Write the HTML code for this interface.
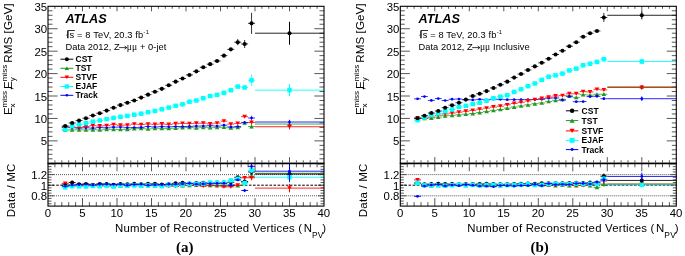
<!DOCTYPE html>
<html><head><meta charset="utf-8"><style>
html,body{margin:0;padding:0;background:#fff;}
body{width:685px;height:256px;overflow:hidden;font-family:"Liberation Sans", sans-serif;}
svg{display:block;will-change:transform;filter:blur(0.4px);}
</style></head><body>
<svg width="685" height="256" viewBox="0 0 685 256">
<rect width="685" height="256" fill="#fff"/>
<line x1="48.00" y1="158.81" x2="52.50" y2="158.81" stroke="#222" stroke-width="0.75" />
<line x1="324.00" y1="158.81" x2="319.50" y2="158.81" stroke="#222" stroke-width="0.75" />
<line x1="48.00" y1="154.33" x2="52.50" y2="154.33" stroke="#222" stroke-width="0.75" />
<line x1="324.00" y1="154.33" x2="319.50" y2="154.33" stroke="#222" stroke-width="0.75" />
<line x1="48.00" y1="149.84" x2="52.50" y2="149.84" stroke="#222" stroke-width="0.75" />
<line x1="324.00" y1="149.84" x2="319.50" y2="149.84" stroke="#222" stroke-width="0.75" />
<line x1="48.00" y1="145.36" x2="52.50" y2="145.36" stroke="#222" stroke-width="0.75" />
<line x1="324.00" y1="145.36" x2="319.50" y2="145.36" stroke="#222" stroke-width="0.75" />
<line x1="48.00" y1="140.87" x2="57.60" y2="140.87" stroke="#222" stroke-width="0.75" />
<line x1="324.00" y1="140.87" x2="314.40" y2="140.87" stroke="#222" stroke-width="0.75" />
<line x1="48.00" y1="136.39" x2="52.50" y2="136.39" stroke="#222" stroke-width="0.75" />
<line x1="324.00" y1="136.39" x2="319.50" y2="136.39" stroke="#222" stroke-width="0.75" />
<line x1="48.00" y1="131.90" x2="52.50" y2="131.90" stroke="#222" stroke-width="0.75" />
<line x1="324.00" y1="131.90" x2="319.50" y2="131.90" stroke="#222" stroke-width="0.75" />
<line x1="48.00" y1="127.41" x2="52.50" y2="127.41" stroke="#222" stroke-width="0.75" />
<line x1="324.00" y1="127.41" x2="319.50" y2="127.41" stroke="#222" stroke-width="0.75" />
<line x1="48.00" y1="122.93" x2="52.50" y2="122.93" stroke="#222" stroke-width="0.75" />
<line x1="324.00" y1="122.93" x2="319.50" y2="122.93" stroke="#222" stroke-width="0.75" />
<line x1="48.00" y1="118.44" x2="57.60" y2="118.44" stroke="#222" stroke-width="0.75" />
<line x1="324.00" y1="118.44" x2="314.40" y2="118.44" stroke="#222" stroke-width="0.75" />
<line x1="48.00" y1="113.96" x2="52.50" y2="113.96" stroke="#222" stroke-width="0.75" />
<line x1="324.00" y1="113.96" x2="319.50" y2="113.96" stroke="#222" stroke-width="0.75" />
<line x1="48.00" y1="109.47" x2="52.50" y2="109.47" stroke="#222" stroke-width="0.75" />
<line x1="324.00" y1="109.47" x2="319.50" y2="109.47" stroke="#222" stroke-width="0.75" />
<line x1="48.00" y1="104.99" x2="52.50" y2="104.99" stroke="#222" stroke-width="0.75" />
<line x1="324.00" y1="104.99" x2="319.50" y2="104.99" stroke="#222" stroke-width="0.75" />
<line x1="48.00" y1="100.50" x2="52.50" y2="100.50" stroke="#222" stroke-width="0.75" />
<line x1="324.00" y1="100.50" x2="319.50" y2="100.50" stroke="#222" stroke-width="0.75" />
<line x1="48.00" y1="96.01" x2="57.60" y2="96.01" stroke="#222" stroke-width="0.75" />
<line x1="324.00" y1="96.01" x2="314.40" y2="96.01" stroke="#222" stroke-width="0.75" />
<line x1="48.00" y1="91.53" x2="52.50" y2="91.53" stroke="#222" stroke-width="0.75" />
<line x1="324.00" y1="91.53" x2="319.50" y2="91.53" stroke="#222" stroke-width="0.75" />
<line x1="48.00" y1="87.04" x2="52.50" y2="87.04" stroke="#222" stroke-width="0.75" />
<line x1="324.00" y1="87.04" x2="319.50" y2="87.04" stroke="#222" stroke-width="0.75" />
<line x1="48.00" y1="82.56" x2="52.50" y2="82.56" stroke="#222" stroke-width="0.75" />
<line x1="324.00" y1="82.56" x2="319.50" y2="82.56" stroke="#222" stroke-width="0.75" />
<line x1="48.00" y1="78.07" x2="52.50" y2="78.07" stroke="#222" stroke-width="0.75" />
<line x1="324.00" y1="78.07" x2="319.50" y2="78.07" stroke="#222" stroke-width="0.75" />
<line x1="48.00" y1="73.59" x2="57.60" y2="73.59" stroke="#222" stroke-width="0.75" />
<line x1="324.00" y1="73.59" x2="314.40" y2="73.59" stroke="#222" stroke-width="0.75" />
<line x1="48.00" y1="69.10" x2="52.50" y2="69.10" stroke="#222" stroke-width="0.75" />
<line x1="324.00" y1="69.10" x2="319.50" y2="69.10" stroke="#222" stroke-width="0.75" />
<line x1="48.00" y1="64.61" x2="52.50" y2="64.61" stroke="#222" stroke-width="0.75" />
<line x1="324.00" y1="64.61" x2="319.50" y2="64.61" stroke="#222" stroke-width="0.75" />
<line x1="48.00" y1="60.13" x2="52.50" y2="60.13" stroke="#222" stroke-width="0.75" />
<line x1="324.00" y1="60.13" x2="319.50" y2="60.13" stroke="#222" stroke-width="0.75" />
<line x1="48.00" y1="55.64" x2="52.50" y2="55.64" stroke="#222" stroke-width="0.75" />
<line x1="324.00" y1="55.64" x2="319.50" y2="55.64" stroke="#222" stroke-width="0.75" />
<line x1="48.00" y1="51.16" x2="57.60" y2="51.16" stroke="#222" stroke-width="0.75" />
<line x1="324.00" y1="51.16" x2="314.40" y2="51.16" stroke="#222" stroke-width="0.75" />
<line x1="48.00" y1="46.67" x2="52.50" y2="46.67" stroke="#222" stroke-width="0.75" />
<line x1="324.00" y1="46.67" x2="319.50" y2="46.67" stroke="#222" stroke-width="0.75" />
<line x1="48.00" y1="42.19" x2="52.50" y2="42.19" stroke="#222" stroke-width="0.75" />
<line x1="324.00" y1="42.19" x2="319.50" y2="42.19" stroke="#222" stroke-width="0.75" />
<line x1="48.00" y1="37.70" x2="52.50" y2="37.70" stroke="#222" stroke-width="0.75" />
<line x1="324.00" y1="37.70" x2="319.50" y2="37.70" stroke="#222" stroke-width="0.75" />
<line x1="48.00" y1="33.21" x2="52.50" y2="33.21" stroke="#222" stroke-width="0.75" />
<line x1="324.00" y1="33.21" x2="319.50" y2="33.21" stroke="#222" stroke-width="0.75" />
<line x1="48.00" y1="28.73" x2="57.60" y2="28.73" stroke="#222" stroke-width="0.75" />
<line x1="324.00" y1="28.73" x2="314.40" y2="28.73" stroke="#222" stroke-width="0.75" />
<line x1="48.00" y1="24.24" x2="52.50" y2="24.24" stroke="#222" stroke-width="0.75" />
<line x1="324.00" y1="24.24" x2="319.50" y2="24.24" stroke="#222" stroke-width="0.75" />
<line x1="48.00" y1="19.76" x2="52.50" y2="19.76" stroke="#222" stroke-width="0.75" />
<line x1="324.00" y1="19.76" x2="319.50" y2="19.76" stroke="#222" stroke-width="0.75" />
<line x1="48.00" y1="15.27" x2="52.50" y2="15.27" stroke="#222" stroke-width="0.75" />
<line x1="324.00" y1="15.27" x2="319.50" y2="15.27" stroke="#222" stroke-width="0.75" />
<line x1="48.00" y1="10.79" x2="52.50" y2="10.79" stroke="#222" stroke-width="0.75" />
<line x1="324.00" y1="10.79" x2="319.50" y2="10.79" stroke="#222" stroke-width="0.75" />
<line x1="54.90" y1="6.30" x2="54.90" y2="8.80" stroke="#222" stroke-width="0.75" />
<line x1="54.90" y1="162.50" x2="54.90" y2="160.30" stroke="#222" stroke-width="0.75" />
<line x1="61.80" y1="6.30" x2="61.80" y2="8.80" stroke="#222" stroke-width="0.75" />
<line x1="61.80" y1="162.50" x2="61.80" y2="160.30" stroke="#222" stroke-width="0.75" />
<line x1="68.70" y1="6.30" x2="68.70" y2="8.80" stroke="#222" stroke-width="0.75" />
<line x1="68.70" y1="162.50" x2="68.70" y2="160.30" stroke="#222" stroke-width="0.75" />
<line x1="75.60" y1="6.30" x2="75.60" y2="8.80" stroke="#222" stroke-width="0.75" />
<line x1="75.60" y1="162.50" x2="75.60" y2="160.30" stroke="#222" stroke-width="0.75" />
<line x1="82.50" y1="6.30" x2="82.50" y2="11.30" stroke="#222" stroke-width="0.75" />
<line x1="82.50" y1="162.50" x2="82.50" y2="157.10" stroke="#222" stroke-width="0.75" />
<line x1="89.40" y1="6.30" x2="89.40" y2="8.80" stroke="#222" stroke-width="0.75" />
<line x1="89.40" y1="162.50" x2="89.40" y2="160.30" stroke="#222" stroke-width="0.75" />
<line x1="96.30" y1="6.30" x2="96.30" y2="8.80" stroke="#222" stroke-width="0.75" />
<line x1="96.30" y1="162.50" x2="96.30" y2="160.30" stroke="#222" stroke-width="0.75" />
<line x1="103.20" y1="6.30" x2="103.20" y2="8.80" stroke="#222" stroke-width="0.75" />
<line x1="103.20" y1="162.50" x2="103.20" y2="160.30" stroke="#222" stroke-width="0.75" />
<line x1="110.10" y1="6.30" x2="110.10" y2="8.80" stroke="#222" stroke-width="0.75" />
<line x1="110.10" y1="162.50" x2="110.10" y2="160.30" stroke="#222" stroke-width="0.75" />
<line x1="117.00" y1="6.30" x2="117.00" y2="11.30" stroke="#222" stroke-width="0.75" />
<line x1="117.00" y1="162.50" x2="117.00" y2="157.10" stroke="#222" stroke-width="0.75" />
<line x1="123.90" y1="6.30" x2="123.90" y2="8.80" stroke="#222" stroke-width="0.75" />
<line x1="123.90" y1="162.50" x2="123.90" y2="160.30" stroke="#222" stroke-width="0.75" />
<line x1="130.80" y1="6.30" x2="130.80" y2="8.80" stroke="#222" stroke-width="0.75" />
<line x1="130.80" y1="162.50" x2="130.80" y2="160.30" stroke="#222" stroke-width="0.75" />
<line x1="137.70" y1="6.30" x2="137.70" y2="8.80" stroke="#222" stroke-width="0.75" />
<line x1="137.70" y1="162.50" x2="137.70" y2="160.30" stroke="#222" stroke-width="0.75" />
<line x1="144.60" y1="6.30" x2="144.60" y2="8.80" stroke="#222" stroke-width="0.75" />
<line x1="144.60" y1="162.50" x2="144.60" y2="160.30" stroke="#222" stroke-width="0.75" />
<line x1="151.50" y1="6.30" x2="151.50" y2="11.30" stroke="#222" stroke-width="0.75" />
<line x1="151.50" y1="162.50" x2="151.50" y2="157.10" stroke="#222" stroke-width="0.75" />
<line x1="158.40" y1="6.30" x2="158.40" y2="8.80" stroke="#222" stroke-width="0.75" />
<line x1="158.40" y1="162.50" x2="158.40" y2="160.30" stroke="#222" stroke-width="0.75" />
<line x1="165.30" y1="6.30" x2="165.30" y2="8.80" stroke="#222" stroke-width="0.75" />
<line x1="165.30" y1="162.50" x2="165.30" y2="160.30" stroke="#222" stroke-width="0.75" />
<line x1="172.20" y1="6.30" x2="172.20" y2="8.80" stroke="#222" stroke-width="0.75" />
<line x1="172.20" y1="162.50" x2="172.20" y2="160.30" stroke="#222" stroke-width="0.75" />
<line x1="179.10" y1="6.30" x2="179.10" y2="8.80" stroke="#222" stroke-width="0.75" />
<line x1="179.10" y1="162.50" x2="179.10" y2="160.30" stroke="#222" stroke-width="0.75" />
<line x1="186.00" y1="6.30" x2="186.00" y2="11.30" stroke="#222" stroke-width="0.75" />
<line x1="186.00" y1="162.50" x2="186.00" y2="157.10" stroke="#222" stroke-width="0.75" />
<line x1="192.90" y1="6.30" x2="192.90" y2="8.80" stroke="#222" stroke-width="0.75" />
<line x1="192.90" y1="162.50" x2="192.90" y2="160.30" stroke="#222" stroke-width="0.75" />
<line x1="199.80" y1="6.30" x2="199.80" y2="8.80" stroke="#222" stroke-width="0.75" />
<line x1="199.80" y1="162.50" x2="199.80" y2="160.30" stroke="#222" stroke-width="0.75" />
<line x1="206.70" y1="6.30" x2="206.70" y2="8.80" stroke="#222" stroke-width="0.75" />
<line x1="206.70" y1="162.50" x2="206.70" y2="160.30" stroke="#222" stroke-width="0.75" />
<line x1="213.60" y1="6.30" x2="213.60" y2="8.80" stroke="#222" stroke-width="0.75" />
<line x1="213.60" y1="162.50" x2="213.60" y2="160.30" stroke="#222" stroke-width="0.75" />
<line x1="220.50" y1="6.30" x2="220.50" y2="11.30" stroke="#222" stroke-width="0.75" />
<line x1="220.50" y1="162.50" x2="220.50" y2="157.10" stroke="#222" stroke-width="0.75" />
<line x1="227.40" y1="6.30" x2="227.40" y2="8.80" stroke="#222" stroke-width="0.75" />
<line x1="227.40" y1="162.50" x2="227.40" y2="160.30" stroke="#222" stroke-width="0.75" />
<line x1="234.30" y1="6.30" x2="234.30" y2="8.80" stroke="#222" stroke-width="0.75" />
<line x1="234.30" y1="162.50" x2="234.30" y2="160.30" stroke="#222" stroke-width="0.75" />
<line x1="241.20" y1="6.30" x2="241.20" y2="8.80" stroke="#222" stroke-width="0.75" />
<line x1="241.20" y1="162.50" x2="241.20" y2="160.30" stroke="#222" stroke-width="0.75" />
<line x1="248.10" y1="6.30" x2="248.10" y2="8.80" stroke="#222" stroke-width="0.75" />
<line x1="248.10" y1="162.50" x2="248.10" y2="160.30" stroke="#222" stroke-width="0.75" />
<line x1="255.00" y1="6.30" x2="255.00" y2="11.30" stroke="#222" stroke-width="0.75" />
<line x1="255.00" y1="162.50" x2="255.00" y2="157.10" stroke="#222" stroke-width="0.75" />
<line x1="261.90" y1="6.30" x2="261.90" y2="8.80" stroke="#222" stroke-width="0.75" />
<line x1="261.90" y1="162.50" x2="261.90" y2="160.30" stroke="#222" stroke-width="0.75" />
<line x1="268.80" y1="6.30" x2="268.80" y2="8.80" stroke="#222" stroke-width="0.75" />
<line x1="268.80" y1="162.50" x2="268.80" y2="160.30" stroke="#222" stroke-width="0.75" />
<line x1="275.70" y1="6.30" x2="275.70" y2="8.80" stroke="#222" stroke-width="0.75" />
<line x1="275.70" y1="162.50" x2="275.70" y2="160.30" stroke="#222" stroke-width="0.75" />
<line x1="282.60" y1="6.30" x2="282.60" y2="8.80" stroke="#222" stroke-width="0.75" />
<line x1="282.60" y1="162.50" x2="282.60" y2="160.30" stroke="#222" stroke-width="0.75" />
<line x1="289.50" y1="6.30" x2="289.50" y2="11.30" stroke="#222" stroke-width="0.75" />
<line x1="289.50" y1="162.50" x2="289.50" y2="157.10" stroke="#222" stroke-width="0.75" />
<line x1="296.40" y1="6.30" x2="296.40" y2="8.80" stroke="#222" stroke-width="0.75" />
<line x1="296.40" y1="162.50" x2="296.40" y2="160.30" stroke="#222" stroke-width="0.75" />
<line x1="303.30" y1="6.30" x2="303.30" y2="8.80" stroke="#222" stroke-width="0.75" />
<line x1="303.30" y1="162.50" x2="303.30" y2="160.30" stroke="#222" stroke-width="0.75" />
<line x1="310.20" y1="6.30" x2="310.20" y2="8.80" stroke="#222" stroke-width="0.75" />
<line x1="310.20" y1="162.50" x2="310.20" y2="160.30" stroke="#222" stroke-width="0.75" />
<line x1="317.10" y1="6.30" x2="317.10" y2="8.80" stroke="#222" stroke-width="0.75" />
<line x1="317.10" y1="162.50" x2="317.10" y2="160.30" stroke="#222" stroke-width="0.75" />
<line x1="48.00" y1="203.75" x2="51.50" y2="203.75" stroke="#222" stroke-width="0.75" />
<line x1="324.00" y1="203.75" x2="320.50" y2="203.75" stroke="#222" stroke-width="0.75" />
<line x1="48.00" y1="201.10" x2="51.50" y2="201.10" stroke="#222" stroke-width="0.75" />
<line x1="324.00" y1="201.10" x2="320.50" y2="201.10" stroke="#222" stroke-width="0.75" />
<line x1="48.00" y1="198.45" x2="51.50" y2="198.45" stroke="#222" stroke-width="0.75" />
<line x1="324.00" y1="198.45" x2="320.50" y2="198.45" stroke="#222" stroke-width="0.75" />
<line x1="48.00" y1="195.80" x2="54.00" y2="195.80" stroke="#222" stroke-width="0.75" />
<line x1="324.00" y1="195.80" x2="318.00" y2="195.80" stroke="#222" stroke-width="0.75" />
<line x1="48.00" y1="193.15" x2="51.50" y2="193.15" stroke="#222" stroke-width="0.75" />
<line x1="324.00" y1="193.15" x2="320.50" y2="193.15" stroke="#222" stroke-width="0.75" />
<line x1="48.00" y1="190.50" x2="51.50" y2="190.50" stroke="#222" stroke-width="0.75" />
<line x1="324.00" y1="190.50" x2="320.50" y2="190.50" stroke="#222" stroke-width="0.75" />
<line x1="48.00" y1="187.85" x2="51.50" y2="187.85" stroke="#222" stroke-width="0.75" />
<line x1="324.00" y1="187.85" x2="320.50" y2="187.85" stroke="#222" stroke-width="0.75" />
<line x1="48.00" y1="185.20" x2="54.00" y2="185.20" stroke="#222" stroke-width="0.75" />
<line x1="324.00" y1="185.20" x2="318.00" y2="185.20" stroke="#222" stroke-width="0.75" />
<line x1="48.00" y1="182.55" x2="51.50" y2="182.55" stroke="#222" stroke-width="0.75" />
<line x1="324.00" y1="182.55" x2="320.50" y2="182.55" stroke="#222" stroke-width="0.75" />
<line x1="48.00" y1="179.90" x2="51.50" y2="179.90" stroke="#222" stroke-width="0.75" />
<line x1="324.00" y1="179.90" x2="320.50" y2="179.90" stroke="#222" stroke-width="0.75" />
<line x1="48.00" y1="177.25" x2="51.50" y2="177.25" stroke="#222" stroke-width="0.75" />
<line x1="324.00" y1="177.25" x2="320.50" y2="177.25" stroke="#222" stroke-width="0.75" />
<line x1="48.00" y1="174.60" x2="54.00" y2="174.60" stroke="#222" stroke-width="0.75" />
<line x1="324.00" y1="174.60" x2="318.00" y2="174.60" stroke="#222" stroke-width="0.75" />
<line x1="48.00" y1="171.95" x2="51.50" y2="171.95" stroke="#222" stroke-width="0.75" />
<line x1="324.00" y1="171.95" x2="320.50" y2="171.95" stroke="#222" stroke-width="0.75" />
<line x1="48.00" y1="169.30" x2="51.50" y2="169.30" stroke="#222" stroke-width="0.75" />
<line x1="324.00" y1="169.30" x2="320.50" y2="169.30" stroke="#222" stroke-width="0.75" />
<line x1="48.00" y1="166.65" x2="51.50" y2="166.65" stroke="#222" stroke-width="0.75" />
<line x1="324.00" y1="166.65" x2="320.50" y2="166.65" stroke="#222" stroke-width="0.75" />
<line x1="48.00" y1="164.00" x2="54.00" y2="164.00" stroke="#222" stroke-width="0.75" />
<line x1="324.00" y1="164.00" x2="318.00" y2="164.00" stroke="#222" stroke-width="0.75" />
<line x1="54.90" y1="163.30" x2="54.90" y2="167.30" stroke="#222" stroke-width="0.75" />
<line x1="54.90" y1="206.10" x2="54.90" y2="202.10" stroke="#222" stroke-width="0.75" />
<line x1="61.80" y1="163.30" x2="61.80" y2="167.30" stroke="#222" stroke-width="0.75" />
<line x1="61.80" y1="206.10" x2="61.80" y2="202.10" stroke="#222" stroke-width="0.75" />
<line x1="68.70" y1="163.30" x2="68.70" y2="167.30" stroke="#222" stroke-width="0.75" />
<line x1="68.70" y1="206.10" x2="68.70" y2="202.10" stroke="#222" stroke-width="0.75" />
<line x1="75.60" y1="163.30" x2="75.60" y2="167.30" stroke="#222" stroke-width="0.75" />
<line x1="75.60" y1="206.10" x2="75.60" y2="202.10" stroke="#222" stroke-width="0.75" />
<line x1="82.50" y1="163.30" x2="82.50" y2="171.30" stroke="#222" stroke-width="0.75" />
<line x1="82.50" y1="206.10" x2="82.50" y2="198.10" stroke="#222" stroke-width="0.75" />
<line x1="89.40" y1="163.30" x2="89.40" y2="167.30" stroke="#222" stroke-width="0.75" />
<line x1="89.40" y1="206.10" x2="89.40" y2="202.10" stroke="#222" stroke-width="0.75" />
<line x1="96.30" y1="163.30" x2="96.30" y2="167.30" stroke="#222" stroke-width="0.75" />
<line x1="96.30" y1="206.10" x2="96.30" y2="202.10" stroke="#222" stroke-width="0.75" />
<line x1="103.20" y1="163.30" x2="103.20" y2="167.30" stroke="#222" stroke-width="0.75" />
<line x1="103.20" y1="206.10" x2="103.20" y2="202.10" stroke="#222" stroke-width="0.75" />
<line x1="110.10" y1="163.30" x2="110.10" y2="167.30" stroke="#222" stroke-width="0.75" />
<line x1="110.10" y1="206.10" x2="110.10" y2="202.10" stroke="#222" stroke-width="0.75" />
<line x1="117.00" y1="163.30" x2="117.00" y2="171.30" stroke="#222" stroke-width="0.75" />
<line x1="117.00" y1="206.10" x2="117.00" y2="198.10" stroke="#222" stroke-width="0.75" />
<line x1="123.90" y1="163.30" x2="123.90" y2="167.30" stroke="#222" stroke-width="0.75" />
<line x1="123.90" y1="206.10" x2="123.90" y2="202.10" stroke="#222" stroke-width="0.75" />
<line x1="130.80" y1="163.30" x2="130.80" y2="167.30" stroke="#222" stroke-width="0.75" />
<line x1="130.80" y1="206.10" x2="130.80" y2="202.10" stroke="#222" stroke-width="0.75" />
<line x1="137.70" y1="163.30" x2="137.70" y2="167.30" stroke="#222" stroke-width="0.75" />
<line x1="137.70" y1="206.10" x2="137.70" y2="202.10" stroke="#222" stroke-width="0.75" />
<line x1="144.60" y1="163.30" x2="144.60" y2="167.30" stroke="#222" stroke-width="0.75" />
<line x1="144.60" y1="206.10" x2="144.60" y2="202.10" stroke="#222" stroke-width="0.75" />
<line x1="151.50" y1="163.30" x2="151.50" y2="171.30" stroke="#222" stroke-width="0.75" />
<line x1="151.50" y1="206.10" x2="151.50" y2="198.10" stroke="#222" stroke-width="0.75" />
<line x1="158.40" y1="163.30" x2="158.40" y2="167.30" stroke="#222" stroke-width="0.75" />
<line x1="158.40" y1="206.10" x2="158.40" y2="202.10" stroke="#222" stroke-width="0.75" />
<line x1="165.30" y1="163.30" x2="165.30" y2="167.30" stroke="#222" stroke-width="0.75" />
<line x1="165.30" y1="206.10" x2="165.30" y2="202.10" stroke="#222" stroke-width="0.75" />
<line x1="172.20" y1="163.30" x2="172.20" y2="167.30" stroke="#222" stroke-width="0.75" />
<line x1="172.20" y1="206.10" x2="172.20" y2="202.10" stroke="#222" stroke-width="0.75" />
<line x1="179.10" y1="163.30" x2="179.10" y2="167.30" stroke="#222" stroke-width="0.75" />
<line x1="179.10" y1="206.10" x2="179.10" y2="202.10" stroke="#222" stroke-width="0.75" />
<line x1="186.00" y1="163.30" x2="186.00" y2="171.30" stroke="#222" stroke-width="0.75" />
<line x1="186.00" y1="206.10" x2="186.00" y2="198.10" stroke="#222" stroke-width="0.75" />
<line x1="192.90" y1="163.30" x2="192.90" y2="167.30" stroke="#222" stroke-width="0.75" />
<line x1="192.90" y1="206.10" x2="192.90" y2="202.10" stroke="#222" stroke-width="0.75" />
<line x1="199.80" y1="163.30" x2="199.80" y2="167.30" stroke="#222" stroke-width="0.75" />
<line x1="199.80" y1="206.10" x2="199.80" y2="202.10" stroke="#222" stroke-width="0.75" />
<line x1="206.70" y1="163.30" x2="206.70" y2="167.30" stroke="#222" stroke-width="0.75" />
<line x1="206.70" y1="206.10" x2="206.70" y2="202.10" stroke="#222" stroke-width="0.75" />
<line x1="213.60" y1="163.30" x2="213.60" y2="167.30" stroke="#222" stroke-width="0.75" />
<line x1="213.60" y1="206.10" x2="213.60" y2="202.10" stroke="#222" stroke-width="0.75" />
<line x1="220.50" y1="163.30" x2="220.50" y2="171.30" stroke="#222" stroke-width="0.75" />
<line x1="220.50" y1="206.10" x2="220.50" y2="198.10" stroke="#222" stroke-width="0.75" />
<line x1="227.40" y1="163.30" x2="227.40" y2="167.30" stroke="#222" stroke-width="0.75" />
<line x1="227.40" y1="206.10" x2="227.40" y2="202.10" stroke="#222" stroke-width="0.75" />
<line x1="234.30" y1="163.30" x2="234.30" y2="167.30" stroke="#222" stroke-width="0.75" />
<line x1="234.30" y1="206.10" x2="234.30" y2="202.10" stroke="#222" stroke-width="0.75" />
<line x1="241.20" y1="163.30" x2="241.20" y2="167.30" stroke="#222" stroke-width="0.75" />
<line x1="241.20" y1="206.10" x2="241.20" y2="202.10" stroke="#222" stroke-width="0.75" />
<line x1="248.10" y1="163.30" x2="248.10" y2="167.30" stroke="#222" stroke-width="0.75" />
<line x1="248.10" y1="206.10" x2="248.10" y2="202.10" stroke="#222" stroke-width="0.75" />
<line x1="255.00" y1="163.30" x2="255.00" y2="171.30" stroke="#222" stroke-width="0.75" />
<line x1="255.00" y1="206.10" x2="255.00" y2="198.10" stroke="#222" stroke-width="0.75" />
<line x1="261.90" y1="163.30" x2="261.90" y2="167.30" stroke="#222" stroke-width="0.75" />
<line x1="261.90" y1="206.10" x2="261.90" y2="202.10" stroke="#222" stroke-width="0.75" />
<line x1="268.80" y1="163.30" x2="268.80" y2="167.30" stroke="#222" stroke-width="0.75" />
<line x1="268.80" y1="206.10" x2="268.80" y2="202.10" stroke="#222" stroke-width="0.75" />
<line x1="275.70" y1="163.30" x2="275.70" y2="167.30" stroke="#222" stroke-width="0.75" />
<line x1="275.70" y1="206.10" x2="275.70" y2="202.10" stroke="#222" stroke-width="0.75" />
<line x1="282.60" y1="163.30" x2="282.60" y2="167.30" stroke="#222" stroke-width="0.75" />
<line x1="282.60" y1="206.10" x2="282.60" y2="202.10" stroke="#222" stroke-width="0.75" />
<line x1="289.50" y1="163.30" x2="289.50" y2="171.30" stroke="#222" stroke-width="0.75" />
<line x1="289.50" y1="206.10" x2="289.50" y2="198.10" stroke="#222" stroke-width="0.75" />
<line x1="296.40" y1="163.30" x2="296.40" y2="167.30" stroke="#222" stroke-width="0.75" />
<line x1="296.40" y1="206.10" x2="296.40" y2="202.10" stroke="#222" stroke-width="0.75" />
<line x1="303.30" y1="163.30" x2="303.30" y2="167.30" stroke="#222" stroke-width="0.75" />
<line x1="303.30" y1="206.10" x2="303.30" y2="202.10" stroke="#222" stroke-width="0.75" />
<line x1="310.20" y1="163.30" x2="310.20" y2="167.30" stroke="#222" stroke-width="0.75" />
<line x1="310.20" y1="206.10" x2="310.20" y2="202.10" stroke="#222" stroke-width="0.75" />
<line x1="317.10" y1="163.30" x2="317.10" y2="167.30" stroke="#222" stroke-width="0.75" />
<line x1="317.10" y1="206.10" x2="317.10" y2="202.10" stroke="#222" stroke-width="0.75" />
<line x1="48.00" y1="174.60" x2="324.00" y2="174.60" stroke="#444" stroke-width="0.9" stroke-dasharray="1,1"/>
<line x1="48.00" y1="195.80" x2="324.00" y2="195.80" stroke="#444" stroke-width="0.9" stroke-dasharray="1,1"/>
<line x1="48.00" y1="185.20" x2="324.00" y2="185.20" stroke="#000" stroke-width="1.0" stroke-dasharray="2.6,1.5"/>
<line x1="61.80" y1="130.03" x2="68.70" y2="130.03" stroke="#1f9a1f" stroke-width="0.8" />
<polygon points="65.25,128.13 67.60,131.93 62.90,131.93" fill="#1f9a1f"/>
<line x1="68.70" y1="129.85" x2="75.60" y2="129.85" stroke="#1f9a1f" stroke-width="0.8" />
<polygon points="72.15,127.95 74.50,131.75 69.80,131.75" fill="#1f9a1f"/>
<line x1="75.60" y1="129.79" x2="82.50" y2="129.79" stroke="#1f9a1f" stroke-width="0.8" />
<polygon points="79.05,127.89 81.40,131.69 76.70,131.69" fill="#1f9a1f"/>
<line x1="82.50" y1="129.93" x2="89.40" y2="129.93" stroke="#1f9a1f" stroke-width="0.8" />
<polygon points="85.95,128.03 88.30,131.83 83.60,131.83" fill="#1f9a1f"/>
<line x1="89.40" y1="129.73" x2="96.30" y2="129.73" stroke="#1f9a1f" stroke-width="0.8" />
<polygon points="92.85,127.83 95.20,131.63 90.50,131.63" fill="#1f9a1f"/>
<line x1="96.30" y1="129.92" x2="103.20" y2="129.92" stroke="#1f9a1f" stroke-width="0.8" />
<polygon points="99.75,128.02 102.10,131.82 97.40,131.82" fill="#1f9a1f"/>
<line x1="103.20" y1="129.31" x2="110.10" y2="129.31" stroke="#1f9a1f" stroke-width="0.8" />
<polygon points="106.65,127.41 109.00,131.21 104.30,131.21" fill="#1f9a1f"/>
<line x1="110.10" y1="129.32" x2="117.00" y2="129.32" stroke="#1f9a1f" stroke-width="0.8" />
<polygon points="113.55,127.42 115.90,131.22 111.20,131.22" fill="#1f9a1f"/>
<line x1="117.00" y1="129.36" x2="123.90" y2="129.36" stroke="#1f9a1f" stroke-width="0.8" />
<polygon points="120.45,127.46 122.80,131.26 118.10,131.26" fill="#1f9a1f"/>
<line x1="123.90" y1="129.37" x2="130.80" y2="129.37" stroke="#1f9a1f" stroke-width="0.8" />
<polygon points="127.35,127.47 129.70,131.27 125.00,131.27" fill="#1f9a1f"/>
<line x1="130.80" y1="128.66" x2="137.70" y2="128.66" stroke="#1f9a1f" stroke-width="0.8" />
<polygon points="134.25,126.76 136.60,130.56 131.90,130.56" fill="#1f9a1f"/>
<line x1="137.70" y1="128.41" x2="144.60" y2="128.41" stroke="#1f9a1f" stroke-width="0.8" />
<polygon points="141.15,126.51 143.50,130.31 138.80,130.31" fill="#1f9a1f"/>
<line x1="144.60" y1="128.91" x2="151.50" y2="128.91" stroke="#1f9a1f" stroke-width="0.8" />
<polygon points="148.05,127.01 150.40,130.81 145.70,130.81" fill="#1f9a1f"/>
<line x1="151.50" y1="128.25" x2="158.40" y2="128.25" stroke="#1f9a1f" stroke-width="0.8" />
<polygon points="154.95,126.35 157.30,130.15 152.60,130.15" fill="#1f9a1f"/>
<line x1="158.40" y1="128.38" x2="165.30" y2="128.38" stroke="#1f9a1f" stroke-width="0.8" />
<polygon points="161.85,126.48 164.20,130.28 159.50,130.28" fill="#1f9a1f"/>
<line x1="165.30" y1="128.41" x2="172.20" y2="128.41" stroke="#1f9a1f" stroke-width="0.8" />
<polygon points="168.75,126.51 171.10,130.31 166.40,130.31" fill="#1f9a1f"/>
<line x1="172.20" y1="128.16" x2="179.10" y2="128.16" stroke="#1f9a1f" stroke-width="0.8" />
<polygon points="175.65,126.26 178.00,130.06 173.30,130.06" fill="#1f9a1f"/>
<line x1="179.10" y1="127.67" x2="186.00" y2="127.67" stroke="#1f9a1f" stroke-width="0.8" />
<polygon points="182.55,125.77 184.90,129.57 180.20,129.57" fill="#1f9a1f"/>
<line x1="186.00" y1="127.45" x2="192.90" y2="127.45" stroke="#1f9a1f" stroke-width="0.8" />
<polygon points="189.45,125.55 191.80,129.35 187.10,129.35" fill="#1f9a1f"/>
<line x1="192.90" y1="127.89" x2="199.80" y2="127.89" stroke="#1f9a1f" stroke-width="0.8" />
<polygon points="196.35,125.99 198.70,129.79 194.00,129.79" fill="#1f9a1f"/>
<line x1="199.80" y1="127.33" x2="206.70" y2="127.33" stroke="#1f9a1f" stroke-width="0.8" />
<polygon points="203.25,125.43 205.60,129.23 200.90,129.23" fill="#1f9a1f"/>
<line x1="206.70" y1="127.70" x2="213.60" y2="127.70" stroke="#1f9a1f" stroke-width="0.8" />
<polygon points="210.15,125.80 212.50,129.60 207.80,129.60" fill="#1f9a1f"/>
<line x1="213.60" y1="127.41" x2="220.50" y2="127.41" stroke="#1f9a1f" stroke-width="0.8" />
<polygon points="217.05,125.51 219.40,129.31 214.70,129.31" fill="#1f9a1f"/>
<line x1="220.50" y1="127.19" x2="227.40" y2="127.19" stroke="#1f9a1f" stroke-width="0.8" />
<polygon points="223.95,125.29 226.30,129.09 221.60,129.09" fill="#1f9a1f"/>
<line x1="227.40" y1="127.86" x2="234.30" y2="127.86" stroke="#1f9a1f" stroke-width="0.8" />
<polygon points="230.85,125.96 233.20,129.76 228.50,129.76" fill="#1f9a1f"/>
<line x1="234.30" y1="127.41" x2="241.20" y2="127.41" stroke="#1f9a1f" stroke-width="0.8" />
<polygon points="237.75,125.51 240.10,129.31 235.40,129.31" fill="#1f9a1f"/>
<line x1="241.20" y1="122.93" x2="248.10" y2="122.93" stroke="#1f9a1f" stroke-width="0.8" />
<line x1="244.65" y1="121.58" x2="244.65" y2="124.27" stroke="#1f9a1f" stroke-width="0.8" />
<polygon points="244.65,121.03 247.00,124.83 242.30,124.83" fill="#1f9a1f"/>
<line x1="248.10" y1="126.52" x2="255.00" y2="126.52" stroke="#1f9a1f" stroke-width="0.8" />
<line x1="251.55" y1="124.72" x2="251.55" y2="128.31" stroke="#1f9a1f" stroke-width="0.8" />
<polygon points="251.55,124.62 253.90,128.42 249.20,128.42" fill="#1f9a1f"/>
<line x1="255.00" y1="124.05" x2="324.00" y2="124.05" stroke="#1f9a1f" stroke-width="0.85" />
<line x1="289.50" y1="122.26" x2="289.50" y2="125.84" stroke="#1f9a1f" stroke-width="1.0" />
<polygon points="289.50,122.15 291.85,125.95 287.15,125.95" fill="#1f9a1f"/>
<line x1="61.80" y1="127.49" x2="68.70" y2="127.49" stroke="#0000ff" stroke-width="0.8" />
<circle cx="65.25" cy="127.49" r="1.35" fill="#0000ff"/>
<line x1="68.70" y1="127.66" x2="75.60" y2="127.66" stroke="#0000ff" stroke-width="0.8" />
<circle cx="72.15" cy="127.66" r="1.35" fill="#0000ff"/>
<line x1="75.60" y1="128.12" x2="82.50" y2="128.12" stroke="#0000ff" stroke-width="0.8" />
<circle cx="79.05" cy="128.12" r="1.35" fill="#0000ff"/>
<line x1="82.50" y1="127.78" x2="89.40" y2="127.78" stroke="#0000ff" stroke-width="0.8" />
<circle cx="85.95" cy="127.78" r="1.35" fill="#0000ff"/>
<line x1="89.40" y1="128.11" x2="96.30" y2="128.11" stroke="#0000ff" stroke-width="0.8" />
<circle cx="92.85" cy="128.11" r="1.35" fill="#0000ff"/>
<line x1="96.30" y1="127.59" x2="103.20" y2="127.59" stroke="#0000ff" stroke-width="0.8" />
<circle cx="99.75" cy="127.59" r="1.35" fill="#0000ff"/>
<line x1="103.20" y1="127.76" x2="110.10" y2="127.76" stroke="#0000ff" stroke-width="0.8" />
<circle cx="106.65" cy="127.76" r="1.35" fill="#0000ff"/>
<line x1="110.10" y1="127.17" x2="117.00" y2="127.17" stroke="#0000ff" stroke-width="0.8" />
<circle cx="113.55" cy="127.17" r="1.35" fill="#0000ff"/>
<line x1="117.00" y1="127.07" x2="123.90" y2="127.07" stroke="#0000ff" stroke-width="0.8" />
<circle cx="120.45" cy="127.07" r="1.35" fill="#0000ff"/>
<line x1="123.90" y1="127.66" x2="130.80" y2="127.66" stroke="#0000ff" stroke-width="0.8" />
<circle cx="127.35" cy="127.66" r="1.35" fill="#0000ff"/>
<line x1="130.80" y1="127.52" x2="137.70" y2="127.52" stroke="#0000ff" stroke-width="0.8" />
<circle cx="134.25" cy="127.52" r="1.35" fill="#0000ff"/>
<line x1="137.70" y1="127.33" x2="144.60" y2="127.33" stroke="#0000ff" stroke-width="0.8" />
<circle cx="141.15" cy="127.33" r="1.35" fill="#0000ff"/>
<line x1="144.60" y1="126.55" x2="151.50" y2="126.55" stroke="#0000ff" stroke-width="0.8" />
<circle cx="148.05" cy="126.55" r="1.35" fill="#0000ff"/>
<line x1="151.50" y1="126.91" x2="158.40" y2="126.91" stroke="#0000ff" stroke-width="0.8" />
<circle cx="154.95" cy="126.91" r="1.35" fill="#0000ff"/>
<line x1="158.40" y1="126.63" x2="165.30" y2="126.63" stroke="#0000ff" stroke-width="0.8" />
<circle cx="161.85" cy="126.63" r="1.35" fill="#0000ff"/>
<line x1="165.30" y1="126.81" x2="172.20" y2="126.81" stroke="#0000ff" stroke-width="0.8" />
<circle cx="168.75" cy="126.81" r="1.35" fill="#0000ff"/>
<line x1="172.20" y1="126.51" x2="179.10" y2="126.51" stroke="#0000ff" stroke-width="0.8" />
<circle cx="175.65" cy="126.51" r="1.35" fill="#0000ff"/>
<line x1="179.10" y1="126.51" x2="186.00" y2="126.51" stroke="#0000ff" stroke-width="0.8" />
<circle cx="182.55" cy="126.51" r="1.35" fill="#0000ff"/>
<line x1="186.00" y1="126.43" x2="192.90" y2="126.43" stroke="#0000ff" stroke-width="0.8" />
<circle cx="189.45" cy="126.43" r="1.35" fill="#0000ff"/>
<line x1="192.90" y1="126.10" x2="199.80" y2="126.10" stroke="#0000ff" stroke-width="0.8" />
<circle cx="196.35" cy="126.10" r="1.35" fill="#0000ff"/>
<line x1="199.80" y1="125.99" x2="206.70" y2="125.99" stroke="#0000ff" stroke-width="0.8" />
<circle cx="203.25" cy="125.99" r="1.35" fill="#0000ff"/>
<line x1="206.70" y1="125.71" x2="213.60" y2="125.71" stroke="#0000ff" stroke-width="0.8" />
<circle cx="210.15" cy="125.71" r="1.35" fill="#0000ff"/>
<line x1="213.60" y1="126.07" x2="220.50" y2="126.07" stroke="#0000ff" stroke-width="0.8" />
<circle cx="217.05" cy="126.07" r="1.35" fill="#0000ff"/>
<line x1="220.50" y1="125.17" x2="227.40" y2="125.17" stroke="#0000ff" stroke-width="0.8" />
<circle cx="223.95" cy="125.17" r="1.35" fill="#0000ff"/>
<line x1="227.40" y1="126.97" x2="234.30" y2="126.97" stroke="#0000ff" stroke-width="0.8" />
<circle cx="230.85" cy="126.97" r="1.35" fill="#0000ff"/>
<line x1="234.30" y1="126.52" x2="241.20" y2="126.52" stroke="#0000ff" stroke-width="0.8" />
<circle cx="237.75" cy="126.52" r="1.35" fill="#0000ff"/>
<line x1="241.20" y1="122.48" x2="248.10" y2="122.48" stroke="#0000ff" stroke-width="0.8" />
<line x1="244.65" y1="120.91" x2="244.65" y2="124.05" stroke="#0000ff" stroke-width="0.8" />
<circle cx="244.65" cy="122.48" r="1.35" fill="#0000ff"/>
<line x1="248.10" y1="117.99" x2="255.00" y2="117.99" stroke="#0000ff" stroke-width="0.8" />
<line x1="251.55" y1="115.75" x2="251.55" y2="120.24" stroke="#0000ff" stroke-width="0.8" />
<circle cx="251.55" cy="117.99" r="1.35" fill="#0000ff"/>
<line x1="255.00" y1="122.03" x2="324.00" y2="122.03" stroke="#0000ff" stroke-width="0.85" />
<line x1="289.50" y1="119.79" x2="289.50" y2="124.27" stroke="#0000ff" stroke-width="1.0" />
<circle cx="289.50" cy="122.03" r="1.35" fill="#0000ff"/>
<line x1="61.80" y1="126.89" x2="68.70" y2="126.89" stroke="#ff0000" stroke-width="0.8" />
<polygon points="65.25,128.79 67.60,124.99 62.90,124.99" fill="#ff0000"/>
<line x1="68.70" y1="127.14" x2="75.60" y2="127.14" stroke="#ff0000" stroke-width="0.8" />
<polygon points="72.15,129.04 74.50,125.24 69.80,125.24" fill="#ff0000"/>
<line x1="75.60" y1="127.55" x2="82.50" y2="127.55" stroke="#ff0000" stroke-width="0.8" />
<polygon points="79.05,129.45 81.40,125.65 76.70,125.65" fill="#ff0000"/>
<line x1="82.50" y1="126.49" x2="89.40" y2="126.49" stroke="#ff0000" stroke-width="0.8" />
<polygon points="85.95,128.39 88.30,124.59 83.60,124.59" fill="#ff0000"/>
<line x1="89.40" y1="125.75" x2="96.30" y2="125.75" stroke="#ff0000" stroke-width="0.8" />
<polygon points="92.85,127.65 95.20,123.85 90.50,123.85" fill="#ff0000"/>
<line x1="96.30" y1="126.00" x2="103.20" y2="126.00" stroke="#ff0000" stroke-width="0.8" />
<polygon points="99.75,127.90 102.10,124.10 97.40,124.10" fill="#ff0000"/>
<line x1="103.20" y1="125.70" x2="110.10" y2="125.70" stroke="#ff0000" stroke-width="0.8" />
<polygon points="106.65,127.60 109.00,123.80 104.30,123.80" fill="#ff0000"/>
<line x1="110.10" y1="124.70" x2="117.00" y2="124.70" stroke="#ff0000" stroke-width="0.8" />
<polygon points="113.55,126.60 115.90,122.80 111.20,122.80" fill="#ff0000"/>
<line x1="117.00" y1="125.21" x2="123.90" y2="125.21" stroke="#ff0000" stroke-width="0.8" />
<polygon points="120.45,127.11 122.80,123.31 118.10,123.31" fill="#ff0000"/>
<line x1="123.90" y1="125.10" x2="130.80" y2="125.10" stroke="#ff0000" stroke-width="0.8" />
<polygon points="127.35,127.00 129.70,123.20 125.00,123.20" fill="#ff0000"/>
<line x1="130.80" y1="124.15" x2="137.70" y2="124.15" stroke="#ff0000" stroke-width="0.8" />
<polygon points="134.25,126.05 136.60,122.25 131.90,122.25" fill="#ff0000"/>
<line x1="137.70" y1="124.59" x2="144.60" y2="124.59" stroke="#ff0000" stroke-width="0.8" />
<polygon points="141.15,126.49 143.50,122.69 138.80,122.69" fill="#ff0000"/>
<line x1="144.60" y1="124.06" x2="151.50" y2="124.06" stroke="#ff0000" stroke-width="0.8" />
<polygon points="148.05,125.96 150.40,122.16 145.70,122.16" fill="#ff0000"/>
<line x1="151.50" y1="124.32" x2="158.40" y2="124.32" stroke="#ff0000" stroke-width="0.8" />
<polygon points="154.95,126.22 157.30,122.42 152.60,122.42" fill="#ff0000"/>
<line x1="158.40" y1="124.01" x2="165.30" y2="124.01" stroke="#ff0000" stroke-width="0.8" />
<polygon points="161.85,125.91 164.20,122.11 159.50,122.11" fill="#ff0000"/>
<line x1="165.30" y1="124.41" x2="172.20" y2="124.41" stroke="#ff0000" stroke-width="0.8" />
<polygon points="168.75,126.31 171.10,122.51 166.40,122.51" fill="#ff0000"/>
<line x1="172.20" y1="123.76" x2="179.10" y2="123.76" stroke="#ff0000" stroke-width="0.8" />
<polygon points="175.65,125.66 178.00,121.86 173.30,121.86" fill="#ff0000"/>
<line x1="179.10" y1="123.37" x2="186.00" y2="123.37" stroke="#ff0000" stroke-width="0.8" />
<polygon points="182.55,125.27 184.90,121.47 180.20,121.47" fill="#ff0000"/>
<line x1="186.00" y1="123.61" x2="192.90" y2="123.61" stroke="#ff0000" stroke-width="0.8" />
<polygon points="189.45,125.51 191.80,121.71 187.10,121.71" fill="#ff0000"/>
<line x1="192.90" y1="123.25" x2="199.80" y2="123.25" stroke="#ff0000" stroke-width="0.8" />
<polygon points="196.35,125.15 198.70,121.35 194.00,121.35" fill="#ff0000"/>
<line x1="199.80" y1="123.19" x2="206.70" y2="123.19" stroke="#ff0000" stroke-width="0.8" />
<polygon points="203.25,125.09 205.60,121.29 200.90,121.29" fill="#ff0000"/>
<line x1="206.70" y1="123.85" x2="213.60" y2="123.85" stroke="#ff0000" stroke-width="0.8" />
<polygon points="210.15,125.75 212.50,121.95 207.80,121.95" fill="#ff0000"/>
<line x1="213.60" y1="123.15" x2="220.50" y2="123.15" stroke="#ff0000" stroke-width="0.8" />
<polygon points="217.05,125.05 219.40,121.25 214.70,121.25" fill="#ff0000"/>
<line x1="220.50" y1="121.13" x2="227.40" y2="121.13" stroke="#ff0000" stroke-width="0.8" />
<polygon points="223.95,123.03 226.30,119.23 221.60,119.23" fill="#ff0000"/>
<line x1="227.40" y1="124.05" x2="234.30" y2="124.05" stroke="#ff0000" stroke-width="0.8" />
<polygon points="230.85,125.95 233.20,122.15 228.50,122.15" fill="#ff0000"/>
<line x1="234.30" y1="123.38" x2="241.20" y2="123.38" stroke="#ff0000" stroke-width="0.8" />
<polygon points="237.75,125.28 240.10,121.48 235.40,121.48" fill="#ff0000"/>
<line x1="241.20" y1="116.65" x2="248.10" y2="116.65" stroke="#ff0000" stroke-width="0.8" />
<line x1="244.65" y1="115.08" x2="244.65" y2="118.22" stroke="#ff0000" stroke-width="0.8" />
<polygon points="244.65,118.55 247.00,114.75 242.30,114.75" fill="#ff0000"/>
<line x1="248.10" y1="122.48" x2="255.00" y2="122.48" stroke="#ff0000" stroke-width="0.8" />
<line x1="251.55" y1="120.24" x2="251.55" y2="124.72" stroke="#ff0000" stroke-width="0.8" />
<polygon points="251.55,124.38 253.90,120.58 249.20,120.58" fill="#ff0000"/>
<line x1="255.00" y1="126.74" x2="324.00" y2="126.74" stroke="#ff0000" stroke-width="0.85" />
<line x1="289.50" y1="124.05" x2="289.50" y2="129.43" stroke="#ff0000" stroke-width="1.0" />
<polygon points="289.50,128.64 291.85,124.84 287.15,124.84" fill="#ff0000"/>
<line x1="61.80" y1="129.52" x2="68.70" y2="129.52" stroke="#00ffff" stroke-width="0.8" />
<rect x="63.00" y="127.27" width="4.50" height="4.50" fill="#00ffff"/>
<line x1="68.70" y1="126.11" x2="75.60" y2="126.11" stroke="#00ffff" stroke-width="0.8" />
<rect x="69.90" y="123.86" width="4.50" height="4.50" fill="#00ffff"/>
<line x1="75.60" y1="124.50" x2="82.50" y2="124.50" stroke="#00ffff" stroke-width="0.8" />
<rect x="76.80" y="122.25" width="4.50" height="4.50" fill="#00ffff"/>
<line x1="82.50" y1="123.11" x2="89.40" y2="123.11" stroke="#00ffff" stroke-width="0.8" />
<rect x="83.70" y="120.86" width="4.50" height="4.50" fill="#00ffff"/>
<line x1="89.40" y1="121.72" x2="96.30" y2="121.72" stroke="#00ffff" stroke-width="0.8" />
<rect x="90.60" y="119.47" width="4.50" height="4.50" fill="#00ffff"/>
<line x1="96.30" y1="120.42" x2="103.20" y2="120.42" stroke="#00ffff" stroke-width="0.8" />
<rect x="97.50" y="118.17" width="4.50" height="4.50" fill="#00ffff"/>
<line x1="103.20" y1="119.12" x2="110.10" y2="119.12" stroke="#00ffff" stroke-width="0.8" />
<rect x="104.40" y="116.87" width="4.50" height="4.50" fill="#00ffff"/>
<line x1="110.10" y1="117.90" x2="117.00" y2="117.90" stroke="#00ffff" stroke-width="0.8" />
<rect x="111.30" y="115.65" width="4.50" height="4.50" fill="#00ffff"/>
<line x1="117.00" y1="116.78" x2="123.90" y2="116.78" stroke="#00ffff" stroke-width="0.8" />
<rect x="118.20" y="114.53" width="4.50" height="4.50" fill="#00ffff"/>
<line x1="123.90" y1="115.89" x2="130.80" y2="115.89" stroke="#00ffff" stroke-width="0.8" />
<rect x="125.10" y="113.64" width="4.50" height="4.50" fill="#00ffff"/>
<line x1="130.80" y1="114.72" x2="137.70" y2="114.72" stroke="#00ffff" stroke-width="0.8" />
<rect x="132.00" y="112.47" width="4.50" height="4.50" fill="#00ffff"/>
<line x1="137.70" y1="113.69" x2="144.60" y2="113.69" stroke="#00ffff" stroke-width="0.8" />
<rect x="138.90" y="111.44" width="4.50" height="4.50" fill="#00ffff"/>
<line x1="144.60" y1="112.21" x2="151.50" y2="112.21" stroke="#00ffff" stroke-width="0.8" />
<rect x="145.80" y="109.96" width="4.50" height="4.50" fill="#00ffff"/>
<line x1="151.50" y1="110.91" x2="158.40" y2="110.91" stroke="#00ffff" stroke-width="0.8" />
<rect x="152.70" y="108.66" width="4.50" height="4.50" fill="#00ffff"/>
<line x1="158.40" y1="109.29" x2="165.30" y2="109.29" stroke="#00ffff" stroke-width="0.8" />
<rect x="159.60" y="107.04" width="4.50" height="4.50" fill="#00ffff"/>
<line x1="165.30" y1="107.59" x2="172.20" y2="107.59" stroke="#00ffff" stroke-width="0.8" />
<rect x="166.50" y="105.34" width="4.50" height="4.50" fill="#00ffff"/>
<line x1="172.20" y1="105.79" x2="179.10" y2="105.79" stroke="#00ffff" stroke-width="0.8" />
<rect x="173.40" y="103.54" width="4.50" height="4.50" fill="#00ffff"/>
<line x1="179.10" y1="104.31" x2="186.00" y2="104.31" stroke="#00ffff" stroke-width="0.8" />
<rect x="180.30" y="102.06" width="4.50" height="4.50" fill="#00ffff"/>
<line x1="186.00" y1="101.71" x2="192.90" y2="101.71" stroke="#00ffff" stroke-width="0.8" />
<rect x="187.20" y="99.46" width="4.50" height="4.50" fill="#00ffff"/>
<line x1="192.90" y1="100.50" x2="199.80" y2="100.50" stroke="#00ffff" stroke-width="0.8" />
<rect x="194.10" y="98.25" width="4.50" height="4.50" fill="#00ffff"/>
<line x1="199.80" y1="98.26" x2="206.70" y2="98.26" stroke="#00ffff" stroke-width="0.8" />
<rect x="201.00" y="96.01" width="4.50" height="4.50" fill="#00ffff"/>
<line x1="206.70" y1="96.01" x2="213.60" y2="96.01" stroke="#00ffff" stroke-width="0.8" />
<rect x="207.90" y="93.76" width="4.50" height="4.50" fill="#00ffff"/>
<line x1="213.60" y1="94.89" x2="220.50" y2="94.89" stroke="#00ffff" stroke-width="0.8" />
<rect x="214.80" y="92.64" width="4.50" height="4.50" fill="#00ffff"/>
<line x1="220.50" y1="92.87" x2="227.40" y2="92.87" stroke="#00ffff" stroke-width="0.8" />
<rect x="221.70" y="90.62" width="4.50" height="4.50" fill="#00ffff"/>
<line x1="227.40" y1="90.18" x2="234.30" y2="90.18" stroke="#00ffff" stroke-width="0.8" />
<rect x="228.60" y="87.93" width="4.50" height="4.50" fill="#00ffff"/>
<line x1="234.30" y1="86.59" x2="241.20" y2="86.59" stroke="#00ffff" stroke-width="0.8" />
<line x1="237.75" y1="85.25" x2="237.75" y2="87.94" stroke="#00ffff" stroke-width="0.8" />
<rect x="235.50" y="84.34" width="4.50" height="4.50" fill="#00ffff"/>
<line x1="241.20" y1="87.49" x2="248.10" y2="87.49" stroke="#00ffff" stroke-width="0.8" />
<line x1="244.65" y1="85.70" x2="244.65" y2="89.29" stroke="#00ffff" stroke-width="0.8" />
<rect x="242.40" y="85.24" width="4.50" height="4.50" fill="#00ffff"/>
<line x1="248.10" y1="80.31" x2="255.00" y2="80.31" stroke="#00ffff" stroke-width="0.8" />
<line x1="251.55" y1="74.48" x2="251.55" y2="86.15" stroke="#00ffff" stroke-width="0.8" />
<rect x="249.30" y="78.06" width="4.50" height="4.50" fill="#00ffff"/>
<line x1="255.00" y1="90.18" x2="324.00" y2="90.18" stroke="#00ffff" stroke-width="0.85" />
<line x1="289.50" y1="84.13" x2="289.50" y2="96.24" stroke="#00ffff" stroke-width="1.0" />
<rect x="287.25" y="87.93" width="4.50" height="4.50" fill="#00ffff"/>
<line x1="61.80" y1="126.11" x2="68.70" y2="126.11" stroke="#000000" stroke-width="0.8" />
<circle cx="65.25" cy="126.11" r="2.05" fill="#000000"/>
<line x1="68.70" y1="122.93" x2="75.60" y2="122.93" stroke="#000000" stroke-width="0.8" />
<circle cx="72.15" cy="122.93" r="2.05" fill="#000000"/>
<line x1="75.60" y1="120.60" x2="82.50" y2="120.60" stroke="#000000" stroke-width="0.8" />
<circle cx="79.05" cy="120.60" r="2.05" fill="#000000"/>
<line x1="82.50" y1="118.22" x2="89.40" y2="118.22" stroke="#000000" stroke-width="0.8" />
<circle cx="85.95" cy="118.22" r="2.05" fill="#000000"/>
<line x1="89.40" y1="115.48" x2="96.30" y2="115.48" stroke="#000000" stroke-width="0.8" />
<circle cx="92.85" cy="115.48" r="2.05" fill="#000000"/>
<line x1="96.30" y1="113.19" x2="103.20" y2="113.19" stroke="#000000" stroke-width="0.8" />
<circle cx="99.75" cy="113.19" r="2.05" fill="#000000"/>
<line x1="103.20" y1="110.59" x2="110.10" y2="110.59" stroke="#000000" stroke-width="0.8" />
<circle cx="106.65" cy="110.59" r="2.05" fill="#000000"/>
<line x1="110.10" y1="107.81" x2="117.00" y2="107.81" stroke="#000000" stroke-width="0.8" />
<circle cx="113.55" cy="107.81" r="2.05" fill="#000000"/>
<line x1="117.00" y1="105.12" x2="123.90" y2="105.12" stroke="#000000" stroke-width="0.8" />
<circle cx="120.45" cy="105.12" r="2.05" fill="#000000"/>
<line x1="123.90" y1="102.70" x2="130.80" y2="102.70" stroke="#000000" stroke-width="0.8" />
<circle cx="127.35" cy="102.70" r="2.05" fill="#000000"/>
<line x1="130.80" y1="100.50" x2="137.70" y2="100.50" stroke="#000000" stroke-width="0.8" />
<circle cx="134.25" cy="100.50" r="2.05" fill="#000000"/>
<line x1="137.70" y1="97.58" x2="144.60" y2="97.58" stroke="#000000" stroke-width="0.8" />
<circle cx="141.15" cy="97.58" r="2.05" fill="#000000"/>
<line x1="144.60" y1="94.67" x2="151.50" y2="94.67" stroke="#000000" stroke-width="0.8" />
<circle cx="148.05" cy="94.67" r="2.05" fill="#000000"/>
<line x1="151.50" y1="91.75" x2="158.40" y2="91.75" stroke="#000000" stroke-width="0.8" />
<circle cx="154.95" cy="91.75" r="2.05" fill="#000000"/>
<line x1="158.40" y1="88.84" x2="165.30" y2="88.84" stroke="#000000" stroke-width="0.8" />
<circle cx="161.85" cy="88.84" r="2.05" fill="#000000"/>
<line x1="165.30" y1="85.25" x2="172.20" y2="85.25" stroke="#000000" stroke-width="0.8" />
<circle cx="168.75" cy="85.25" r="2.05" fill="#000000"/>
<line x1="172.20" y1="81.66" x2="179.10" y2="81.66" stroke="#000000" stroke-width="0.8" />
<circle cx="175.65" cy="81.66" r="2.05" fill="#000000"/>
<line x1="179.10" y1="78.52" x2="186.00" y2="78.52" stroke="#000000" stroke-width="0.8" />
<circle cx="182.55" cy="78.52" r="2.05" fill="#000000"/>
<line x1="186.00" y1="74.93" x2="192.90" y2="74.93" stroke="#000000" stroke-width="0.8" />
<circle cx="189.45" cy="74.93" r="2.05" fill="#000000"/>
<line x1="192.90" y1="71.34" x2="199.80" y2="71.34" stroke="#000000" stroke-width="0.8" />
<circle cx="196.35" cy="71.34" r="2.05" fill="#000000"/>
<line x1="199.80" y1="67.31" x2="206.70" y2="67.31" stroke="#000000" stroke-width="0.8" />
<circle cx="203.25" cy="67.31" r="2.05" fill="#000000"/>
<line x1="206.70" y1="64.17" x2="213.60" y2="64.17" stroke="#000000" stroke-width="0.8" />
<circle cx="210.15" cy="64.17" r="2.05" fill="#000000"/>
<line x1="213.60" y1="61.03" x2="220.50" y2="61.03" stroke="#000000" stroke-width="0.8" />
<circle cx="217.05" cy="61.03" r="2.05" fill="#000000"/>
<line x1="220.50" y1="55.64" x2="227.40" y2="55.64" stroke="#000000" stroke-width="0.8" />
<circle cx="223.95" cy="55.64" r="2.05" fill="#000000"/>
<line x1="227.40" y1="49.36" x2="234.30" y2="49.36" stroke="#000000" stroke-width="0.8" />
<circle cx="230.85" cy="49.36" r="2.05" fill="#000000"/>
<line x1="234.30" y1="42.19" x2="241.20" y2="42.19" stroke="#000000" stroke-width="0.8" />
<line x1="237.75" y1="39.05" x2="237.75" y2="45.33" stroke="#000000" stroke-width="0.8" />
<circle cx="237.75" cy="42.19" r="2.05" fill="#000000"/>
<line x1="241.20" y1="43.98" x2="248.10" y2="43.98" stroke="#000000" stroke-width="0.8" />
<line x1="244.65" y1="39.94" x2="244.65" y2="48.02" stroke="#000000" stroke-width="0.8" />
<circle cx="244.65" cy="43.98" r="2.05" fill="#000000"/>
<line x1="248.10" y1="23.35" x2="255.00" y2="23.35" stroke="#000000" stroke-width="0.8" />
<line x1="251.55" y1="12.80" x2="251.55" y2="33.89" stroke="#000000" stroke-width="0.8" />
<circle cx="251.55" cy="23.35" r="2.05" fill="#000000"/>
<line x1="255.00" y1="33.21" x2="324.00" y2="33.21" stroke="#000000" stroke-width="0.85" />
<line x1="289.50" y1="21.73" x2="289.50" y2="44.70" stroke="#000000" stroke-width="1.0" />
<circle cx="289.50" cy="33.21" r="2.05" fill="#000000"/>
<line x1="61.80" y1="185.20" x2="68.70" y2="185.20" stroke="#1f9a1f" stroke-width="0.9" />
<polygon points="65.25,183.30 67.60,187.10 62.90,187.10" fill="#1f9a1f"/>
<line x1="68.70" y1="185.80" x2="75.60" y2="185.80" stroke="#1f9a1f" stroke-width="0.9" />
<polygon points="72.15,183.90 74.50,187.70 69.80,187.70" fill="#1f9a1f"/>
<line x1="75.60" y1="185.11" x2="82.50" y2="185.11" stroke="#1f9a1f" stroke-width="0.9" />
<polygon points="79.05,183.21 81.40,187.01 76.70,187.01" fill="#1f9a1f"/>
<line x1="82.50" y1="184.90" x2="89.40" y2="184.90" stroke="#1f9a1f" stroke-width="0.9" />
<polygon points="85.95,183.00 88.30,186.80 83.60,186.80" fill="#1f9a1f"/>
<line x1="89.40" y1="185.44" x2="96.30" y2="185.44" stroke="#1f9a1f" stroke-width="0.9" />
<polygon points="92.85,183.54 95.20,187.34 90.50,187.34" fill="#1f9a1f"/>
<line x1="96.30" y1="185.55" x2="103.20" y2="185.55" stroke="#1f9a1f" stroke-width="0.9" />
<polygon points="99.75,183.65 102.10,187.45 97.40,187.45" fill="#1f9a1f"/>
<line x1="103.20" y1="184.81" x2="110.10" y2="184.81" stroke="#1f9a1f" stroke-width="0.9" />
<polygon points="106.65,182.91 109.00,186.71 104.30,186.71" fill="#1f9a1f"/>
<line x1="110.10" y1="185.53" x2="117.00" y2="185.53" stroke="#1f9a1f" stroke-width="0.9" />
<polygon points="113.55,183.63 115.90,187.43 111.20,187.43" fill="#1f9a1f"/>
<line x1="117.00" y1="185.60" x2="123.90" y2="185.60" stroke="#1f9a1f" stroke-width="0.9" />
<polygon points="120.45,183.70 122.80,187.50 118.10,187.50" fill="#1f9a1f"/>
<line x1="123.90" y1="185.28" x2="130.80" y2="185.28" stroke="#1f9a1f" stroke-width="0.9" />
<polygon points="127.35,183.38 129.70,187.18 125.00,187.18" fill="#1f9a1f"/>
<line x1="130.80" y1="184.95" x2="137.70" y2="184.95" stroke="#1f9a1f" stroke-width="0.9" />
<polygon points="134.25,183.05 136.60,186.85 131.90,186.85" fill="#1f9a1f"/>
<line x1="137.70" y1="185.71" x2="144.60" y2="185.71" stroke="#1f9a1f" stroke-width="0.9" />
<polygon points="141.15,183.81 143.50,187.61 138.80,187.61" fill="#1f9a1f"/>
<line x1="144.60" y1="185.43" x2="151.50" y2="185.43" stroke="#1f9a1f" stroke-width="0.9" />
<polygon points="148.05,183.53 150.40,187.33 145.70,187.33" fill="#1f9a1f"/>
<line x1="151.50" y1="185.41" x2="158.40" y2="185.41" stroke="#1f9a1f" stroke-width="0.9" />
<polygon points="154.95,183.51 157.30,187.31 152.60,187.31" fill="#1f9a1f"/>
<line x1="158.40" y1="184.78" x2="165.30" y2="184.78" stroke="#1f9a1f" stroke-width="0.9" />
<polygon points="161.85,182.88 164.20,186.68 159.50,186.68" fill="#1f9a1f"/>
<line x1="165.30" y1="185.28" x2="172.20" y2="185.28" stroke="#1f9a1f" stroke-width="0.9" />
<polygon points="168.75,183.38 171.10,187.18 166.40,187.18" fill="#1f9a1f"/>
<line x1="172.20" y1="184.75" x2="179.10" y2="184.75" stroke="#1f9a1f" stroke-width="0.9" />
<polygon points="175.65,182.85 178.00,186.65 173.30,186.65" fill="#1f9a1f"/>
<line x1="179.10" y1="185.62" x2="186.00" y2="185.62" stroke="#1f9a1f" stroke-width="0.9" />
<polygon points="182.55,183.72 184.90,187.52 180.20,187.52" fill="#1f9a1f"/>
<line x1="186.00" y1="185.41" x2="192.90" y2="185.41" stroke="#1f9a1f" stroke-width="0.9" />
<polygon points="189.45,183.51 191.80,187.31 187.10,187.31" fill="#1f9a1f"/>
<line x1="192.90" y1="185.01" x2="199.80" y2="185.01" stroke="#1f9a1f" stroke-width="0.9" />
<polygon points="196.35,183.11 198.70,186.91 194.00,186.91" fill="#1f9a1f"/>
<line x1="199.80" y1="184.71" x2="206.70" y2="184.71" stroke="#1f9a1f" stroke-width="0.9" />
<polygon points="203.25,182.81 205.60,186.61 200.90,186.61" fill="#1f9a1f"/>
<line x1="206.70" y1="185.26" x2="213.60" y2="185.26" stroke="#1f9a1f" stroke-width="0.9" />
<polygon points="210.15,183.36 212.50,187.16 207.80,187.16" fill="#1f9a1f"/>
<line x1="213.60" y1="185.55" x2="220.50" y2="185.55" stroke="#1f9a1f" stroke-width="0.9" />
<polygon points="217.05,183.65 219.40,187.45 214.70,187.45" fill="#1f9a1f"/>
<line x1="220.50" y1="185.68" x2="227.40" y2="185.68" stroke="#1f9a1f" stroke-width="0.9" />
<polygon points="223.95,183.78 226.30,187.58 221.60,187.58" fill="#1f9a1f"/>
<line x1="227.40" y1="185.16" x2="234.30" y2="185.16" stroke="#1f9a1f" stroke-width="0.9" />
<polygon points="230.85,183.26 233.20,187.06 228.50,187.06" fill="#1f9a1f"/>
<line x1="234.30" y1="185.59" x2="241.20" y2="185.59" stroke="#1f9a1f" stroke-width="0.9" />
<polygon points="237.75,183.69 240.10,187.49 235.40,187.49" fill="#1f9a1f"/>
<line x1="241.20" y1="182.55" x2="248.10" y2="182.55" stroke="#1f9a1f" stroke-width="0.9" />
<line x1="244.65" y1="180.96" x2="244.65" y2="184.14" stroke="#1f9a1f" stroke-width="0.9" />
<polygon points="244.65,180.65 247.00,184.45 242.30,184.45" fill="#1f9a1f"/>
<line x1="248.10" y1="176.19" x2="255.00" y2="176.19" stroke="#1f9a1f" stroke-width="0.9" />
<line x1="251.55" y1="173.54" x2="251.55" y2="178.84" stroke="#1f9a1f" stroke-width="0.9" />
<polygon points="251.55,174.29 253.90,178.09 249.20,178.09" fill="#1f9a1f"/>
<line x1="255.00" y1="173.27" x2="324.00" y2="173.27" stroke="#1f9a1f" stroke-width="0.85" />
<polygon points="289.50,171.37 291.85,175.17 287.15,175.17" fill="#1f9a1f"/>
<line x1="61.80" y1="183.40" x2="68.70" y2="183.40" stroke="#ff0000" stroke-width="0.9" />
<polygon points="65.25,185.30 67.60,181.50 62.90,181.50" fill="#ff0000"/>
<line x1="68.70" y1="185.75" x2="75.60" y2="185.75" stroke="#ff0000" stroke-width="0.9" />
<polygon points="72.15,187.65 74.50,183.85 69.80,183.85" fill="#ff0000"/>
<line x1="75.60" y1="185.07" x2="82.50" y2="185.07" stroke="#ff0000" stroke-width="0.9" />
<polygon points="79.05,186.97 81.40,183.17 76.70,183.17" fill="#ff0000"/>
<line x1="82.50" y1="185.28" x2="89.40" y2="185.28" stroke="#ff0000" stroke-width="0.9" />
<polygon points="85.95,187.18 88.30,183.38 83.60,183.38" fill="#ff0000"/>
<line x1="89.40" y1="185.08" x2="96.30" y2="185.08" stroke="#ff0000" stroke-width="0.9" />
<polygon points="92.85,186.98 95.20,183.18 90.50,183.18" fill="#ff0000"/>
<line x1="96.30" y1="185.66" x2="103.20" y2="185.66" stroke="#ff0000" stroke-width="0.9" />
<polygon points="99.75,187.56 102.10,183.76 97.40,183.76" fill="#ff0000"/>
<line x1="103.20" y1="185.94" x2="110.10" y2="185.94" stroke="#ff0000" stroke-width="0.9" />
<polygon points="106.65,187.84 109.00,184.04 104.30,184.04" fill="#ff0000"/>
<line x1="110.10" y1="185.73" x2="117.00" y2="185.73" stroke="#ff0000" stroke-width="0.9" />
<polygon points="113.55,187.63 115.90,183.83 111.20,183.83" fill="#ff0000"/>
<line x1="117.00" y1="185.09" x2="123.90" y2="185.09" stroke="#ff0000" stroke-width="0.9" />
<polygon points="120.45,186.99 122.80,183.19 118.10,183.19" fill="#ff0000"/>
<line x1="123.90" y1="185.76" x2="130.80" y2="185.76" stroke="#ff0000" stroke-width="0.9" />
<polygon points="127.35,187.66 129.70,183.86 125.00,183.86" fill="#ff0000"/>
<line x1="130.80" y1="185.66" x2="137.70" y2="185.66" stroke="#ff0000" stroke-width="0.9" />
<polygon points="134.25,187.56 136.60,183.76 131.90,183.76" fill="#ff0000"/>
<line x1="137.70" y1="185.57" x2="144.60" y2="185.57" stroke="#ff0000" stroke-width="0.9" />
<polygon points="141.15,187.47 143.50,183.67 138.80,183.67" fill="#ff0000"/>
<line x1="144.60" y1="185.57" x2="151.50" y2="185.57" stroke="#ff0000" stroke-width="0.9" />
<polygon points="148.05,187.47 150.40,183.67 145.70,183.67" fill="#ff0000"/>
<line x1="151.50" y1="185.62" x2="158.40" y2="185.62" stroke="#ff0000" stroke-width="0.9" />
<polygon points="154.95,187.52 157.30,183.72 152.60,183.72" fill="#ff0000"/>
<line x1="158.40" y1="185.06" x2="165.30" y2="185.06" stroke="#ff0000" stroke-width="0.9" />
<polygon points="161.85,186.96 164.20,183.16 159.50,183.16" fill="#ff0000"/>
<line x1="165.30" y1="186.12" x2="172.20" y2="186.12" stroke="#ff0000" stroke-width="0.9" />
<polygon points="168.75,188.02 171.10,184.22 166.40,184.22" fill="#ff0000"/>
<line x1="172.20" y1="186.40" x2="179.10" y2="186.40" stroke="#ff0000" stroke-width="0.9" />
<polygon points="175.65,188.30 178.00,184.50 173.30,184.50" fill="#ff0000"/>
<line x1="179.10" y1="185.30" x2="186.00" y2="185.30" stroke="#ff0000" stroke-width="0.9" />
<polygon points="182.55,187.20 184.90,183.40 180.20,183.40" fill="#ff0000"/>
<line x1="186.00" y1="185.47" x2="192.90" y2="185.47" stroke="#ff0000" stroke-width="0.9" />
<polygon points="189.45,187.37 191.80,183.57 187.10,183.57" fill="#ff0000"/>
<line x1="192.90" y1="185.42" x2="199.80" y2="185.42" stroke="#ff0000" stroke-width="0.9" />
<polygon points="196.35,187.32 198.70,183.52 194.00,183.52" fill="#ff0000"/>
<line x1="199.80" y1="186.21" x2="206.70" y2="186.21" stroke="#ff0000" stroke-width="0.9" />
<polygon points="203.25,188.11 205.60,184.31 200.90,184.31" fill="#ff0000"/>
<line x1="206.70" y1="185.64" x2="213.60" y2="185.64" stroke="#ff0000" stroke-width="0.9" />
<polygon points="210.15,187.54 212.50,183.74 207.80,183.74" fill="#ff0000"/>
<line x1="213.60" y1="185.76" x2="220.50" y2="185.76" stroke="#ff0000" stroke-width="0.9" />
<polygon points="217.05,187.66 219.40,183.86 214.70,183.86" fill="#ff0000"/>
<line x1="220.50" y1="186.75" x2="227.40" y2="186.75" stroke="#ff0000" stroke-width="0.9" />
<polygon points="223.95,188.65 226.30,184.85 221.60,184.85" fill="#ff0000"/>
<line x1="227.40" y1="186.79" x2="234.30" y2="186.79" stroke="#ff0000" stroke-width="0.9" />
<polygon points="230.85,188.69 233.20,184.89 228.50,184.89" fill="#ff0000"/>
<line x1="234.30" y1="185.20" x2="241.20" y2="185.20" stroke="#ff0000" stroke-width="0.9" />
<polygon points="237.75,187.10 240.10,183.30 235.40,183.30" fill="#ff0000"/>
<line x1="241.20" y1="177.78" x2="248.10" y2="177.78" stroke="#ff0000" stroke-width="0.9" />
<line x1="244.65" y1="176.19" x2="244.65" y2="179.37" stroke="#ff0000" stroke-width="0.9" />
<polygon points="244.65,179.68 247.00,175.88 242.30,175.88" fill="#ff0000"/>
<line x1="248.10" y1="177.78" x2="255.00" y2="177.78" stroke="#ff0000" stroke-width="0.9" />
<line x1="251.55" y1="175.13" x2="251.55" y2="180.43" stroke="#ff0000" stroke-width="0.9" />
<polygon points="251.55,179.68 253.90,175.88 249.20,175.88" fill="#ff0000"/>
<line x1="255.00" y1="188.11" x2="324.00" y2="188.11" stroke="#ff0000" stroke-width="0.85" />
<line x1="289.50" y1="183.87" x2="289.50" y2="192.35" stroke="#ff0000" stroke-width="1.0" />
<polygon points="289.50,190.01 291.85,186.21 287.15,186.21" fill="#ff0000"/>
<line x1="61.80" y1="185.20" x2="68.70" y2="185.20" stroke="#000" stroke-width="0.9" />
<circle cx="65.25" cy="185.20" r="2.05" fill="#000"/>
<line x1="68.70" y1="182.55" x2="75.60" y2="182.55" stroke="#000" stroke-width="0.9" />
<circle cx="72.15" cy="182.55" r="2.05" fill="#000"/>
<line x1="75.60" y1="184.25" x2="82.50" y2="184.25" stroke="#000" stroke-width="0.9" />
<circle cx="79.05" cy="184.25" r="2.05" fill="#000"/>
<line x1="82.50" y1="184.04" x2="89.40" y2="184.04" stroke="#000" stroke-width="0.9" />
<circle cx="85.95" cy="184.04" r="2.05" fill="#000"/>
<line x1="89.40" y1="184.75" x2="96.30" y2="184.75" stroke="#000" stroke-width="0.9" />
<circle cx="92.85" cy="184.75" r="2.05" fill="#000"/>
<line x1="96.30" y1="183.99" x2="103.20" y2="183.99" stroke="#000" stroke-width="0.9" />
<circle cx="99.75" cy="183.99" r="2.05" fill="#000"/>
<line x1="103.20" y1="183.97" x2="110.10" y2="183.97" stroke="#000" stroke-width="0.9" />
<circle cx="106.65" cy="183.97" r="2.05" fill="#000"/>
<line x1="110.10" y1="184.70" x2="117.00" y2="184.70" stroke="#000" stroke-width="0.9" />
<circle cx="113.55" cy="184.70" r="2.05" fill="#000"/>
<line x1="117.00" y1="183.98" x2="123.90" y2="183.98" stroke="#000" stroke-width="0.9" />
<circle cx="120.45" cy="183.98" r="2.05" fill="#000"/>
<line x1="123.90" y1="184.18" x2="130.80" y2="184.18" stroke="#000" stroke-width="0.9" />
<circle cx="127.35" cy="184.18" r="2.05" fill="#000"/>
<line x1="130.80" y1="183.91" x2="137.70" y2="183.91" stroke="#000" stroke-width="0.9" />
<circle cx="134.25" cy="183.91" r="2.05" fill="#000"/>
<line x1="137.70" y1="184.33" x2="144.60" y2="184.33" stroke="#000" stroke-width="0.9" />
<circle cx="141.15" cy="184.33" r="2.05" fill="#000"/>
<line x1="144.60" y1="183.88" x2="151.50" y2="183.88" stroke="#000" stroke-width="0.9" />
<circle cx="148.05" cy="183.88" r="2.05" fill="#000"/>
<line x1="151.50" y1="183.75" x2="158.40" y2="183.75" stroke="#000" stroke-width="0.9" />
<circle cx="154.95" cy="183.75" r="2.05" fill="#000"/>
<line x1="158.40" y1="184.48" x2="165.30" y2="184.48" stroke="#000" stroke-width="0.9" />
<circle cx="161.85" cy="184.48" r="2.05" fill="#000"/>
<line x1="165.30" y1="184.26" x2="172.20" y2="184.26" stroke="#000" stroke-width="0.9" />
<circle cx="168.75" cy="184.26" r="2.05" fill="#000"/>
<line x1="172.20" y1="183.30" x2="179.10" y2="183.30" stroke="#000" stroke-width="0.9" />
<circle cx="175.65" cy="183.30" r="2.05" fill="#000"/>
<line x1="179.10" y1="182.76" x2="186.00" y2="182.76" stroke="#000" stroke-width="0.9" />
<circle cx="182.55" cy="182.76" r="2.05" fill="#000"/>
<line x1="186.00" y1="183.48" x2="192.90" y2="183.48" stroke="#000" stroke-width="0.9" />
<circle cx="189.45" cy="183.48" r="2.05" fill="#000"/>
<line x1="192.90" y1="183.05" x2="199.80" y2="183.05" stroke="#000" stroke-width="0.9" />
<circle cx="196.35" cy="183.05" r="2.05" fill="#000"/>
<line x1="199.80" y1="182.70" x2="206.70" y2="182.70" stroke="#000" stroke-width="0.9" />
<circle cx="203.25" cy="182.70" r="2.05" fill="#000"/>
<line x1="206.70" y1="182.87" x2="213.60" y2="182.87" stroke="#000" stroke-width="0.9" />
<circle cx="210.15" cy="182.87" r="2.05" fill="#000"/>
<line x1="213.60" y1="182.63" x2="220.50" y2="182.63" stroke="#000" stroke-width="0.9" />
<circle cx="217.05" cy="182.63" r="2.05" fill="#000"/>
<line x1="220.50" y1="182.52" x2="227.40" y2="182.52" stroke="#000" stroke-width="0.9" />
<circle cx="223.95" cy="182.52" r="2.05" fill="#000"/>
<line x1="227.40" y1="182.27" x2="234.30" y2="182.27" stroke="#000" stroke-width="0.9" />
<circle cx="230.85" cy="182.27" r="2.05" fill="#000"/>
<line x1="234.30" y1="177.25" x2="241.20" y2="177.25" stroke="#000" stroke-width="0.9" />
<circle cx="237.75" cy="177.25" r="2.05" fill="#000"/>
<line x1="241.20" y1="181.49" x2="248.10" y2="181.49" stroke="#000" stroke-width="0.9" />
<line x1="244.65" y1="179.90" x2="244.65" y2="183.08" stroke="#000" stroke-width="0.9" />
<circle cx="244.65" cy="181.49" r="2.05" fill="#000"/>
<line x1="248.10" y1="171.95" x2="255.00" y2="171.95" stroke="#000" stroke-width="0.9" />
<line x1="251.55" y1="169.30" x2="251.55" y2="174.60" stroke="#000" stroke-width="0.9" />
<circle cx="251.55" cy="171.95" r="2.05" fill="#000"/>
<line x1="255.00" y1="174.07" x2="324.00" y2="174.07" stroke="#000" stroke-width="0.85" />
<line x1="289.50" y1="171.42" x2="289.50" y2="176.72" stroke="#000" stroke-width="1.0" />
<circle cx="289.50" cy="174.07" r="2.05" fill="#000"/>
<line x1="61.80" y1="187.32" x2="68.70" y2="187.32" stroke="#00ffff" stroke-width="0.9" />
<rect x="63.00" y="185.07" width="4.50" height="4.50" fill="#00ffff"/>
<line x1="68.70" y1="186.20" x2="75.60" y2="186.20" stroke="#00ffff" stroke-width="0.9" />
<rect x="69.90" y="183.95" width="4.50" height="4.50" fill="#00ffff"/>
<line x1="75.60" y1="186.34" x2="82.50" y2="186.34" stroke="#00ffff" stroke-width="0.9" />
<rect x="76.80" y="184.09" width="4.50" height="4.50" fill="#00ffff"/>
<line x1="82.50" y1="186.54" x2="89.40" y2="186.54" stroke="#00ffff" stroke-width="0.9" />
<rect x="83.70" y="184.29" width="4.50" height="4.50" fill="#00ffff"/>
<line x1="89.40" y1="185.88" x2="96.30" y2="185.88" stroke="#00ffff" stroke-width="0.9" />
<rect x="90.60" y="183.63" width="4.50" height="4.50" fill="#00ffff"/>
<line x1="96.30" y1="186.27" x2="103.20" y2="186.27" stroke="#00ffff" stroke-width="0.9" />
<rect x="97.50" y="184.02" width="4.50" height="4.50" fill="#00ffff"/>
<line x1="103.20" y1="185.60" x2="110.10" y2="185.60" stroke="#00ffff" stroke-width="0.9" />
<rect x="104.40" y="183.35" width="4.50" height="4.50" fill="#00ffff"/>
<line x1="110.10" y1="186.57" x2="117.00" y2="186.57" stroke="#00ffff" stroke-width="0.9" />
<rect x="111.30" y="184.32" width="4.50" height="4.50" fill="#00ffff"/>
<line x1="117.00" y1="185.48" x2="123.90" y2="185.48" stroke="#00ffff" stroke-width="0.9" />
<rect x="118.20" y="183.23" width="4.50" height="4.50" fill="#00ffff"/>
<line x1="123.90" y1="185.75" x2="130.80" y2="185.75" stroke="#00ffff" stroke-width="0.9" />
<rect x="125.10" y="183.50" width="4.50" height="4.50" fill="#00ffff"/>
<line x1="130.80" y1="185.46" x2="137.70" y2="185.46" stroke="#00ffff" stroke-width="0.9" />
<rect x="132.00" y="183.21" width="4.50" height="4.50" fill="#00ffff"/>
<line x1="137.70" y1="185.49" x2="144.60" y2="185.49" stroke="#00ffff" stroke-width="0.9" />
<rect x="138.90" y="183.24" width="4.50" height="4.50" fill="#00ffff"/>
<line x1="144.60" y1="185.49" x2="151.50" y2="185.49" stroke="#00ffff" stroke-width="0.9" />
<rect x="145.80" y="183.24" width="4.50" height="4.50" fill="#00ffff"/>
<line x1="151.50" y1="185.73" x2="158.40" y2="185.73" stroke="#00ffff" stroke-width="0.9" />
<rect x="152.70" y="183.48" width="4.50" height="4.50" fill="#00ffff"/>
<line x1="158.40" y1="186.12" x2="165.30" y2="186.12" stroke="#00ffff" stroke-width="0.9" />
<rect x="159.60" y="183.87" width="4.50" height="4.50" fill="#00ffff"/>
<line x1="165.30" y1="184.85" x2="172.20" y2="184.85" stroke="#00ffff" stroke-width="0.9" />
<rect x="166.50" y="182.60" width="4.50" height="4.50" fill="#00ffff"/>
<line x1="172.20" y1="185.25" x2="179.10" y2="185.25" stroke="#00ffff" stroke-width="0.9" />
<rect x="173.40" y="183.00" width="4.50" height="4.50" fill="#00ffff"/>
<line x1="179.10" y1="184.76" x2="186.00" y2="184.76" stroke="#00ffff" stroke-width="0.9" />
<rect x="180.30" y="182.51" width="4.50" height="4.50" fill="#00ffff"/>
<line x1="186.00" y1="183.97" x2="192.90" y2="183.97" stroke="#00ffff" stroke-width="0.9" />
<rect x="187.20" y="181.72" width="4.50" height="4.50" fill="#00ffff"/>
<line x1="192.90" y1="183.81" x2="199.80" y2="183.81" stroke="#00ffff" stroke-width="0.9" />
<rect x="194.10" y="181.56" width="4.50" height="4.50" fill="#00ffff"/>
<line x1="199.80" y1="183.62" x2="206.70" y2="183.62" stroke="#00ffff" stroke-width="0.9" />
<rect x="201.00" y="181.37" width="4.50" height="4.50" fill="#00ffff"/>
<line x1="206.70" y1="182.62" x2="213.60" y2="182.62" stroke="#00ffff" stroke-width="0.9" />
<rect x="207.90" y="180.37" width="4.50" height="4.50" fill="#00ffff"/>
<line x1="213.60" y1="182.71" x2="220.50" y2="182.71" stroke="#00ffff" stroke-width="0.9" />
<rect x="214.80" y="180.46" width="4.50" height="4.50" fill="#00ffff"/>
<line x1="220.50" y1="182.72" x2="227.40" y2="182.72" stroke="#00ffff" stroke-width="0.9" />
<rect x="221.70" y="180.47" width="4.50" height="4.50" fill="#00ffff"/>
<line x1="227.40" y1="180.43" x2="234.30" y2="180.43" stroke="#00ffff" stroke-width="0.9" />
<rect x="228.60" y="178.18" width="4.50" height="4.50" fill="#00ffff"/>
<line x1="234.30" y1="178.84" x2="241.20" y2="178.84" stroke="#00ffff" stroke-width="0.9" />
<rect x="235.50" y="176.59" width="4.50" height="4.50" fill="#00ffff"/>
<line x1="241.20" y1="183.08" x2="248.10" y2="183.08" stroke="#00ffff" stroke-width="0.9" />
<line x1="244.65" y1="181.49" x2="244.65" y2="184.67" stroke="#00ffff" stroke-width="0.9" />
<rect x="242.40" y="180.83" width="4.50" height="4.50" fill="#00ffff"/>
<line x1="248.10" y1="170.36" x2="255.00" y2="170.36" stroke="#00ffff" stroke-width="0.9" />
<line x1="251.55" y1="167.71" x2="251.55" y2="173.01" stroke="#00ffff" stroke-width="0.9" />
<rect x="249.30" y="168.11" width="4.50" height="4.50" fill="#00ffff"/>
<line x1="255.00" y1="177.25" x2="324.00" y2="177.25" stroke="#00ffff" stroke-width="0.85" />
<line x1="289.50" y1="171.95" x2="289.50" y2="182.55" stroke="#00ffff" stroke-width="1.0" />
<rect x="287.25" y="175.00" width="4.50" height="4.50" fill="#00ffff"/>
<line x1="61.80" y1="186.26" x2="68.70" y2="186.26" stroke="#0000ff" stroke-width="0.9" />
<circle cx="65.25" cy="186.26" r="1.35" fill="#0000ff"/>
<line x1="68.70" y1="185.05" x2="75.60" y2="185.05" stroke="#0000ff" stroke-width="0.9" />
<circle cx="72.15" cy="185.05" r="1.35" fill="#0000ff"/>
<line x1="75.60" y1="184.63" x2="82.50" y2="184.63" stroke="#0000ff" stroke-width="0.9" />
<circle cx="79.05" cy="184.63" r="1.35" fill="#0000ff"/>
<line x1="82.50" y1="184.27" x2="89.40" y2="184.27" stroke="#0000ff" stroke-width="0.9" />
<circle cx="85.95" cy="184.27" r="1.35" fill="#0000ff"/>
<line x1="89.40" y1="185.09" x2="96.30" y2="185.09" stroke="#0000ff" stroke-width="0.9" />
<circle cx="92.85" cy="185.09" r="1.35" fill="#0000ff"/>
<line x1="96.30" y1="184.30" x2="103.20" y2="184.30" stroke="#0000ff" stroke-width="0.9" />
<circle cx="99.75" cy="184.30" r="1.35" fill="#0000ff"/>
<line x1="103.20" y1="184.13" x2="110.10" y2="184.13" stroke="#0000ff" stroke-width="0.9" />
<circle cx="106.65" cy="184.13" r="1.35" fill="#0000ff"/>
<line x1="110.10" y1="184.28" x2="117.00" y2="184.28" stroke="#0000ff" stroke-width="0.9" />
<circle cx="113.55" cy="184.28" r="1.35" fill="#0000ff"/>
<line x1="117.00" y1="184.26" x2="123.90" y2="184.26" stroke="#0000ff" stroke-width="0.9" />
<circle cx="120.45" cy="184.26" r="1.35" fill="#0000ff"/>
<line x1="123.90" y1="185.30" x2="130.80" y2="185.30" stroke="#0000ff" stroke-width="0.9" />
<circle cx="127.35" cy="185.30" r="1.35" fill="#0000ff"/>
<line x1="130.80" y1="184.51" x2="137.70" y2="184.51" stroke="#0000ff" stroke-width="0.9" />
<circle cx="134.25" cy="184.51" r="1.35" fill="#0000ff"/>
<line x1="137.70" y1="184.21" x2="144.60" y2="184.21" stroke="#0000ff" stroke-width="0.9" />
<circle cx="141.15" cy="184.21" r="1.35" fill="#0000ff"/>
<line x1="144.60" y1="185.24" x2="151.50" y2="185.24" stroke="#0000ff" stroke-width="0.9" />
<circle cx="148.05" cy="185.24" r="1.35" fill="#0000ff"/>
<line x1="151.50" y1="184.87" x2="158.40" y2="184.87" stroke="#0000ff" stroke-width="0.9" />
<circle cx="154.95" cy="184.87" r="1.35" fill="#0000ff"/>
<line x1="158.40" y1="184.70" x2="165.30" y2="184.70" stroke="#0000ff" stroke-width="0.9" />
<circle cx="161.85" cy="184.70" r="1.35" fill="#0000ff"/>
<line x1="165.30" y1="184.19" x2="172.20" y2="184.19" stroke="#0000ff" stroke-width="0.9" />
<circle cx="168.75" cy="184.19" r="1.35" fill="#0000ff"/>
<line x1="172.20" y1="184.15" x2="179.10" y2="184.15" stroke="#0000ff" stroke-width="0.9" />
<circle cx="175.65" cy="184.15" r="1.35" fill="#0000ff"/>
<line x1="179.10" y1="183.91" x2="186.00" y2="183.91" stroke="#0000ff" stroke-width="0.9" />
<circle cx="182.55" cy="183.91" r="1.35" fill="#0000ff"/>
<line x1="186.00" y1="183.35" x2="192.90" y2="183.35" stroke="#0000ff" stroke-width="0.9" />
<circle cx="189.45" cy="183.35" r="1.35" fill="#0000ff"/>
<line x1="192.90" y1="184.16" x2="199.80" y2="184.16" stroke="#0000ff" stroke-width="0.9" />
<circle cx="196.35" cy="184.16" r="1.35" fill="#0000ff"/>
<line x1="199.80" y1="183.91" x2="206.70" y2="183.91" stroke="#0000ff" stroke-width="0.9" />
<circle cx="203.25" cy="183.91" r="1.35" fill="#0000ff"/>
<line x1="206.70" y1="183.64" x2="213.60" y2="183.64" stroke="#0000ff" stroke-width="0.9" />
<circle cx="210.15" cy="183.64" r="1.35" fill="#0000ff"/>
<line x1="213.60" y1="183.47" x2="220.50" y2="183.47" stroke="#0000ff" stroke-width="0.9" />
<circle cx="217.05" cy="183.47" r="1.35" fill="#0000ff"/>
<line x1="220.50" y1="183.36" x2="227.40" y2="183.36" stroke="#0000ff" stroke-width="0.9" />
<circle cx="223.95" cy="183.36" r="1.35" fill="#0000ff"/>
<line x1="227.40" y1="185.20" x2="234.30" y2="185.20" stroke="#0000ff" stroke-width="0.9" />
<circle cx="230.85" cy="185.20" r="1.35" fill="#0000ff"/>
<line x1="234.30" y1="179.90" x2="241.20" y2="179.90" stroke="#0000ff" stroke-width="0.9" />
<circle cx="237.75" cy="179.90" r="1.35" fill="#0000ff"/>
<line x1="241.20" y1="190.50" x2="248.10" y2="190.50" stroke="#0000ff" stroke-width="0.9" />
<line x1="244.65" y1="188.91" x2="244.65" y2="192.09" stroke="#0000ff" stroke-width="0.9" />
<circle cx="244.65" cy="190.50" r="1.35" fill="#0000ff"/>
<line x1="248.10" y1="166.38" x2="255.00" y2="166.38" stroke="#0000ff" stroke-width="0.9" />
<line x1="251.55" y1="163.73" x2="251.55" y2="169.03" stroke="#0000ff" stroke-width="0.9" />
<circle cx="251.55" cy="166.38" r="1.35" fill="#0000ff"/>
<line x1="255.00" y1="171.21" x2="324.00" y2="171.21" stroke="#0000ff" stroke-width="0.85" />
<line x1="289.50" y1="163.30" x2="289.50" y2="181.81" stroke="#0000ff" stroke-width="1.0" />
<circle cx="289.50" cy="171.21" r="1.35" fill="#0000ff"/>
<rect x="48.00" y="6.30" width="276.00" height="157.00" fill="none" stroke="#000" stroke-width="1.1"/>
<rect x="48.00" y="163.30" width="276.00" height="42.80" fill="none" stroke="#000" stroke-width="1.1"/>
<line x1="48.00" y1="163.65" x2="324.00" y2="163.65" stroke="#000" stroke-width="1.4"/>
<text x="47.10" y="145.37" font-size="11.4" text-anchor="end" font-weight="normal" font-style="normal" font-family='"Liberation Sans", sans-serif' fill="#000" >5</text>
<text x="47.10" y="122.94" font-size="11.4" text-anchor="end" font-weight="normal" font-style="normal" font-family='"Liberation Sans", sans-serif' fill="#000" >10</text>
<text x="47.10" y="100.51" font-size="11.4" text-anchor="end" font-weight="normal" font-style="normal" font-family='"Liberation Sans", sans-serif' fill="#000" >15</text>
<text x="47.10" y="78.09" font-size="11.4" text-anchor="end" font-weight="normal" font-style="normal" font-family='"Liberation Sans", sans-serif' fill="#000" >20</text>
<text x="47.10" y="55.66" font-size="11.4" text-anchor="end" font-weight="normal" font-style="normal" font-family='"Liberation Sans", sans-serif' fill="#000" >25</text>
<text x="47.10" y="33.23" font-size="11.4" text-anchor="end" font-weight="normal" font-style="normal" font-family='"Liberation Sans", sans-serif' fill="#000" >30</text>
<text x="47.10" y="10.80" font-size="11.4" text-anchor="end" font-weight="normal" font-style="normal" font-family='"Liberation Sans", sans-serif' fill="#000" >35</text>
<text x="47.10" y="179.10" font-size="11.4" text-anchor="end" font-weight="normal" font-style="normal" font-family='"Liberation Sans", sans-serif' fill="#000" >1.2</text>
<text x="47.10" y="189.70" font-size="11.4" text-anchor="end" font-weight="normal" font-style="normal" font-family='"Liberation Sans", sans-serif' fill="#000" >1</text>
<text x="47.10" y="200.30" font-size="11.4" text-anchor="end" font-weight="normal" font-style="normal" font-family='"Liberation Sans", sans-serif' fill="#000" >0.8</text>
<text x="47.80" y="217.00" font-size="11.4" text-anchor="middle" font-weight="normal" font-style="normal" font-family='"Liberation Sans", sans-serif' fill="#000" >0</text>
<text x="82.30" y="217.00" font-size="11.4" text-anchor="middle" font-weight="normal" font-style="normal" font-family='"Liberation Sans", sans-serif' fill="#000" >5</text>
<text x="116.80" y="217.00" font-size="11.4" text-anchor="middle" font-weight="normal" font-style="normal" font-family='"Liberation Sans", sans-serif' fill="#000" >10</text>
<text x="151.30" y="217.00" font-size="11.4" text-anchor="middle" font-weight="normal" font-style="normal" font-family='"Liberation Sans", sans-serif' fill="#000" >15</text>
<text x="185.80" y="217.00" font-size="11.4" text-anchor="middle" font-weight="normal" font-style="normal" font-family='"Liberation Sans", sans-serif' fill="#000" >20</text>
<text x="220.30" y="217.00" font-size="11.4" text-anchor="middle" font-weight="normal" font-style="normal" font-family='"Liberation Sans", sans-serif' fill="#000" >25</text>
<text x="254.80" y="217.00" font-size="11.4" text-anchor="middle" font-weight="normal" font-style="normal" font-family='"Liberation Sans", sans-serif' fill="#000" >30</text>
<text x="289.30" y="217.00" font-size="11.4" text-anchor="middle" font-weight="normal" font-style="normal" font-family='"Liberation Sans", sans-serif' fill="#000" >35</text>
<text x="323.80" y="217.00" font-size="11.4" text-anchor="middle" font-weight="normal" font-style="normal" font-family='"Liberation Sans", sans-serif' fill="#000" >40</text>
<text x="115.00" y="231.6" font-size="11.4" letter-spacing="0.2" text-anchor="start" font-family='"Liberation Sans", sans-serif' fill="#000">Number of Reconstructed Vertices (<tspan dx="1.4">N</tspan><tspan font-size="8.4" dy="6.0">PV</tspan><tspan dx="-1.3" dy="-6.0">)</tspan></text>
<text transform="translate(12.00,114.90) rotate(-90)" font-size="11.7" letter-spacing="0.0" font-family='"Liberation Sans", sans-serif' fill="#000">E</text>
<text transform="translate(14.80,107.40) rotate(-90)" font-size="8.0" letter-spacing="0.0" font-family='"Liberation Sans", sans-serif' fill="#000">x</text>
<text transform="translate(6.70,107.40) rotate(-90)" font-size="8.0" letter-spacing="0.0" font-family='"Liberation Sans", sans-serif' fill="#000">miss</text>
<text transform="translate(12.00,90.20) rotate(-90)" font-size="11.7" letter-spacing="0.0" font-family='"Liberation Sans", sans-serif' fill="#000">,</text>
<text transform="translate(12.00,88.90) rotate(-90)" font-size="11.7" letter-spacing="0.0" font-family='"Liberation Sans", sans-serif' fill="#000">E</text>
<text transform="translate(14.80,81.30) rotate(-90)" font-size="8.0" letter-spacing="0.0" font-family='"Liberation Sans", sans-serif' fill="#000">y</text>
<text transform="translate(6.70,81.30) rotate(-90)" font-size="8.0" letter-spacing="0.0" font-family='"Liberation Sans", sans-serif' fill="#000">miss</text>
<text transform="translate(12.00,62.70) rotate(-90)" font-size="11.6" letter-spacing="0.08" font-family='"Liberation Sans", sans-serif' fill="#000">RMS [GeV]</text>
<text transform="translate(15.00,163.4) rotate(-90)" font-size="11.5" letter-spacing="0.22" text-anchor="end" font-family='"Liberation Sans", sans-serif' fill="#000">Data / MC</text>
<text x="184.80" y="251.60" font-size="15" text-anchor="middle" font-weight="bold" font-style="normal" font-family='"Liberation Serif", serif' fill="#000" >(a)</text>
<text x="65.40" y="23.40" font-size="12.7" text-anchor="start" font-weight="bold" font-style="italic" font-family='"Liberation Sans", sans-serif' fill="#000" >ATLAS</text>
<path d="M66.30,35.3 L67.20,34.6" fill="none" stroke="#000" stroke-width="0.8"/>
<line x1="67.85" y1="30.5" x2="67.85" y2="38.3" stroke="#000" stroke-width="1.35"/>
<line x1="67.85" y1="30.5" x2="74.90" y2="30.5" stroke="#000" stroke-width="0.8"/>
<text x="69.60" y="37.5" font-size="9.3" letter-spacing="0.12" font-family='"Liberation Sans", sans-serif' fill="#000">s = 8 TeV, 20.3 fb<tspan font-size="5.9" dx="0.2" dy="-3.5">-1</tspan></text>
<text x="65.40" y="50.3" font-size="9.3" letter-spacing="0.05" font-family='"Liberation Sans", sans-serif' fill="#000">Data 2012, Z</text>
<path d="M119.00,47.6 L126.60,47.6 M124.60,46.00 L126.80,47.6 L124.60,49.20" fill="none" stroke="#000" stroke-width="0.75"/>
<text x="126.80" y="50.3" font-size="9.6" font-family='"Liberation Serif", serif' fill="#000">&#956;&#956;</text>
<text x="140.00" y="50.3" font-size="9.3" letter-spacing="0.05" font-family='"Liberation Sans", sans-serif' fill="#000">+ 0-jet</text>
<line x1="60.40" y1="59.20" x2="73.30" y2="59.20" stroke="#000" stroke-width="1.0" />
<circle cx="66.85" cy="59.20" r="1.95" fill="#000"/>
<text x="75.50" y="62.10" font-size="8.5" text-anchor="start" font-weight="bold" font-style="normal" font-family='"Liberation Sans", sans-serif' fill="#000" >CST</text>
<line x1="60.40" y1="68.30" x2="73.30" y2="68.30" stroke="#1f9a1f" stroke-width="1.0" />
<polygon points="66.85,66.49 69.08,70.11 64.62,70.11" fill="#1f9a1f"/>
<text x="75.50" y="71.20" font-size="8.5" text-anchor="start" font-weight="bold" font-style="normal" font-family='"Liberation Sans", sans-serif' fill="#000" >TST</text>
<line x1="60.40" y1="77.30" x2="73.30" y2="77.30" stroke="#ff0000" stroke-width="1.0" />
<polygon points="66.85,79.11 69.08,75.49 64.62,75.49" fill="#ff0000"/>
<text x="75.50" y="80.20" font-size="8.5" text-anchor="start" font-weight="bold" font-style="normal" font-family='"Liberation Sans", sans-serif' fill="#000" >STVF</text>
<line x1="60.40" y1="86.50" x2="73.30" y2="86.50" stroke="#00ffff" stroke-width="1.0" />
<rect x="64.71" y="84.36" width="4.27" height="4.27" fill="#00ffff"/>
<text x="75.50" y="89.40" font-size="8.5" text-anchor="start" font-weight="bold" font-style="normal" font-family='"Liberation Sans", sans-serif' fill="#000" >EJAF</text>
<line x1="60.40" y1="95.30" x2="73.30" y2="95.30" stroke="#0000ff" stroke-width="1.0" />
<circle cx="66.85" cy="95.30" r="1.28" fill="#0000ff"/>
<text x="75.50" y="98.20" font-size="8.5" text-anchor="start" font-weight="bold" font-style="normal" font-family='"Liberation Sans", sans-serif' fill="#000" >Track</text>
<line x1="400.30" y1="158.81" x2="404.80" y2="158.81" stroke="#222" stroke-width="0.75" />
<line x1="676.30" y1="158.81" x2="671.80" y2="158.81" stroke="#222" stroke-width="0.75" />
<line x1="400.30" y1="154.33" x2="404.80" y2="154.33" stroke="#222" stroke-width="0.75" />
<line x1="676.30" y1="154.33" x2="671.80" y2="154.33" stroke="#222" stroke-width="0.75" />
<line x1="400.30" y1="149.84" x2="404.80" y2="149.84" stroke="#222" stroke-width="0.75" />
<line x1="676.30" y1="149.84" x2="671.80" y2="149.84" stroke="#222" stroke-width="0.75" />
<line x1="400.30" y1="145.36" x2="404.80" y2="145.36" stroke="#222" stroke-width="0.75" />
<line x1="676.30" y1="145.36" x2="671.80" y2="145.36" stroke="#222" stroke-width="0.75" />
<line x1="400.30" y1="140.87" x2="409.90" y2="140.87" stroke="#222" stroke-width="0.75" />
<line x1="676.30" y1="140.87" x2="666.70" y2="140.87" stroke="#222" stroke-width="0.75" />
<line x1="400.30" y1="136.39" x2="404.80" y2="136.39" stroke="#222" stroke-width="0.75" />
<line x1="676.30" y1="136.39" x2="671.80" y2="136.39" stroke="#222" stroke-width="0.75" />
<line x1="400.30" y1="131.90" x2="404.80" y2="131.90" stroke="#222" stroke-width="0.75" />
<line x1="676.30" y1="131.90" x2="671.80" y2="131.90" stroke="#222" stroke-width="0.75" />
<line x1="400.30" y1="127.41" x2="404.80" y2="127.41" stroke="#222" stroke-width="0.75" />
<line x1="676.30" y1="127.41" x2="671.80" y2="127.41" stroke="#222" stroke-width="0.75" />
<line x1="400.30" y1="122.93" x2="404.80" y2="122.93" stroke="#222" stroke-width="0.75" />
<line x1="676.30" y1="122.93" x2="671.80" y2="122.93" stroke="#222" stroke-width="0.75" />
<line x1="400.30" y1="118.44" x2="409.90" y2="118.44" stroke="#222" stroke-width="0.75" />
<line x1="676.30" y1="118.44" x2="666.70" y2="118.44" stroke="#222" stroke-width="0.75" />
<line x1="400.30" y1="113.96" x2="404.80" y2="113.96" stroke="#222" stroke-width="0.75" />
<line x1="676.30" y1="113.96" x2="671.80" y2="113.96" stroke="#222" stroke-width="0.75" />
<line x1="400.30" y1="109.47" x2="404.80" y2="109.47" stroke="#222" stroke-width="0.75" />
<line x1="676.30" y1="109.47" x2="671.80" y2="109.47" stroke="#222" stroke-width="0.75" />
<line x1="400.30" y1="104.99" x2="404.80" y2="104.99" stroke="#222" stroke-width="0.75" />
<line x1="676.30" y1="104.99" x2="671.80" y2="104.99" stroke="#222" stroke-width="0.75" />
<line x1="400.30" y1="100.50" x2="404.80" y2="100.50" stroke="#222" stroke-width="0.75" />
<line x1="676.30" y1="100.50" x2="671.80" y2="100.50" stroke="#222" stroke-width="0.75" />
<line x1="400.30" y1="96.01" x2="409.90" y2="96.01" stroke="#222" stroke-width="0.75" />
<line x1="676.30" y1="96.01" x2="666.70" y2="96.01" stroke="#222" stroke-width="0.75" />
<line x1="400.30" y1="91.53" x2="404.80" y2="91.53" stroke="#222" stroke-width="0.75" />
<line x1="676.30" y1="91.53" x2="671.80" y2="91.53" stroke="#222" stroke-width="0.75" />
<line x1="400.30" y1="87.04" x2="404.80" y2="87.04" stroke="#222" stroke-width="0.75" />
<line x1="676.30" y1="87.04" x2="671.80" y2="87.04" stroke="#222" stroke-width="0.75" />
<line x1="400.30" y1="82.56" x2="404.80" y2="82.56" stroke="#222" stroke-width="0.75" />
<line x1="676.30" y1="82.56" x2="671.80" y2="82.56" stroke="#222" stroke-width="0.75" />
<line x1="400.30" y1="78.07" x2="404.80" y2="78.07" stroke="#222" stroke-width="0.75" />
<line x1="676.30" y1="78.07" x2="671.80" y2="78.07" stroke="#222" stroke-width="0.75" />
<line x1="400.30" y1="73.59" x2="409.90" y2="73.59" stroke="#222" stroke-width="0.75" />
<line x1="676.30" y1="73.59" x2="666.70" y2="73.59" stroke="#222" stroke-width="0.75" />
<line x1="400.30" y1="69.10" x2="404.80" y2="69.10" stroke="#222" stroke-width="0.75" />
<line x1="676.30" y1="69.10" x2="671.80" y2="69.10" stroke="#222" stroke-width="0.75" />
<line x1="400.30" y1="64.61" x2="404.80" y2="64.61" stroke="#222" stroke-width="0.75" />
<line x1="676.30" y1="64.61" x2="671.80" y2="64.61" stroke="#222" stroke-width="0.75" />
<line x1="400.30" y1="60.13" x2="404.80" y2="60.13" stroke="#222" stroke-width="0.75" />
<line x1="676.30" y1="60.13" x2="671.80" y2="60.13" stroke="#222" stroke-width="0.75" />
<line x1="400.30" y1="55.64" x2="404.80" y2="55.64" stroke="#222" stroke-width="0.75" />
<line x1="676.30" y1="55.64" x2="671.80" y2="55.64" stroke="#222" stroke-width="0.75" />
<line x1="400.30" y1="51.16" x2="409.90" y2="51.16" stroke="#222" stroke-width="0.75" />
<line x1="676.30" y1="51.16" x2="666.70" y2="51.16" stroke="#222" stroke-width="0.75" />
<line x1="400.30" y1="46.67" x2="404.80" y2="46.67" stroke="#222" stroke-width="0.75" />
<line x1="676.30" y1="46.67" x2="671.80" y2="46.67" stroke="#222" stroke-width="0.75" />
<line x1="400.30" y1="42.19" x2="404.80" y2="42.19" stroke="#222" stroke-width="0.75" />
<line x1="676.30" y1="42.19" x2="671.80" y2="42.19" stroke="#222" stroke-width="0.75" />
<line x1="400.30" y1="37.70" x2="404.80" y2="37.70" stroke="#222" stroke-width="0.75" />
<line x1="676.30" y1="37.70" x2="671.80" y2="37.70" stroke="#222" stroke-width="0.75" />
<line x1="400.30" y1="33.21" x2="404.80" y2="33.21" stroke="#222" stroke-width="0.75" />
<line x1="676.30" y1="33.21" x2="671.80" y2="33.21" stroke="#222" stroke-width="0.75" />
<line x1="400.30" y1="28.73" x2="409.90" y2="28.73" stroke="#222" stroke-width="0.75" />
<line x1="676.30" y1="28.73" x2="666.70" y2="28.73" stroke="#222" stroke-width="0.75" />
<line x1="400.30" y1="24.24" x2="404.80" y2="24.24" stroke="#222" stroke-width="0.75" />
<line x1="676.30" y1="24.24" x2="671.80" y2="24.24" stroke="#222" stroke-width="0.75" />
<line x1="400.30" y1="19.76" x2="404.80" y2="19.76" stroke="#222" stroke-width="0.75" />
<line x1="676.30" y1="19.76" x2="671.80" y2="19.76" stroke="#222" stroke-width="0.75" />
<line x1="400.30" y1="15.27" x2="404.80" y2="15.27" stroke="#222" stroke-width="0.75" />
<line x1="676.30" y1="15.27" x2="671.80" y2="15.27" stroke="#222" stroke-width="0.75" />
<line x1="400.30" y1="10.79" x2="404.80" y2="10.79" stroke="#222" stroke-width="0.75" />
<line x1="676.30" y1="10.79" x2="671.80" y2="10.79" stroke="#222" stroke-width="0.75" />
<line x1="407.20" y1="6.30" x2="407.20" y2="8.80" stroke="#222" stroke-width="0.75" />
<line x1="407.20" y1="162.50" x2="407.20" y2="160.30" stroke="#222" stroke-width="0.75" />
<line x1="414.10" y1="6.30" x2="414.10" y2="8.80" stroke="#222" stroke-width="0.75" />
<line x1="414.10" y1="162.50" x2="414.10" y2="160.30" stroke="#222" stroke-width="0.75" />
<line x1="421.00" y1="6.30" x2="421.00" y2="8.80" stroke="#222" stroke-width="0.75" />
<line x1="421.00" y1="162.50" x2="421.00" y2="160.30" stroke="#222" stroke-width="0.75" />
<line x1="427.90" y1="6.30" x2="427.90" y2="8.80" stroke="#222" stroke-width="0.75" />
<line x1="427.90" y1="162.50" x2="427.90" y2="160.30" stroke="#222" stroke-width="0.75" />
<line x1="434.80" y1="6.30" x2="434.80" y2="11.30" stroke="#222" stroke-width="0.75" />
<line x1="434.80" y1="162.50" x2="434.80" y2="157.10" stroke="#222" stroke-width="0.75" />
<line x1="441.70" y1="6.30" x2="441.70" y2="8.80" stroke="#222" stroke-width="0.75" />
<line x1="441.70" y1="162.50" x2="441.70" y2="160.30" stroke="#222" stroke-width="0.75" />
<line x1="448.60" y1="6.30" x2="448.60" y2="8.80" stroke="#222" stroke-width="0.75" />
<line x1="448.60" y1="162.50" x2="448.60" y2="160.30" stroke="#222" stroke-width="0.75" />
<line x1="455.50" y1="6.30" x2="455.50" y2="8.80" stroke="#222" stroke-width="0.75" />
<line x1="455.50" y1="162.50" x2="455.50" y2="160.30" stroke="#222" stroke-width="0.75" />
<line x1="462.40" y1="6.30" x2="462.40" y2="8.80" stroke="#222" stroke-width="0.75" />
<line x1="462.40" y1="162.50" x2="462.40" y2="160.30" stroke="#222" stroke-width="0.75" />
<line x1="469.30" y1="6.30" x2="469.30" y2="11.30" stroke="#222" stroke-width="0.75" />
<line x1="469.30" y1="162.50" x2="469.30" y2="157.10" stroke="#222" stroke-width="0.75" />
<line x1="476.20" y1="6.30" x2="476.20" y2="8.80" stroke="#222" stroke-width="0.75" />
<line x1="476.20" y1="162.50" x2="476.20" y2="160.30" stroke="#222" stroke-width="0.75" />
<line x1="483.10" y1="6.30" x2="483.10" y2="8.80" stroke="#222" stroke-width="0.75" />
<line x1="483.10" y1="162.50" x2="483.10" y2="160.30" stroke="#222" stroke-width="0.75" />
<line x1="490.00" y1="6.30" x2="490.00" y2="8.80" stroke="#222" stroke-width="0.75" />
<line x1="490.00" y1="162.50" x2="490.00" y2="160.30" stroke="#222" stroke-width="0.75" />
<line x1="496.90" y1="6.30" x2="496.90" y2="8.80" stroke="#222" stroke-width="0.75" />
<line x1="496.90" y1="162.50" x2="496.90" y2="160.30" stroke="#222" stroke-width="0.75" />
<line x1="503.80" y1="6.30" x2="503.80" y2="11.30" stroke="#222" stroke-width="0.75" />
<line x1="503.80" y1="162.50" x2="503.80" y2="157.10" stroke="#222" stroke-width="0.75" />
<line x1="510.70" y1="6.30" x2="510.70" y2="8.80" stroke="#222" stroke-width="0.75" />
<line x1="510.70" y1="162.50" x2="510.70" y2="160.30" stroke="#222" stroke-width="0.75" />
<line x1="517.60" y1="6.30" x2="517.60" y2="8.80" stroke="#222" stroke-width="0.75" />
<line x1="517.60" y1="162.50" x2="517.60" y2="160.30" stroke="#222" stroke-width="0.75" />
<line x1="524.50" y1="6.30" x2="524.50" y2="8.80" stroke="#222" stroke-width="0.75" />
<line x1="524.50" y1="162.50" x2="524.50" y2="160.30" stroke="#222" stroke-width="0.75" />
<line x1="531.40" y1="6.30" x2="531.40" y2="8.80" stroke="#222" stroke-width="0.75" />
<line x1="531.40" y1="162.50" x2="531.40" y2="160.30" stroke="#222" stroke-width="0.75" />
<line x1="538.30" y1="6.30" x2="538.30" y2="11.30" stroke="#222" stroke-width="0.75" />
<line x1="538.30" y1="162.50" x2="538.30" y2="157.10" stroke="#222" stroke-width="0.75" />
<line x1="545.20" y1="6.30" x2="545.20" y2="8.80" stroke="#222" stroke-width="0.75" />
<line x1="545.20" y1="162.50" x2="545.20" y2="160.30" stroke="#222" stroke-width="0.75" />
<line x1="552.10" y1="6.30" x2="552.10" y2="8.80" stroke="#222" stroke-width="0.75" />
<line x1="552.10" y1="162.50" x2="552.10" y2="160.30" stroke="#222" stroke-width="0.75" />
<line x1="559.00" y1="6.30" x2="559.00" y2="8.80" stroke="#222" stroke-width="0.75" />
<line x1="559.00" y1="162.50" x2="559.00" y2="160.30" stroke="#222" stroke-width="0.75" />
<line x1="565.90" y1="6.30" x2="565.90" y2="8.80" stroke="#222" stroke-width="0.75" />
<line x1="565.90" y1="162.50" x2="565.90" y2="160.30" stroke="#222" stroke-width="0.75" />
<line x1="572.80" y1="6.30" x2="572.80" y2="11.30" stroke="#222" stroke-width="0.75" />
<line x1="572.80" y1="162.50" x2="572.80" y2="157.10" stroke="#222" stroke-width="0.75" />
<line x1="579.70" y1="6.30" x2="579.70" y2="8.80" stroke="#222" stroke-width="0.75" />
<line x1="579.70" y1="162.50" x2="579.70" y2="160.30" stroke="#222" stroke-width="0.75" />
<line x1="586.60" y1="6.30" x2="586.60" y2="8.80" stroke="#222" stroke-width="0.75" />
<line x1="586.60" y1="162.50" x2="586.60" y2="160.30" stroke="#222" stroke-width="0.75" />
<line x1="593.50" y1="6.30" x2="593.50" y2="8.80" stroke="#222" stroke-width="0.75" />
<line x1="593.50" y1="162.50" x2="593.50" y2="160.30" stroke="#222" stroke-width="0.75" />
<line x1="600.40" y1="6.30" x2="600.40" y2="8.80" stroke="#222" stroke-width="0.75" />
<line x1="600.40" y1="162.50" x2="600.40" y2="160.30" stroke="#222" stroke-width="0.75" />
<line x1="607.30" y1="6.30" x2="607.30" y2="11.30" stroke="#222" stroke-width="0.75" />
<line x1="607.30" y1="162.50" x2="607.30" y2="157.10" stroke="#222" stroke-width="0.75" />
<line x1="614.20" y1="6.30" x2="614.20" y2="8.80" stroke="#222" stroke-width="0.75" />
<line x1="614.20" y1="162.50" x2="614.20" y2="160.30" stroke="#222" stroke-width="0.75" />
<line x1="621.10" y1="6.30" x2="621.10" y2="8.80" stroke="#222" stroke-width="0.75" />
<line x1="621.10" y1="162.50" x2="621.10" y2="160.30" stroke="#222" stroke-width="0.75" />
<line x1="628.00" y1="6.30" x2="628.00" y2="8.80" stroke="#222" stroke-width="0.75" />
<line x1="628.00" y1="162.50" x2="628.00" y2="160.30" stroke="#222" stroke-width="0.75" />
<line x1="634.90" y1="6.30" x2="634.90" y2="8.80" stroke="#222" stroke-width="0.75" />
<line x1="634.90" y1="162.50" x2="634.90" y2="160.30" stroke="#222" stroke-width="0.75" />
<line x1="641.80" y1="6.30" x2="641.80" y2="11.30" stroke="#222" stroke-width="0.75" />
<line x1="641.80" y1="162.50" x2="641.80" y2="157.10" stroke="#222" stroke-width="0.75" />
<line x1="648.70" y1="6.30" x2="648.70" y2="8.80" stroke="#222" stroke-width="0.75" />
<line x1="648.70" y1="162.50" x2="648.70" y2="160.30" stroke="#222" stroke-width="0.75" />
<line x1="655.60" y1="6.30" x2="655.60" y2="8.80" stroke="#222" stroke-width="0.75" />
<line x1="655.60" y1="162.50" x2="655.60" y2="160.30" stroke="#222" stroke-width="0.75" />
<line x1="662.50" y1="6.30" x2="662.50" y2="8.80" stroke="#222" stroke-width="0.75" />
<line x1="662.50" y1="162.50" x2="662.50" y2="160.30" stroke="#222" stroke-width="0.75" />
<line x1="669.40" y1="6.30" x2="669.40" y2="8.80" stroke="#222" stroke-width="0.75" />
<line x1="669.40" y1="162.50" x2="669.40" y2="160.30" stroke="#222" stroke-width="0.75" />
<line x1="400.30" y1="203.75" x2="403.80" y2="203.75" stroke="#222" stroke-width="0.75" />
<line x1="676.30" y1="203.75" x2="672.80" y2="203.75" stroke="#222" stroke-width="0.75" />
<line x1="400.30" y1="201.10" x2="403.80" y2="201.10" stroke="#222" stroke-width="0.75" />
<line x1="676.30" y1="201.10" x2="672.80" y2="201.10" stroke="#222" stroke-width="0.75" />
<line x1="400.30" y1="198.45" x2="403.80" y2="198.45" stroke="#222" stroke-width="0.75" />
<line x1="676.30" y1="198.45" x2="672.80" y2="198.45" stroke="#222" stroke-width="0.75" />
<line x1="400.30" y1="195.80" x2="406.30" y2="195.80" stroke="#222" stroke-width="0.75" />
<line x1="676.30" y1="195.80" x2="670.30" y2="195.80" stroke="#222" stroke-width="0.75" />
<line x1="400.30" y1="193.15" x2="403.80" y2="193.15" stroke="#222" stroke-width="0.75" />
<line x1="676.30" y1="193.15" x2="672.80" y2="193.15" stroke="#222" stroke-width="0.75" />
<line x1="400.30" y1="190.50" x2="403.80" y2="190.50" stroke="#222" stroke-width="0.75" />
<line x1="676.30" y1="190.50" x2="672.80" y2="190.50" stroke="#222" stroke-width="0.75" />
<line x1="400.30" y1="187.85" x2="403.80" y2="187.85" stroke="#222" stroke-width="0.75" />
<line x1="676.30" y1="187.85" x2="672.80" y2="187.85" stroke="#222" stroke-width="0.75" />
<line x1="400.30" y1="185.20" x2="406.30" y2="185.20" stroke="#222" stroke-width="0.75" />
<line x1="676.30" y1="185.20" x2="670.30" y2="185.20" stroke="#222" stroke-width="0.75" />
<line x1="400.30" y1="182.55" x2="403.80" y2="182.55" stroke="#222" stroke-width="0.75" />
<line x1="676.30" y1="182.55" x2="672.80" y2="182.55" stroke="#222" stroke-width="0.75" />
<line x1="400.30" y1="179.90" x2="403.80" y2="179.90" stroke="#222" stroke-width="0.75" />
<line x1="676.30" y1="179.90" x2="672.80" y2="179.90" stroke="#222" stroke-width="0.75" />
<line x1="400.30" y1="177.25" x2="403.80" y2="177.25" stroke="#222" stroke-width="0.75" />
<line x1="676.30" y1="177.25" x2="672.80" y2="177.25" stroke="#222" stroke-width="0.75" />
<line x1="400.30" y1="174.60" x2="406.30" y2="174.60" stroke="#222" stroke-width="0.75" />
<line x1="676.30" y1="174.60" x2="670.30" y2="174.60" stroke="#222" stroke-width="0.75" />
<line x1="400.30" y1="171.95" x2="403.80" y2="171.95" stroke="#222" stroke-width="0.75" />
<line x1="676.30" y1="171.95" x2="672.80" y2="171.95" stroke="#222" stroke-width="0.75" />
<line x1="400.30" y1="169.30" x2="403.80" y2="169.30" stroke="#222" stroke-width="0.75" />
<line x1="676.30" y1="169.30" x2="672.80" y2="169.30" stroke="#222" stroke-width="0.75" />
<line x1="400.30" y1="166.65" x2="403.80" y2="166.65" stroke="#222" stroke-width="0.75" />
<line x1="676.30" y1="166.65" x2="672.80" y2="166.65" stroke="#222" stroke-width="0.75" />
<line x1="400.30" y1="164.00" x2="406.30" y2="164.00" stroke="#222" stroke-width="0.75" />
<line x1="676.30" y1="164.00" x2="670.30" y2="164.00" stroke="#222" stroke-width="0.75" />
<line x1="407.20" y1="163.30" x2="407.20" y2="167.30" stroke="#222" stroke-width="0.75" />
<line x1="407.20" y1="206.10" x2="407.20" y2="202.10" stroke="#222" stroke-width="0.75" />
<line x1="414.10" y1="163.30" x2="414.10" y2="167.30" stroke="#222" stroke-width="0.75" />
<line x1="414.10" y1="206.10" x2="414.10" y2="202.10" stroke="#222" stroke-width="0.75" />
<line x1="421.00" y1="163.30" x2="421.00" y2="167.30" stroke="#222" stroke-width="0.75" />
<line x1="421.00" y1="206.10" x2="421.00" y2="202.10" stroke="#222" stroke-width="0.75" />
<line x1="427.90" y1="163.30" x2="427.90" y2="167.30" stroke="#222" stroke-width="0.75" />
<line x1="427.90" y1="206.10" x2="427.90" y2="202.10" stroke="#222" stroke-width="0.75" />
<line x1="434.80" y1="163.30" x2="434.80" y2="171.30" stroke="#222" stroke-width="0.75" />
<line x1="434.80" y1="206.10" x2="434.80" y2="198.10" stroke="#222" stroke-width="0.75" />
<line x1="441.70" y1="163.30" x2="441.70" y2="167.30" stroke="#222" stroke-width="0.75" />
<line x1="441.70" y1="206.10" x2="441.70" y2="202.10" stroke="#222" stroke-width="0.75" />
<line x1="448.60" y1="163.30" x2="448.60" y2="167.30" stroke="#222" stroke-width="0.75" />
<line x1="448.60" y1="206.10" x2="448.60" y2="202.10" stroke="#222" stroke-width="0.75" />
<line x1="455.50" y1="163.30" x2="455.50" y2="167.30" stroke="#222" stroke-width="0.75" />
<line x1="455.50" y1="206.10" x2="455.50" y2="202.10" stroke="#222" stroke-width="0.75" />
<line x1="462.40" y1="163.30" x2="462.40" y2="167.30" stroke="#222" stroke-width="0.75" />
<line x1="462.40" y1="206.10" x2="462.40" y2="202.10" stroke="#222" stroke-width="0.75" />
<line x1="469.30" y1="163.30" x2="469.30" y2="171.30" stroke="#222" stroke-width="0.75" />
<line x1="469.30" y1="206.10" x2="469.30" y2="198.10" stroke="#222" stroke-width="0.75" />
<line x1="476.20" y1="163.30" x2="476.20" y2="167.30" stroke="#222" stroke-width="0.75" />
<line x1="476.20" y1="206.10" x2="476.20" y2="202.10" stroke="#222" stroke-width="0.75" />
<line x1="483.10" y1="163.30" x2="483.10" y2="167.30" stroke="#222" stroke-width="0.75" />
<line x1="483.10" y1="206.10" x2="483.10" y2="202.10" stroke="#222" stroke-width="0.75" />
<line x1="490.00" y1="163.30" x2="490.00" y2="167.30" stroke="#222" stroke-width="0.75" />
<line x1="490.00" y1="206.10" x2="490.00" y2="202.10" stroke="#222" stroke-width="0.75" />
<line x1="496.90" y1="163.30" x2="496.90" y2="167.30" stroke="#222" stroke-width="0.75" />
<line x1="496.90" y1="206.10" x2="496.90" y2="202.10" stroke="#222" stroke-width="0.75" />
<line x1="503.80" y1="163.30" x2="503.80" y2="171.30" stroke="#222" stroke-width="0.75" />
<line x1="503.80" y1="206.10" x2="503.80" y2="198.10" stroke="#222" stroke-width="0.75" />
<line x1="510.70" y1="163.30" x2="510.70" y2="167.30" stroke="#222" stroke-width="0.75" />
<line x1="510.70" y1="206.10" x2="510.70" y2="202.10" stroke="#222" stroke-width="0.75" />
<line x1="517.60" y1="163.30" x2="517.60" y2="167.30" stroke="#222" stroke-width="0.75" />
<line x1="517.60" y1="206.10" x2="517.60" y2="202.10" stroke="#222" stroke-width="0.75" />
<line x1="524.50" y1="163.30" x2="524.50" y2="167.30" stroke="#222" stroke-width="0.75" />
<line x1="524.50" y1="206.10" x2="524.50" y2="202.10" stroke="#222" stroke-width="0.75" />
<line x1="531.40" y1="163.30" x2="531.40" y2="167.30" stroke="#222" stroke-width="0.75" />
<line x1="531.40" y1="206.10" x2="531.40" y2="202.10" stroke="#222" stroke-width="0.75" />
<line x1="538.30" y1="163.30" x2="538.30" y2="171.30" stroke="#222" stroke-width="0.75" />
<line x1="538.30" y1="206.10" x2="538.30" y2="198.10" stroke="#222" stroke-width="0.75" />
<line x1="545.20" y1="163.30" x2="545.20" y2="167.30" stroke="#222" stroke-width="0.75" />
<line x1="545.20" y1="206.10" x2="545.20" y2="202.10" stroke="#222" stroke-width="0.75" />
<line x1="552.10" y1="163.30" x2="552.10" y2="167.30" stroke="#222" stroke-width="0.75" />
<line x1="552.10" y1="206.10" x2="552.10" y2="202.10" stroke="#222" stroke-width="0.75" />
<line x1="559.00" y1="163.30" x2="559.00" y2="167.30" stroke="#222" stroke-width="0.75" />
<line x1="559.00" y1="206.10" x2="559.00" y2="202.10" stroke="#222" stroke-width="0.75" />
<line x1="565.90" y1="163.30" x2="565.90" y2="167.30" stroke="#222" stroke-width="0.75" />
<line x1="565.90" y1="206.10" x2="565.90" y2="202.10" stroke="#222" stroke-width="0.75" />
<line x1="572.80" y1="163.30" x2="572.80" y2="171.30" stroke="#222" stroke-width="0.75" />
<line x1="572.80" y1="206.10" x2="572.80" y2="198.10" stroke="#222" stroke-width="0.75" />
<line x1="579.70" y1="163.30" x2="579.70" y2="167.30" stroke="#222" stroke-width="0.75" />
<line x1="579.70" y1="206.10" x2="579.70" y2="202.10" stroke="#222" stroke-width="0.75" />
<line x1="586.60" y1="163.30" x2="586.60" y2="167.30" stroke="#222" stroke-width="0.75" />
<line x1="586.60" y1="206.10" x2="586.60" y2="202.10" stroke="#222" stroke-width="0.75" />
<line x1="593.50" y1="163.30" x2="593.50" y2="167.30" stroke="#222" stroke-width="0.75" />
<line x1="593.50" y1="206.10" x2="593.50" y2="202.10" stroke="#222" stroke-width="0.75" />
<line x1="600.40" y1="163.30" x2="600.40" y2="167.30" stroke="#222" stroke-width="0.75" />
<line x1="600.40" y1="206.10" x2="600.40" y2="202.10" stroke="#222" stroke-width="0.75" />
<line x1="607.30" y1="163.30" x2="607.30" y2="171.30" stroke="#222" stroke-width="0.75" />
<line x1="607.30" y1="206.10" x2="607.30" y2="198.10" stroke="#222" stroke-width="0.75" />
<line x1="614.20" y1="163.30" x2="614.20" y2="167.30" stroke="#222" stroke-width="0.75" />
<line x1="614.20" y1="206.10" x2="614.20" y2="202.10" stroke="#222" stroke-width="0.75" />
<line x1="621.10" y1="163.30" x2="621.10" y2="167.30" stroke="#222" stroke-width="0.75" />
<line x1="621.10" y1="206.10" x2="621.10" y2="202.10" stroke="#222" stroke-width="0.75" />
<line x1="628.00" y1="163.30" x2="628.00" y2="167.30" stroke="#222" stroke-width="0.75" />
<line x1="628.00" y1="206.10" x2="628.00" y2="202.10" stroke="#222" stroke-width="0.75" />
<line x1="634.90" y1="163.30" x2="634.90" y2="167.30" stroke="#222" stroke-width="0.75" />
<line x1="634.90" y1="206.10" x2="634.90" y2="202.10" stroke="#222" stroke-width="0.75" />
<line x1="641.80" y1="163.30" x2="641.80" y2="171.30" stroke="#222" stroke-width="0.75" />
<line x1="641.80" y1="206.10" x2="641.80" y2="198.10" stroke="#222" stroke-width="0.75" />
<line x1="648.70" y1="163.30" x2="648.70" y2="167.30" stroke="#222" stroke-width="0.75" />
<line x1="648.70" y1="206.10" x2="648.70" y2="202.10" stroke="#222" stroke-width="0.75" />
<line x1="655.60" y1="163.30" x2="655.60" y2="167.30" stroke="#222" stroke-width="0.75" />
<line x1="655.60" y1="206.10" x2="655.60" y2="202.10" stroke="#222" stroke-width="0.75" />
<line x1="662.50" y1="163.30" x2="662.50" y2="167.30" stroke="#222" stroke-width="0.75" />
<line x1="662.50" y1="206.10" x2="662.50" y2="202.10" stroke="#222" stroke-width="0.75" />
<line x1="669.40" y1="163.30" x2="669.40" y2="167.30" stroke="#222" stroke-width="0.75" />
<line x1="669.40" y1="206.10" x2="669.40" y2="202.10" stroke="#222" stroke-width="0.75" />
<line x1="400.30" y1="174.60" x2="676.30" y2="174.60" stroke="#444" stroke-width="0.9" stroke-dasharray="1,1"/>
<line x1="400.30" y1="195.80" x2="676.30" y2="195.80" stroke="#444" stroke-width="0.9" stroke-dasharray="1,1"/>
<line x1="400.30" y1="185.20" x2="676.30" y2="185.20" stroke="#000" stroke-width="1.0" stroke-dasharray="2.6,1.5"/>
<line x1="414.10" y1="118.67" x2="421.00" y2="118.67" stroke="#1f9a1f" stroke-width="0.8" />
<polygon points="417.55,116.77 419.90,120.57 415.20,120.57" fill="#1f9a1f"/>
<line x1="421.00" y1="118.44" x2="427.90" y2="118.44" stroke="#1f9a1f" stroke-width="0.8" />
<polygon points="424.45,116.54 426.80,120.34 422.10,120.34" fill="#1f9a1f"/>
<line x1="427.90" y1="117.99" x2="434.80" y2="117.99" stroke="#1f9a1f" stroke-width="0.8" />
<polygon points="431.35,116.09 433.70,119.89 429.00,119.89" fill="#1f9a1f"/>
<line x1="434.80" y1="117.10" x2="441.70" y2="117.10" stroke="#1f9a1f" stroke-width="0.8" />
<polygon points="438.25,115.20 440.60,119.00 435.90,119.00" fill="#1f9a1f"/>
<line x1="441.70" y1="115.75" x2="448.60" y2="115.75" stroke="#1f9a1f" stroke-width="0.8" />
<polygon points="445.15,113.85 447.50,117.65 442.80,117.65" fill="#1f9a1f"/>
<line x1="448.60" y1="115.30" x2="455.50" y2="115.30" stroke="#1f9a1f" stroke-width="0.8" />
<polygon points="452.05,113.40 454.40,117.20 449.70,117.20" fill="#1f9a1f"/>
<line x1="455.50" y1="114.85" x2="462.40" y2="114.85" stroke="#1f9a1f" stroke-width="0.8" />
<polygon points="458.95,112.95 461.30,116.75 456.60,116.75" fill="#1f9a1f"/>
<line x1="462.40" y1="114.18" x2="469.30" y2="114.18" stroke="#1f9a1f" stroke-width="0.8" />
<polygon points="465.85,112.28 468.20,116.08 463.50,116.08" fill="#1f9a1f"/>
<line x1="469.30" y1="113.51" x2="476.20" y2="113.51" stroke="#1f9a1f" stroke-width="0.8" />
<polygon points="472.75,111.61 475.10,115.41 470.40,115.41" fill="#1f9a1f"/>
<line x1="476.20" y1="112.48" x2="483.10" y2="112.48" stroke="#1f9a1f" stroke-width="0.8" />
<polygon points="479.65,110.58 482.00,114.38 477.30,114.38" fill="#1f9a1f"/>
<line x1="483.10" y1="111.40" x2="490.00" y2="111.40" stroke="#1f9a1f" stroke-width="0.8" />
<polygon points="486.55,109.50 488.90,113.30 484.20,113.30" fill="#1f9a1f"/>
<line x1="490.00" y1="110.37" x2="496.90" y2="110.37" stroke="#1f9a1f" stroke-width="0.8" />
<polygon points="493.45,108.47 495.80,112.27 491.10,112.27" fill="#1f9a1f"/>
<line x1="496.90" y1="109.47" x2="503.80" y2="109.47" stroke="#1f9a1f" stroke-width="0.8" />
<polygon points="500.35,107.57 502.70,111.37 498.00,111.37" fill="#1f9a1f"/>
<line x1="503.80" y1="108.13" x2="510.70" y2="108.13" stroke="#1f9a1f" stroke-width="0.8" />
<polygon points="507.25,106.23 509.60,110.03 504.90,110.03" fill="#1f9a1f"/>
<line x1="510.70" y1="107.00" x2="517.60" y2="107.00" stroke="#1f9a1f" stroke-width="0.8" />
<polygon points="514.15,105.10 516.50,108.90 511.80,108.90" fill="#1f9a1f"/>
<line x1="517.60" y1="105.88" x2="524.50" y2="105.88" stroke="#1f9a1f" stroke-width="0.8" />
<polygon points="521.05,103.98 523.40,107.78 518.70,107.78" fill="#1f9a1f"/>
<line x1="524.50" y1="104.81" x2="531.40" y2="104.81" stroke="#1f9a1f" stroke-width="0.8" />
<polygon points="527.95,102.91 530.30,106.71 525.60,106.71" fill="#1f9a1f"/>
<line x1="531.40" y1="103.73" x2="538.30" y2="103.73" stroke="#1f9a1f" stroke-width="0.8" />
<polygon points="534.85,101.83 537.20,105.63 532.50,105.63" fill="#1f9a1f"/>
<line x1="538.30" y1="102.97" x2="545.20" y2="102.97" stroke="#1f9a1f" stroke-width="0.8" />
<polygon points="541.75,101.07 544.10,104.87 539.40,104.87" fill="#1f9a1f"/>
<line x1="545.20" y1="101.40" x2="552.10" y2="101.40" stroke="#1f9a1f" stroke-width="0.8" />
<polygon points="548.65,99.50 551.00,103.30 546.30,103.30" fill="#1f9a1f"/>
<line x1="552.10" y1="100.32" x2="559.00" y2="100.32" stroke="#1f9a1f" stroke-width="0.8" />
<polygon points="555.55,98.42 557.90,102.22 553.20,102.22" fill="#1f9a1f"/>
<line x1="559.00" y1="99.29" x2="565.90" y2="99.29" stroke="#1f9a1f" stroke-width="0.8" />
<polygon points="562.45,97.39 564.80,101.19 560.10,101.19" fill="#1f9a1f"/>
<line x1="565.90" y1="96.01" x2="572.80" y2="96.01" stroke="#1f9a1f" stroke-width="0.8" />
<polygon points="569.35,94.11 571.70,97.91 567.00,97.91" fill="#1f9a1f"/>
<line x1="572.80" y1="97.36" x2="579.70" y2="97.36" stroke="#1f9a1f" stroke-width="0.8" />
<polygon points="576.25,95.46 578.60,99.26 573.90,99.26" fill="#1f9a1f"/>
<line x1="579.70" y1="94.67" x2="586.60" y2="94.67" stroke="#1f9a1f" stroke-width="0.8" />
<polygon points="583.15,92.77 585.50,96.57 580.80,96.57" fill="#1f9a1f"/>
<line x1="586.60" y1="95.12" x2="593.50" y2="95.12" stroke="#1f9a1f" stroke-width="0.8" />
<polygon points="590.05,93.22 592.40,97.02 587.70,97.02" fill="#1f9a1f"/>
<line x1="593.50" y1="94.22" x2="600.40" y2="94.22" stroke="#1f9a1f" stroke-width="0.8" />
<polygon points="596.95,92.32 599.30,96.12 594.60,96.12" fill="#1f9a1f"/>
<line x1="600.40" y1="94.22" x2="607.30" y2="94.22" stroke="#1f9a1f" stroke-width="0.8" />
<line x1="603.85" y1="92.87" x2="603.85" y2="95.57" stroke="#1f9a1f" stroke-width="0.8" />
<polygon points="603.85,92.32 606.20,96.12 601.50,96.12" fill="#1f9a1f"/>
<line x1="607.30" y1="86.82" x2="676.30" y2="86.82" stroke="#1f9a1f" stroke-width="0.85" />
<line x1="641.80" y1="85.02" x2="641.80" y2="88.61" stroke="#1f9a1f" stroke-width="1.0" />
<polygon points="641.80,84.92 644.15,88.72 639.45,88.72" fill="#1f9a1f"/>
<line x1="414.10" y1="98.84" x2="421.00" y2="98.84" stroke="#0000ff" stroke-width="0.8" />
<circle cx="417.55" cy="98.84" r="1.35" fill="#0000ff"/>
<line x1="421.00" y1="96.54" x2="427.90" y2="96.54" stroke="#0000ff" stroke-width="0.8" />
<circle cx="424.45" cy="96.54" r="1.35" fill="#0000ff"/>
<line x1="427.90" y1="100.43" x2="434.80" y2="100.43" stroke="#0000ff" stroke-width="0.8" />
<circle cx="431.35" cy="100.43" r="1.35" fill="#0000ff"/>
<line x1="434.80" y1="98.59" x2="441.70" y2="98.59" stroke="#0000ff" stroke-width="0.8" />
<circle cx="438.25" cy="98.59" r="1.35" fill="#0000ff"/>
<line x1="441.70" y1="100.49" x2="448.60" y2="100.49" stroke="#0000ff" stroke-width="0.8" />
<circle cx="445.15" cy="100.49" r="1.35" fill="#0000ff"/>
<line x1="448.60" y1="99.22" x2="455.50" y2="99.22" stroke="#0000ff" stroke-width="0.8" />
<circle cx="452.05" cy="99.22" r="1.35" fill="#0000ff"/>
<line x1="455.50" y1="99.08" x2="462.40" y2="99.08" stroke="#0000ff" stroke-width="0.8" />
<circle cx="458.95" cy="99.08" r="1.35" fill="#0000ff"/>
<line x1="462.40" y1="99.85" x2="469.30" y2="99.85" stroke="#0000ff" stroke-width="0.8" />
<circle cx="465.85" cy="99.85" r="1.35" fill="#0000ff"/>
<line x1="469.30" y1="99.93" x2="476.20" y2="99.93" stroke="#0000ff" stroke-width="0.8" />
<circle cx="472.75" cy="99.93" r="1.35" fill="#0000ff"/>
<line x1="476.20" y1="99.34" x2="483.10" y2="99.34" stroke="#0000ff" stroke-width="0.8" />
<circle cx="479.65" cy="99.34" r="1.35" fill="#0000ff"/>
<line x1="483.10" y1="99.74" x2="490.00" y2="99.74" stroke="#0000ff" stroke-width="0.8" />
<circle cx="486.55" cy="99.74" r="1.35" fill="#0000ff"/>
<line x1="490.00" y1="99.27" x2="496.90" y2="99.27" stroke="#0000ff" stroke-width="0.8" />
<circle cx="493.45" cy="99.27" r="1.35" fill="#0000ff"/>
<line x1="496.90" y1="99.32" x2="503.80" y2="99.32" stroke="#0000ff" stroke-width="0.8" />
<circle cx="500.35" cy="99.32" r="1.35" fill="#0000ff"/>
<line x1="503.80" y1="99.69" x2="510.70" y2="99.69" stroke="#0000ff" stroke-width="0.8" />
<circle cx="507.25" cy="99.69" r="1.35" fill="#0000ff"/>
<line x1="510.70" y1="99.63" x2="517.60" y2="99.63" stroke="#0000ff" stroke-width="0.8" />
<circle cx="514.15" cy="99.63" r="1.35" fill="#0000ff"/>
<line x1="517.60" y1="99.59" x2="524.50" y2="99.59" stroke="#0000ff" stroke-width="0.8" />
<circle cx="521.05" cy="99.59" r="1.35" fill="#0000ff"/>
<line x1="524.50" y1="99.50" x2="531.40" y2="99.50" stroke="#0000ff" stroke-width="0.8" />
<circle cx="527.95" cy="99.50" r="1.35" fill="#0000ff"/>
<line x1="531.40" y1="99.53" x2="538.30" y2="99.53" stroke="#0000ff" stroke-width="0.8" />
<circle cx="534.85" cy="99.53" r="1.35" fill="#0000ff"/>
<line x1="538.30" y1="99.25" x2="545.20" y2="99.25" stroke="#0000ff" stroke-width="0.8" />
<circle cx="541.75" cy="99.25" r="1.35" fill="#0000ff"/>
<line x1="545.20" y1="98.17" x2="552.10" y2="98.17" stroke="#0000ff" stroke-width="0.8" />
<circle cx="548.65" cy="98.17" r="1.35" fill="#0000ff"/>
<line x1="552.10" y1="97.94" x2="559.00" y2="97.94" stroke="#0000ff" stroke-width="0.8" />
<circle cx="555.55" cy="97.94" r="1.35" fill="#0000ff"/>
<line x1="559.00" y1="100.09" x2="565.90" y2="100.09" stroke="#0000ff" stroke-width="0.8" />
<circle cx="562.45" cy="100.09" r="1.35" fill="#0000ff"/>
<line x1="565.90" y1="96.29" x2="572.80" y2="96.29" stroke="#0000ff" stroke-width="0.8" />
<circle cx="569.35" cy="96.29" r="1.35" fill="#0000ff"/>
<line x1="572.80" y1="101.69" x2="579.70" y2="101.69" stroke="#0000ff" stroke-width="0.8" />
<circle cx="576.25" cy="101.69" r="1.35" fill="#0000ff"/>
<line x1="579.70" y1="101.59" x2="586.60" y2="101.59" stroke="#0000ff" stroke-width="0.8" />
<circle cx="583.15" cy="101.59" r="1.35" fill="#0000ff"/>
<line x1="586.60" y1="96.61" x2="593.50" y2="96.61" stroke="#0000ff" stroke-width="0.8" />
<circle cx="590.05" cy="96.61" r="1.35" fill="#0000ff"/>
<line x1="593.50" y1="96.34" x2="600.40" y2="96.34" stroke="#0000ff" stroke-width="0.8" />
<circle cx="596.95" cy="96.34" r="1.35" fill="#0000ff"/>
<line x1="600.40" y1="98.69" x2="607.30" y2="98.69" stroke="#0000ff" stroke-width="0.8" />
<line x1="603.85" y1="97.34" x2="603.85" y2="100.04" stroke="#0000ff" stroke-width="0.8" />
<circle cx="603.85" cy="98.69" r="1.35" fill="#0000ff"/>
<line x1="607.30" y1="98.71" x2="676.30" y2="98.71" stroke="#0000ff" stroke-width="0.85" />
<line x1="641.80" y1="96.46" x2="641.80" y2="100.95" stroke="#0000ff" stroke-width="1.0" />
<circle cx="641.80" cy="98.71" r="1.35" fill="#0000ff"/>
<line x1="414.10" y1="117.99" x2="421.00" y2="117.99" stroke="#ff0000" stroke-width="0.8" />
<polygon points="417.55,119.89 419.90,116.09 415.20,116.09" fill="#ff0000"/>
<line x1="421.00" y1="118.44" x2="427.90" y2="118.44" stroke="#ff0000" stroke-width="0.8" />
<polygon points="424.45,120.34 426.80,116.54 422.10,116.54" fill="#ff0000"/>
<line x1="427.90" y1="117.10" x2="434.80" y2="117.10" stroke="#ff0000" stroke-width="0.8" />
<polygon points="431.35,119.00 433.70,115.20 429.00,115.20" fill="#ff0000"/>
<line x1="434.80" y1="115.30" x2="441.70" y2="115.30" stroke="#ff0000" stroke-width="0.8" />
<polygon points="438.25,117.20 440.60,113.40 435.90,113.40" fill="#ff0000"/>
<line x1="441.70" y1="113.96" x2="448.60" y2="113.96" stroke="#ff0000" stroke-width="0.8" />
<polygon points="445.15,115.86 447.50,112.06 442.80,112.06" fill="#ff0000"/>
<line x1="448.60" y1="113.06" x2="455.50" y2="113.06" stroke="#ff0000" stroke-width="0.8" />
<polygon points="452.05,114.96 454.40,111.16 449.70,111.16" fill="#ff0000"/>
<line x1="455.50" y1="112.16" x2="462.40" y2="112.16" stroke="#ff0000" stroke-width="0.8" />
<polygon points="458.95,114.06 461.30,110.26 456.60,110.26" fill="#ff0000"/>
<line x1="462.40" y1="111.27" x2="469.30" y2="111.27" stroke="#ff0000" stroke-width="0.8" />
<polygon points="465.85,113.17 468.20,109.37 463.50,109.37" fill="#ff0000"/>
<line x1="469.30" y1="110.37" x2="476.20" y2="110.37" stroke="#ff0000" stroke-width="0.8" />
<polygon points="472.75,112.27 475.10,108.47 470.40,108.47" fill="#ff0000"/>
<line x1="476.20" y1="109.20" x2="483.10" y2="109.20" stroke="#ff0000" stroke-width="0.8" />
<polygon points="479.65,111.10 482.00,107.30 477.30,107.30" fill="#ff0000"/>
<line x1="483.10" y1="108.13" x2="490.00" y2="108.13" stroke="#ff0000" stroke-width="0.8" />
<polygon points="486.55,110.03 488.90,106.23 484.20,106.23" fill="#ff0000"/>
<line x1="490.00" y1="107.00" x2="496.90" y2="107.00" stroke="#ff0000" stroke-width="0.8" />
<polygon points="493.45,108.90 495.80,105.10 491.10,105.10" fill="#ff0000"/>
<line x1="496.90" y1="106.20" x2="503.80" y2="106.20" stroke="#ff0000" stroke-width="0.8" />
<polygon points="500.35,108.10 502.70,104.30 498.00,104.30" fill="#ff0000"/>
<line x1="503.80" y1="104.81" x2="510.70" y2="104.81" stroke="#ff0000" stroke-width="0.8" />
<polygon points="507.25,106.71 509.60,102.91 504.90,102.91" fill="#ff0000"/>
<line x1="510.70" y1="103.42" x2="517.60" y2="103.42" stroke="#ff0000" stroke-width="0.8" />
<polygon points="514.15,105.32 516.50,101.52 511.80,101.52" fill="#ff0000"/>
<line x1="517.60" y1="102.29" x2="524.50" y2="102.29" stroke="#ff0000" stroke-width="0.8" />
<polygon points="521.05,104.19 523.40,100.39 518.70,100.39" fill="#ff0000"/>
<line x1="524.50" y1="100.99" x2="531.40" y2="100.99" stroke="#ff0000" stroke-width="0.8" />
<polygon points="527.95,102.89 530.30,99.09 525.60,99.09" fill="#ff0000"/>
<line x1="531.40" y1="99.60" x2="538.30" y2="99.60" stroke="#ff0000" stroke-width="0.8" />
<polygon points="534.85,101.50 537.20,97.70 532.50,97.70" fill="#ff0000"/>
<line x1="538.30" y1="98.48" x2="545.20" y2="98.48" stroke="#ff0000" stroke-width="0.8" />
<polygon points="541.75,100.38 544.10,96.58 539.40,96.58" fill="#ff0000"/>
<line x1="545.20" y1="97.05" x2="552.10" y2="97.05" stroke="#ff0000" stroke-width="0.8" />
<polygon points="548.65,98.95 551.00,95.15 546.30,95.15" fill="#ff0000"/>
<line x1="552.10" y1="96.01" x2="559.00" y2="96.01" stroke="#ff0000" stroke-width="0.8" />
<polygon points="555.55,97.91 557.90,94.11 553.20,94.11" fill="#ff0000"/>
<line x1="559.00" y1="95.70" x2="565.90" y2="95.70" stroke="#ff0000" stroke-width="0.8" />
<polygon points="562.45,97.60 564.80,93.80 560.10,93.80" fill="#ff0000"/>
<line x1="565.90" y1="93.77" x2="572.80" y2="93.77" stroke="#ff0000" stroke-width="0.8" />
<polygon points="569.35,95.67 571.70,91.87 567.00,91.87" fill="#ff0000"/>
<line x1="572.80" y1="93.77" x2="579.70" y2="93.77" stroke="#ff0000" stroke-width="0.8" />
<polygon points="576.25,95.67 578.60,91.87 573.90,91.87" fill="#ff0000"/>
<line x1="579.70" y1="91.62" x2="586.60" y2="91.62" stroke="#ff0000" stroke-width="0.8" />
<polygon points="583.15,93.52 585.50,89.72 580.80,89.72" fill="#ff0000"/>
<line x1="586.60" y1="91.98" x2="593.50" y2="91.98" stroke="#ff0000" stroke-width="0.8" />
<polygon points="590.05,93.88 592.40,90.08 587.70,90.08" fill="#ff0000"/>
<line x1="593.50" y1="89.29" x2="600.40" y2="89.29" stroke="#ff0000" stroke-width="0.8" />
<polygon points="596.95,91.19 599.30,87.39 594.60,87.39" fill="#ff0000"/>
<line x1="600.40" y1="89.96" x2="607.30" y2="89.96" stroke="#ff0000" stroke-width="0.8" />
<line x1="603.85" y1="88.61" x2="603.85" y2="91.30" stroke="#ff0000" stroke-width="0.8" />
<polygon points="603.85,91.86 606.20,88.06 601.50,88.06" fill="#ff0000"/>
<line x1="607.30" y1="87.49" x2="676.30" y2="87.49" stroke="#ff0000" stroke-width="0.85" />
<line x1="641.80" y1="85.25" x2="641.80" y2="89.73" stroke="#ff0000" stroke-width="1.0" />
<polygon points="641.80,89.39 644.15,85.59 639.45,85.59" fill="#ff0000"/>
<line x1="414.10" y1="120.24" x2="421.00" y2="120.24" stroke="#00ffff" stroke-width="0.8" />
<rect x="415.30" y="117.99" width="4.50" height="4.50" fill="#00ffff"/>
<line x1="421.00" y1="117.55" x2="427.90" y2="117.55" stroke="#00ffff" stroke-width="0.8" />
<rect x="422.20" y="115.30" width="4.50" height="4.50" fill="#00ffff"/>
<line x1="427.90" y1="115.30" x2="434.80" y2="115.30" stroke="#00ffff" stroke-width="0.8" />
<rect x="429.10" y="113.05" width="4.50" height="4.50" fill="#00ffff"/>
<line x1="434.80" y1="113.51" x2="441.70" y2="113.51" stroke="#00ffff" stroke-width="0.8" />
<rect x="436.00" y="111.26" width="4.50" height="4.50" fill="#00ffff"/>
<line x1="441.70" y1="111.27" x2="448.60" y2="111.27" stroke="#00ffff" stroke-width="0.8" />
<rect x="442.90" y="109.02" width="4.50" height="4.50" fill="#00ffff"/>
<line x1="448.60" y1="109.47" x2="455.50" y2="109.47" stroke="#00ffff" stroke-width="0.8" />
<rect x="449.80" y="107.22" width="4.50" height="4.50" fill="#00ffff"/>
<line x1="455.50" y1="107.00" x2="462.40" y2="107.00" stroke="#00ffff" stroke-width="0.8" />
<rect x="456.70" y="104.75" width="4.50" height="4.50" fill="#00ffff"/>
<line x1="462.40" y1="105.88" x2="469.30" y2="105.88" stroke="#00ffff" stroke-width="0.8" />
<rect x="463.60" y="103.63" width="4.50" height="4.50" fill="#00ffff"/>
<line x1="469.30" y1="104.09" x2="476.20" y2="104.09" stroke="#00ffff" stroke-width="0.8" />
<rect x="470.50" y="101.84" width="4.50" height="4.50" fill="#00ffff"/>
<line x1="476.20" y1="102.74" x2="483.10" y2="102.74" stroke="#00ffff" stroke-width="0.8" />
<rect x="477.40" y="100.49" width="4.50" height="4.50" fill="#00ffff"/>
<line x1="483.10" y1="100.72" x2="490.00" y2="100.72" stroke="#00ffff" stroke-width="0.8" />
<rect x="484.30" y="98.47" width="4.50" height="4.50" fill="#00ffff"/>
<line x1="490.00" y1="98.26" x2="496.90" y2="98.26" stroke="#00ffff" stroke-width="0.8" />
<rect x="491.20" y="96.01" width="4.50" height="4.50" fill="#00ffff"/>
<line x1="496.90" y1="96.69" x2="503.80" y2="96.69" stroke="#00ffff" stroke-width="0.8" />
<rect x="498.10" y="94.44" width="4.50" height="4.50" fill="#00ffff"/>
<line x1="503.80" y1="95.12" x2="510.70" y2="95.12" stroke="#00ffff" stroke-width="0.8" />
<rect x="505.00" y="92.87" width="4.50" height="4.50" fill="#00ffff"/>
<line x1="510.70" y1="91.98" x2="517.60" y2="91.98" stroke="#00ffff" stroke-width="0.8" />
<rect x="511.90" y="89.73" width="4.50" height="4.50" fill="#00ffff"/>
<line x1="517.60" y1="89.29" x2="524.50" y2="89.29" stroke="#00ffff" stroke-width="0.8" />
<rect x="518.80" y="87.04" width="4.50" height="4.50" fill="#00ffff"/>
<line x1="524.50" y1="86.15" x2="531.40" y2="86.15" stroke="#00ffff" stroke-width="0.8" />
<rect x="525.70" y="83.90" width="4.50" height="4.50" fill="#00ffff"/>
<line x1="531.40" y1="83.45" x2="538.30" y2="83.45" stroke="#00ffff" stroke-width="0.8" />
<rect x="532.60" y="81.20" width="4.50" height="4.50" fill="#00ffff"/>
<line x1="538.30" y1="79.87" x2="545.20" y2="79.87" stroke="#00ffff" stroke-width="0.8" />
<rect x="539.50" y="77.62" width="4.50" height="4.50" fill="#00ffff"/>
<line x1="545.20" y1="76.73" x2="552.10" y2="76.73" stroke="#00ffff" stroke-width="0.8" />
<rect x="546.40" y="74.48" width="4.50" height="4.50" fill="#00ffff"/>
<line x1="552.10" y1="75.38" x2="559.00" y2="75.38" stroke="#00ffff" stroke-width="0.8" />
<rect x="553.30" y="73.13" width="4.50" height="4.50" fill="#00ffff"/>
<line x1="559.00" y1="73.59" x2="565.90" y2="73.59" stroke="#00ffff" stroke-width="0.8" />
<rect x="560.20" y="71.34" width="4.50" height="4.50" fill="#00ffff"/>
<line x1="565.90" y1="70.45" x2="572.80" y2="70.45" stroke="#00ffff" stroke-width="0.8" />
<rect x="567.10" y="68.20" width="4.50" height="4.50" fill="#00ffff"/>
<line x1="572.80" y1="68.65" x2="579.70" y2="68.65" stroke="#00ffff" stroke-width="0.8" />
<rect x="574.00" y="66.40" width="4.50" height="4.50" fill="#00ffff"/>
<line x1="579.70" y1="65.29" x2="586.60" y2="65.29" stroke="#00ffff" stroke-width="0.8" />
<rect x="580.90" y="63.04" width="4.50" height="4.50" fill="#00ffff"/>
<line x1="586.60" y1="63.72" x2="593.50" y2="63.72" stroke="#00ffff" stroke-width="0.8" />
<rect x="587.80" y="61.47" width="4.50" height="4.50" fill="#00ffff"/>
<line x1="593.50" y1="61.92" x2="600.40" y2="61.92" stroke="#00ffff" stroke-width="0.8" />
<rect x="594.70" y="59.67" width="4.50" height="4.50" fill="#00ffff"/>
<line x1="600.40" y1="59.23" x2="607.30" y2="59.23" stroke="#00ffff" stroke-width="0.8" />
<line x1="603.85" y1="56.99" x2="603.85" y2="61.47" stroke="#00ffff" stroke-width="0.8" />
<rect x="601.60" y="56.98" width="4.50" height="4.50" fill="#00ffff"/>
<line x1="607.30" y1="61.47" x2="676.30" y2="61.47" stroke="#00ffff" stroke-width="0.85" />
<line x1="641.80" y1="58.78" x2="641.80" y2="64.17" stroke="#00ffff" stroke-width="1.0" />
<rect x="639.55" y="59.22" width="4.50" height="4.50" fill="#00ffff"/>
<line x1="414.10" y1="118.22" x2="421.00" y2="118.22" stroke="#000000" stroke-width="0.8" />
<circle cx="417.55" cy="118.22" r="2.05" fill="#000000"/>
<line x1="421.00" y1="115.75" x2="427.90" y2="115.75" stroke="#000000" stroke-width="0.8" />
<circle cx="424.45" cy="115.75" r="2.05" fill="#000000"/>
<line x1="427.90" y1="113.06" x2="434.80" y2="113.06" stroke="#000000" stroke-width="0.8" />
<circle cx="431.35" cy="113.06" r="2.05" fill="#000000"/>
<line x1="434.80" y1="111.04" x2="441.70" y2="111.04" stroke="#000000" stroke-width="0.8" />
<circle cx="438.25" cy="111.04" r="2.05" fill="#000000"/>
<line x1="441.70" y1="107.68" x2="448.60" y2="107.68" stroke="#000000" stroke-width="0.8" />
<circle cx="445.15" cy="107.68" r="2.05" fill="#000000"/>
<line x1="448.60" y1="105.21" x2="455.50" y2="105.21" stroke="#000000" stroke-width="0.8" />
<circle cx="452.05" cy="105.21" r="2.05" fill="#000000"/>
<line x1="455.50" y1="102.74" x2="462.40" y2="102.74" stroke="#000000" stroke-width="0.8" />
<circle cx="458.95" cy="102.74" r="2.05" fill="#000000"/>
<line x1="462.40" y1="99.60" x2="469.30" y2="99.60" stroke="#000000" stroke-width="0.8" />
<circle cx="465.85" cy="99.60" r="2.05" fill="#000000"/>
<line x1="469.30" y1="96.01" x2="476.20" y2="96.01" stroke="#000000" stroke-width="0.8" />
<circle cx="472.75" cy="96.01" r="2.05" fill="#000000"/>
<line x1="476.20" y1="93.77" x2="483.10" y2="93.77" stroke="#000000" stroke-width="0.8" />
<circle cx="479.65" cy="93.77" r="2.05" fill="#000000"/>
<line x1="483.10" y1="91.08" x2="490.00" y2="91.08" stroke="#000000" stroke-width="0.8" />
<circle cx="486.55" cy="91.08" r="2.05" fill="#000000"/>
<line x1="490.00" y1="87.94" x2="496.90" y2="87.94" stroke="#000000" stroke-width="0.8" />
<circle cx="493.45" cy="87.94" r="2.05" fill="#000000"/>
<line x1="496.90" y1="84.80" x2="503.80" y2="84.80" stroke="#000000" stroke-width="0.8" />
<circle cx="500.35" cy="84.80" r="2.05" fill="#000000"/>
<line x1="503.80" y1="81.66" x2="510.70" y2="81.66" stroke="#000000" stroke-width="0.8" />
<circle cx="507.25" cy="81.66" r="2.05" fill="#000000"/>
<line x1="510.70" y1="77.62" x2="517.60" y2="77.62" stroke="#000000" stroke-width="0.8" />
<circle cx="514.15" cy="77.62" r="2.05" fill="#000000"/>
<line x1="517.60" y1="74.03" x2="524.50" y2="74.03" stroke="#000000" stroke-width="0.8" />
<circle cx="521.05" cy="74.03" r="2.05" fill="#000000"/>
<line x1="524.50" y1="70.00" x2="531.40" y2="70.00" stroke="#000000" stroke-width="0.8" />
<circle cx="527.95" cy="70.00" r="2.05" fill="#000000"/>
<line x1="531.40" y1="66.41" x2="538.30" y2="66.41" stroke="#000000" stroke-width="0.8" />
<circle cx="534.85" cy="66.41" r="2.05" fill="#000000"/>
<line x1="538.30" y1="62.82" x2="545.20" y2="62.82" stroke="#000000" stroke-width="0.8" />
<circle cx="541.75" cy="62.82" r="2.05" fill="#000000"/>
<line x1="545.20" y1="58.78" x2="552.10" y2="58.78" stroke="#000000" stroke-width="0.8" />
<circle cx="548.65" cy="58.78" r="2.05" fill="#000000"/>
<line x1="552.10" y1="54.52" x2="559.00" y2="54.52" stroke="#000000" stroke-width="0.8" />
<circle cx="555.55" cy="54.52" r="2.05" fill="#000000"/>
<line x1="559.00" y1="50.71" x2="565.90" y2="50.71" stroke="#000000" stroke-width="0.8" />
<circle cx="562.45" cy="50.71" r="2.05" fill="#000000"/>
<line x1="565.90" y1="46.22" x2="572.80" y2="46.22" stroke="#000000" stroke-width="0.8" />
<circle cx="569.35" cy="46.22" r="2.05" fill="#000000"/>
<line x1="572.80" y1="42.19" x2="579.70" y2="42.19" stroke="#000000" stroke-width="0.8" />
<circle cx="576.25" cy="42.19" r="2.05" fill="#000000"/>
<line x1="579.70" y1="36.80" x2="586.60" y2="36.80" stroke="#000000" stroke-width="0.8" />
<circle cx="583.15" cy="36.80" r="2.05" fill="#000000"/>
<line x1="586.60" y1="33.21" x2="593.50" y2="33.21" stroke="#000000" stroke-width="0.8" />
<circle cx="590.05" cy="33.21" r="2.05" fill="#000000"/>
<line x1="593.50" y1="30.97" x2="600.40" y2="30.97" stroke="#000000" stroke-width="0.8" />
<circle cx="596.95" cy="30.97" r="2.05" fill="#000000"/>
<line x1="600.40" y1="17.51" x2="607.30" y2="17.51" stroke="#000000" stroke-width="0.8" />
<line x1="603.85" y1="13.03" x2="603.85" y2="22.00" stroke="#000000" stroke-width="0.8" />
<circle cx="603.85" cy="17.51" r="2.05" fill="#000000"/>
<line x1="607.30" y1="15.27" x2="676.30" y2="15.27" stroke="#000000" stroke-width="0.85" />
<line x1="641.80" y1="11.23" x2="641.80" y2="19.31" stroke="#000000" stroke-width="1.0" />
<circle cx="641.80" cy="15.27" r="2.05" fill="#000000"/>
<line x1="414.10" y1="183.08" x2="421.00" y2="183.08" stroke="#1f9a1f" stroke-width="0.9" />
<polygon points="417.55,181.18 419.90,184.98 415.20,184.98" fill="#1f9a1f"/>
<line x1="421.00" y1="185.03" x2="427.90" y2="185.03" stroke="#1f9a1f" stroke-width="0.9" />
<polygon points="424.45,183.13 426.80,186.93 422.10,186.93" fill="#1f9a1f"/>
<line x1="427.90" y1="185.56" x2="434.80" y2="185.56" stroke="#1f9a1f" stroke-width="0.9" />
<polygon points="431.35,183.66 433.70,187.46 429.00,187.46" fill="#1f9a1f"/>
<line x1="434.80" y1="185.26" x2="441.70" y2="185.26" stroke="#1f9a1f" stroke-width="0.9" />
<polygon points="438.25,183.36 440.60,187.16 435.90,187.16" fill="#1f9a1f"/>
<line x1="441.70" y1="185.26" x2="448.60" y2="185.26" stroke="#1f9a1f" stroke-width="0.9" />
<polygon points="445.15,183.36 447.50,187.16 442.80,187.16" fill="#1f9a1f"/>
<line x1="448.60" y1="184.88" x2="455.50" y2="184.88" stroke="#1f9a1f" stroke-width="0.9" />
<polygon points="452.05,182.98 454.40,186.78 449.70,186.78" fill="#1f9a1f"/>
<line x1="455.50" y1="184.83" x2="462.40" y2="184.83" stroke="#1f9a1f" stroke-width="0.9" />
<polygon points="458.95,182.93 461.30,186.73 456.60,186.73" fill="#1f9a1f"/>
<line x1="462.40" y1="185.31" x2="469.30" y2="185.31" stroke="#1f9a1f" stroke-width="0.9" />
<polygon points="465.85,183.41 468.20,187.21 463.50,187.21" fill="#1f9a1f"/>
<line x1="469.30" y1="184.86" x2="476.20" y2="184.86" stroke="#1f9a1f" stroke-width="0.9" />
<polygon points="472.75,182.96 475.10,186.76 470.40,186.76" fill="#1f9a1f"/>
<line x1="476.20" y1="184.95" x2="483.10" y2="184.95" stroke="#1f9a1f" stroke-width="0.9" />
<polygon points="479.65,183.05 482.00,186.85 477.30,186.85" fill="#1f9a1f"/>
<line x1="483.10" y1="185.40" x2="490.00" y2="185.40" stroke="#1f9a1f" stroke-width="0.9" />
<polygon points="486.55,183.50 488.90,187.30 484.20,187.30" fill="#1f9a1f"/>
<line x1="490.00" y1="185.23" x2="496.90" y2="185.23" stroke="#1f9a1f" stroke-width="0.9" />
<polygon points="493.45,183.33 495.80,187.13 491.10,187.13" fill="#1f9a1f"/>
<line x1="496.90" y1="185.52" x2="503.80" y2="185.52" stroke="#1f9a1f" stroke-width="0.9" />
<polygon points="500.35,183.62 502.70,187.42 498.00,187.42" fill="#1f9a1f"/>
<line x1="503.80" y1="184.93" x2="510.70" y2="184.93" stroke="#1f9a1f" stroke-width="0.9" />
<polygon points="507.25,183.03 509.60,186.83 504.90,186.83" fill="#1f9a1f"/>
<line x1="510.70" y1="185.06" x2="517.60" y2="185.06" stroke="#1f9a1f" stroke-width="0.9" />
<polygon points="514.15,183.16 516.50,186.96 511.80,186.96" fill="#1f9a1f"/>
<line x1="517.60" y1="184.87" x2="524.50" y2="184.87" stroke="#1f9a1f" stroke-width="0.9" />
<polygon points="521.05,182.97 523.40,186.77 518.70,186.77" fill="#1f9a1f"/>
<line x1="524.50" y1="184.95" x2="531.40" y2="184.95" stroke="#1f9a1f" stroke-width="0.9" />
<polygon points="527.95,183.05 530.30,186.85 525.60,186.85" fill="#1f9a1f"/>
<line x1="531.40" y1="185.06" x2="538.30" y2="185.06" stroke="#1f9a1f" stroke-width="0.9" />
<polygon points="534.85,183.16 537.20,186.96 532.50,186.96" fill="#1f9a1f"/>
<line x1="538.30" y1="185.00" x2="545.20" y2="185.00" stroke="#1f9a1f" stroke-width="0.9" />
<polygon points="541.75,183.10 544.10,186.90 539.40,186.90" fill="#1f9a1f"/>
<line x1="545.20" y1="185.15" x2="552.10" y2="185.15" stroke="#1f9a1f" stroke-width="0.9" />
<polygon points="548.65,183.25 551.00,187.05 546.30,187.05" fill="#1f9a1f"/>
<line x1="552.10" y1="185.54" x2="559.00" y2="185.54" stroke="#1f9a1f" stroke-width="0.9" />
<polygon points="555.55,183.64 557.90,187.44 553.20,187.44" fill="#1f9a1f"/>
<line x1="559.00" y1="185.13" x2="565.90" y2="185.13" stroke="#1f9a1f" stroke-width="0.9" />
<polygon points="562.45,183.23 564.80,187.03 560.10,187.03" fill="#1f9a1f"/>
<line x1="565.90" y1="185.62" x2="572.80" y2="185.62" stroke="#1f9a1f" stroke-width="0.9" />
<polygon points="569.35,183.72 571.70,187.52 567.00,187.52" fill="#1f9a1f"/>
<line x1="572.80" y1="185.50" x2="579.70" y2="185.50" stroke="#1f9a1f" stroke-width="0.9" />
<polygon points="576.25,183.60 578.60,187.40 573.90,187.40" fill="#1f9a1f"/>
<line x1="579.70" y1="184.97" x2="586.60" y2="184.97" stroke="#1f9a1f" stroke-width="0.9" />
<polygon points="583.15,183.07 585.50,186.87 580.80,186.87" fill="#1f9a1f"/>
<line x1="586.60" y1="185.59" x2="593.50" y2="185.59" stroke="#1f9a1f" stroke-width="0.9" />
<polygon points="590.05,183.69 592.40,187.49 587.70,187.49" fill="#1f9a1f"/>
<line x1="593.50" y1="187.32" x2="600.40" y2="187.32" stroke="#1f9a1f" stroke-width="0.9" />
<line x1="596.95" y1="185.73" x2="596.95" y2="188.91" stroke="#1f9a1f" stroke-width="0.9" />
<polygon points="596.95,185.42 599.30,189.22 594.60,189.22" fill="#1f9a1f"/>
<line x1="600.40" y1="184.14" x2="607.30" y2="184.14" stroke="#1f9a1f" stroke-width="0.9" />
<line x1="603.85" y1="181.49" x2="603.85" y2="186.79" stroke="#1f9a1f" stroke-width="0.9" />
<polygon points="603.85,182.24 606.20,186.04 601.50,186.04" fill="#1f9a1f"/>
<line x1="607.30" y1="184.03" x2="676.30" y2="184.03" stroke="#1f9a1f" stroke-width="0.85" />
<polygon points="641.80,182.13 644.15,185.93 639.45,185.93" fill="#1f9a1f"/>
<line x1="414.10" y1="179.90" x2="421.00" y2="179.90" stroke="#ff0000" stroke-width="0.9" />
<polygon points="417.55,181.80 419.90,178.00 415.20,178.00" fill="#ff0000"/>
<line x1="421.00" y1="185.61" x2="427.90" y2="185.61" stroke="#ff0000" stroke-width="0.9" />
<polygon points="424.45,187.51 426.80,183.71 422.10,183.71" fill="#ff0000"/>
<line x1="427.90" y1="185.81" x2="434.80" y2="185.81" stroke="#ff0000" stroke-width="0.9" />
<polygon points="431.35,187.71 433.70,183.91 429.00,183.91" fill="#ff0000"/>
<line x1="434.80" y1="184.77" x2="441.70" y2="184.77" stroke="#ff0000" stroke-width="0.9" />
<polygon points="438.25,186.67 440.60,182.87 435.90,182.87" fill="#ff0000"/>
<line x1="441.70" y1="185.68" x2="448.60" y2="185.68" stroke="#ff0000" stroke-width="0.9" />
<polygon points="445.15,187.58 447.50,183.78 442.80,183.78" fill="#ff0000"/>
<line x1="448.60" y1="184.76" x2="455.50" y2="184.76" stroke="#ff0000" stroke-width="0.9" />
<polygon points="452.05,186.66 454.40,182.86 449.70,182.86" fill="#ff0000"/>
<line x1="455.50" y1="184.98" x2="462.40" y2="184.98" stroke="#ff0000" stroke-width="0.9" />
<polygon points="458.95,186.88 461.30,183.08 456.60,183.08" fill="#ff0000"/>
<line x1="462.40" y1="184.77" x2="469.30" y2="184.77" stroke="#ff0000" stroke-width="0.9" />
<polygon points="465.85,186.67 468.20,182.87 463.50,182.87" fill="#ff0000"/>
<line x1="469.30" y1="184.62" x2="476.20" y2="184.62" stroke="#ff0000" stroke-width="0.9" />
<polygon points="472.75,186.52 475.10,182.72 470.40,182.72" fill="#ff0000"/>
<line x1="476.20" y1="185.10" x2="483.10" y2="185.10" stroke="#ff0000" stroke-width="0.9" />
<polygon points="479.65,187.00 482.00,183.20 477.30,183.20" fill="#ff0000"/>
<line x1="483.10" y1="184.82" x2="490.00" y2="184.82" stroke="#ff0000" stroke-width="0.9" />
<polygon points="486.55,186.72 488.90,182.92 484.20,182.92" fill="#ff0000"/>
<line x1="490.00" y1="185.79" x2="496.90" y2="185.79" stroke="#ff0000" stroke-width="0.9" />
<polygon points="493.45,187.69 495.80,183.89 491.10,183.89" fill="#ff0000"/>
<line x1="496.90" y1="184.86" x2="503.80" y2="184.86" stroke="#ff0000" stroke-width="0.9" />
<polygon points="500.35,186.76 502.70,182.96 498.00,182.96" fill="#ff0000"/>
<line x1="503.80" y1="185.19" x2="510.70" y2="185.19" stroke="#ff0000" stroke-width="0.9" />
<polygon points="507.25,187.09 509.60,183.29 504.90,183.29" fill="#ff0000"/>
<line x1="510.70" y1="184.93" x2="517.60" y2="184.93" stroke="#ff0000" stroke-width="0.9" />
<polygon points="514.15,186.83 516.50,183.03 511.80,183.03" fill="#ff0000"/>
<line x1="517.60" y1="185.70" x2="524.50" y2="185.70" stroke="#ff0000" stroke-width="0.9" />
<polygon points="521.05,187.60 523.40,183.80 518.70,183.80" fill="#ff0000"/>
<line x1="524.50" y1="184.88" x2="531.40" y2="184.88" stroke="#ff0000" stroke-width="0.9" />
<polygon points="527.95,186.78 530.30,182.98 525.60,182.98" fill="#ff0000"/>
<line x1="531.40" y1="184.65" x2="538.30" y2="184.65" stroke="#ff0000" stroke-width="0.9" />
<polygon points="534.85,186.55 537.20,182.75 532.50,182.75" fill="#ff0000"/>
<line x1="538.30" y1="185.76" x2="545.20" y2="185.76" stroke="#ff0000" stroke-width="0.9" />
<polygon points="541.75,187.66 544.10,183.86 539.40,183.86" fill="#ff0000"/>
<line x1="545.20" y1="185.42" x2="552.10" y2="185.42" stroke="#ff0000" stroke-width="0.9" />
<polygon points="548.65,187.32 551.00,183.52 546.30,183.52" fill="#ff0000"/>
<line x1="552.10" y1="185.12" x2="559.00" y2="185.12" stroke="#ff0000" stroke-width="0.9" />
<polygon points="555.55,187.02 557.90,183.22 553.20,183.22" fill="#ff0000"/>
<line x1="559.00" y1="184.78" x2="565.90" y2="184.78" stroke="#ff0000" stroke-width="0.9" />
<polygon points="562.45,186.68 564.80,182.88 560.10,182.88" fill="#ff0000"/>
<line x1="565.90" y1="185.53" x2="572.80" y2="185.53" stroke="#ff0000" stroke-width="0.9" />
<polygon points="569.35,187.43 571.70,183.63 567.00,183.63" fill="#ff0000"/>
<line x1="572.80" y1="185.61" x2="579.70" y2="185.61" stroke="#ff0000" stroke-width="0.9" />
<polygon points="576.25,187.51 578.60,183.71 573.90,183.71" fill="#ff0000"/>
<line x1="579.70" y1="185.52" x2="586.60" y2="185.52" stroke="#ff0000" stroke-width="0.9" />
<polygon points="583.15,187.42 585.50,183.62 580.80,183.62" fill="#ff0000"/>
<line x1="586.60" y1="185.05" x2="593.50" y2="185.05" stroke="#ff0000" stroke-width="0.9" />
<polygon points="590.05,186.95 592.40,183.15 587.70,183.15" fill="#ff0000"/>
<line x1="593.50" y1="184.88" x2="600.40" y2="184.88" stroke="#ff0000" stroke-width="0.9" />
<line x1="596.95" y1="183.29" x2="596.95" y2="186.47" stroke="#ff0000" stroke-width="0.9" />
<polygon points="596.95,186.78 599.30,182.98 594.60,182.98" fill="#ff0000"/>
<line x1="600.40" y1="180.96" x2="607.30" y2="180.96" stroke="#ff0000" stroke-width="0.9" />
<line x1="603.85" y1="178.31" x2="603.85" y2="183.61" stroke="#ff0000" stroke-width="0.9" />
<polygon points="603.85,182.86 606.20,179.06 601.50,179.06" fill="#ff0000"/>
<line x1="607.30" y1="184.25" x2="676.30" y2="184.25" stroke="#ff0000" stroke-width="0.85" />
<polygon points="641.80,186.15 644.15,182.35 639.45,182.35" fill="#ff0000"/>
<line x1="414.10" y1="183.08" x2="421.00" y2="183.08" stroke="#000" stroke-width="0.9" />
<circle cx="417.55" cy="183.08" r="2.05" fill="#000"/>
<line x1="421.00" y1="184.19" x2="427.90" y2="184.19" stroke="#000" stroke-width="0.9" />
<circle cx="424.45" cy="184.19" r="2.05" fill="#000"/>
<line x1="427.90" y1="184.16" x2="434.80" y2="184.16" stroke="#000" stroke-width="0.9" />
<circle cx="431.35" cy="184.16" r="2.05" fill="#000"/>
<line x1="434.80" y1="183.91" x2="441.70" y2="183.91" stroke="#000" stroke-width="0.9" />
<circle cx="438.25" cy="183.91" r="2.05" fill="#000"/>
<line x1="441.70" y1="183.96" x2="448.60" y2="183.96" stroke="#000" stroke-width="0.9" />
<circle cx="445.15" cy="183.96" r="2.05" fill="#000"/>
<line x1="448.60" y1="184.15" x2="455.50" y2="184.15" stroke="#000" stroke-width="0.9" />
<circle cx="452.05" cy="184.15" r="2.05" fill="#000"/>
<line x1="455.50" y1="184.30" x2="462.40" y2="184.30" stroke="#000" stroke-width="0.9" />
<circle cx="458.95" cy="184.30" r="2.05" fill="#000"/>
<line x1="462.40" y1="184.18" x2="469.30" y2="184.18" stroke="#000" stroke-width="0.9" />
<circle cx="465.85" cy="184.18" r="2.05" fill="#000"/>
<line x1="469.30" y1="184.35" x2="476.20" y2="184.35" stroke="#000" stroke-width="0.9" />
<circle cx="472.75" cy="184.35" r="2.05" fill="#000"/>
<line x1="476.20" y1="183.99" x2="483.10" y2="183.99" stroke="#000" stroke-width="0.9" />
<circle cx="479.65" cy="183.99" r="2.05" fill="#000"/>
<line x1="483.10" y1="183.85" x2="490.00" y2="183.85" stroke="#000" stroke-width="0.9" />
<circle cx="486.55" cy="183.85" r="2.05" fill="#000"/>
<line x1="490.00" y1="184.14" x2="496.90" y2="184.14" stroke="#000" stroke-width="0.9" />
<circle cx="493.45" cy="184.14" r="2.05" fill="#000"/>
<line x1="496.90" y1="184.39" x2="503.80" y2="184.39" stroke="#000" stroke-width="0.9" />
<circle cx="500.35" cy="184.39" r="2.05" fill="#000"/>
<line x1="503.80" y1="184.26" x2="510.70" y2="184.26" stroke="#000" stroke-width="0.9" />
<circle cx="507.25" cy="184.26" r="2.05" fill="#000"/>
<line x1="510.70" y1="183.99" x2="517.60" y2="183.99" stroke="#000" stroke-width="0.9" />
<circle cx="514.15" cy="183.99" r="2.05" fill="#000"/>
<line x1="517.60" y1="183.69" x2="524.50" y2="183.69" stroke="#000" stroke-width="0.9" />
<circle cx="521.05" cy="183.69" r="2.05" fill="#000"/>
<line x1="524.50" y1="183.44" x2="531.40" y2="183.44" stroke="#000" stroke-width="0.9" />
<circle cx="527.95" cy="183.44" r="2.05" fill="#000"/>
<line x1="531.40" y1="183.68" x2="538.30" y2="183.68" stroke="#000" stroke-width="0.9" />
<circle cx="534.85" cy="183.68" r="2.05" fill="#000"/>
<line x1="538.30" y1="183.22" x2="545.20" y2="183.22" stroke="#000" stroke-width="0.9" />
<circle cx="541.75" cy="183.22" r="2.05" fill="#000"/>
<line x1="545.20" y1="183.27" x2="552.10" y2="183.27" stroke="#000" stroke-width="0.9" />
<circle cx="548.65" cy="183.27" r="2.05" fill="#000"/>
<line x1="552.10" y1="183.33" x2="559.00" y2="183.33" stroke="#000" stroke-width="0.9" />
<circle cx="555.55" cy="183.33" r="2.05" fill="#000"/>
<line x1="559.00" y1="183.28" x2="565.90" y2="183.28" stroke="#000" stroke-width="0.9" />
<circle cx="562.45" cy="183.28" r="2.05" fill="#000"/>
<line x1="565.90" y1="183.07" x2="572.80" y2="183.07" stroke="#000" stroke-width="0.9" />
<circle cx="569.35" cy="183.07" r="2.05" fill="#000"/>
<line x1="572.80" y1="182.80" x2="579.70" y2="182.80" stroke="#000" stroke-width="0.9" />
<circle cx="576.25" cy="182.80" r="2.05" fill="#000"/>
<line x1="579.70" y1="182.93" x2="586.60" y2="182.93" stroke="#000" stroke-width="0.9" />
<circle cx="583.15" cy="182.93" r="2.05" fill="#000"/>
<line x1="586.60" y1="182.65" x2="593.50" y2="182.65" stroke="#000" stroke-width="0.9" />
<circle cx="590.05" cy="182.65" r="2.05" fill="#000"/>
<line x1="593.50" y1="182.85" x2="600.40" y2="182.85" stroke="#000" stroke-width="0.9" />
<line x1="596.95" y1="181.26" x2="596.95" y2="184.44" stroke="#000" stroke-width="0.9" />
<circle cx="596.95" cy="182.85" r="2.05" fill="#000"/>
<line x1="600.40" y1="176.19" x2="607.30" y2="176.19" stroke="#000" stroke-width="0.9" />
<line x1="603.85" y1="173.54" x2="603.85" y2="178.84" stroke="#000" stroke-width="0.9" />
<circle cx="603.85" cy="176.19" r="2.05" fill="#000"/>
<line x1="607.30" y1="180.43" x2="676.30" y2="180.43" stroke="#000" stroke-width="0.85" />
<line x1="641.80" y1="177.78" x2="641.80" y2="183.08" stroke="#000" stroke-width="1.0" />
<circle cx="641.80" cy="180.43" r="2.05" fill="#000"/>
<line x1="414.10" y1="183.08" x2="421.00" y2="183.08" stroke="#00ffff" stroke-width="0.9" />
<rect x="415.30" y="180.83" width="4.50" height="4.50" fill="#00ffff"/>
<line x1="421.00" y1="185.31" x2="427.90" y2="185.31" stroke="#00ffff" stroke-width="0.9" />
<rect x="422.20" y="183.06" width="4.50" height="4.50" fill="#00ffff"/>
<line x1="427.90" y1="185.36" x2="434.80" y2="185.36" stroke="#00ffff" stroke-width="0.9" />
<rect x="429.10" y="183.11" width="4.50" height="4.50" fill="#00ffff"/>
<line x1="434.80" y1="185.29" x2="441.70" y2="185.29" stroke="#00ffff" stroke-width="0.9" />
<rect x="436.00" y="183.04" width="4.50" height="4.50" fill="#00ffff"/>
<line x1="441.70" y1="185.64" x2="448.60" y2="185.64" stroke="#00ffff" stroke-width="0.9" />
<rect x="442.90" y="183.39" width="4.50" height="4.50" fill="#00ffff"/>
<line x1="448.60" y1="185.20" x2="455.50" y2="185.20" stroke="#00ffff" stroke-width="0.9" />
<rect x="449.80" y="182.95" width="4.50" height="4.50" fill="#00ffff"/>
<line x1="455.50" y1="184.70" x2="462.40" y2="184.70" stroke="#00ffff" stroke-width="0.9" />
<rect x="456.70" y="182.45" width="4.50" height="4.50" fill="#00ffff"/>
<line x1="462.40" y1="185.29" x2="469.30" y2="185.29" stroke="#00ffff" stroke-width="0.9" />
<rect x="463.60" y="183.04" width="4.50" height="4.50" fill="#00ffff"/>
<line x1="469.30" y1="184.94" x2="476.20" y2="184.94" stroke="#00ffff" stroke-width="0.9" />
<rect x="470.50" y="182.69" width="4.50" height="4.50" fill="#00ffff"/>
<line x1="476.20" y1="185.56" x2="483.10" y2="185.56" stroke="#00ffff" stroke-width="0.9" />
<rect x="477.40" y="183.31" width="4.50" height="4.50" fill="#00ffff"/>
<line x1="483.10" y1="185.00" x2="490.00" y2="185.00" stroke="#00ffff" stroke-width="0.9" />
<rect x="484.30" y="182.75" width="4.50" height="4.50" fill="#00ffff"/>
<line x1="490.00" y1="184.93" x2="496.90" y2="184.93" stroke="#00ffff" stroke-width="0.9" />
<rect x="491.20" y="182.68" width="4.50" height="4.50" fill="#00ffff"/>
<line x1="496.90" y1="185.02" x2="503.80" y2="185.02" stroke="#00ffff" stroke-width="0.9" />
<rect x="498.10" y="182.77" width="4.50" height="4.50" fill="#00ffff"/>
<line x1="503.80" y1="185.12" x2="510.70" y2="185.12" stroke="#00ffff" stroke-width="0.9" />
<rect x="505.00" y="182.87" width="4.50" height="4.50" fill="#00ffff"/>
<line x1="510.70" y1="185.02" x2="517.60" y2="185.02" stroke="#00ffff" stroke-width="0.9" />
<rect x="511.90" y="182.77" width="4.50" height="4.50" fill="#00ffff"/>
<line x1="517.60" y1="184.72" x2="524.50" y2="184.72" stroke="#00ffff" stroke-width="0.9" />
<rect x="518.80" y="182.47" width="4.50" height="4.50" fill="#00ffff"/>
<line x1="524.50" y1="184.32" x2="531.40" y2="184.32" stroke="#00ffff" stroke-width="0.9" />
<rect x="525.70" y="182.07" width="4.50" height="4.50" fill="#00ffff"/>
<line x1="531.40" y1="184.98" x2="538.30" y2="184.98" stroke="#00ffff" stroke-width="0.9" />
<rect x="532.60" y="182.73" width="4.50" height="4.50" fill="#00ffff"/>
<line x1="538.30" y1="184.90" x2="545.20" y2="184.90" stroke="#00ffff" stroke-width="0.9" />
<rect x="539.50" y="182.65" width="4.50" height="4.50" fill="#00ffff"/>
<line x1="545.20" y1="184.08" x2="552.10" y2="184.08" stroke="#00ffff" stroke-width="0.9" />
<rect x="546.40" y="181.83" width="4.50" height="4.50" fill="#00ffff"/>
<line x1="552.10" y1="183.76" x2="559.00" y2="183.76" stroke="#00ffff" stroke-width="0.9" />
<rect x="553.30" y="181.51" width="4.50" height="4.50" fill="#00ffff"/>
<line x1="559.00" y1="184.06" x2="565.90" y2="184.06" stroke="#00ffff" stroke-width="0.9" />
<rect x="560.20" y="181.81" width="4.50" height="4.50" fill="#00ffff"/>
<line x1="565.90" y1="184.00" x2="572.80" y2="184.00" stroke="#00ffff" stroke-width="0.9" />
<rect x="567.10" y="181.75" width="4.50" height="4.50" fill="#00ffff"/>
<line x1="572.80" y1="183.58" x2="579.70" y2="183.58" stroke="#00ffff" stroke-width="0.9" />
<rect x="574.00" y="181.33" width="4.50" height="4.50" fill="#00ffff"/>
<line x1="579.70" y1="184.01" x2="586.60" y2="184.01" stroke="#00ffff" stroke-width="0.9" />
<rect x="580.90" y="181.76" width="4.50" height="4.50" fill="#00ffff"/>
<line x1="586.60" y1="183.86" x2="593.50" y2="183.86" stroke="#00ffff" stroke-width="0.9" />
<rect x="587.80" y="181.61" width="4.50" height="4.50" fill="#00ffff"/>
<line x1="593.50" y1="183.93" x2="600.40" y2="183.93" stroke="#00ffff" stroke-width="0.9" />
<line x1="596.95" y1="182.34" x2="596.95" y2="185.52" stroke="#00ffff" stroke-width="0.9" />
<rect x="594.70" y="181.68" width="4.50" height="4.50" fill="#00ffff"/>
<line x1="600.40" y1="178.84" x2="607.30" y2="178.84" stroke="#00ffff" stroke-width="0.9" />
<line x1="603.85" y1="176.19" x2="603.85" y2="181.49" stroke="#00ffff" stroke-width="0.9" />
<rect x="601.60" y="176.59" width="4.50" height="4.50" fill="#00ffff"/>
<line x1="607.30" y1="184.94" x2="676.30" y2="184.94" stroke="#00ffff" stroke-width="0.85" />
<line x1="641.80" y1="183.34" x2="641.80" y2="186.53" stroke="#00ffff" stroke-width="1.0" />
<rect x="639.55" y="182.69" width="4.50" height="4.50" fill="#00ffff"/>
<line x1="414.10" y1="196.33" x2="421.00" y2="196.33" stroke="#0000ff" stroke-width="0.9" />
<circle cx="417.55" cy="196.33" r="1.35" fill="#0000ff"/>
<line x1="421.00" y1="186.09" x2="427.90" y2="186.09" stroke="#0000ff" stroke-width="0.9" />
<circle cx="424.45" cy="186.09" r="1.35" fill="#0000ff"/>
<line x1="427.90" y1="185.02" x2="434.80" y2="185.02" stroke="#0000ff" stroke-width="0.9" />
<circle cx="431.35" cy="185.02" r="1.35" fill="#0000ff"/>
<line x1="434.80" y1="184.41" x2="441.70" y2="184.41" stroke="#0000ff" stroke-width="0.9" />
<circle cx="438.25" cy="184.41" r="1.35" fill="#0000ff"/>
<line x1="441.70" y1="185.94" x2="448.60" y2="185.94" stroke="#0000ff" stroke-width="0.9" />
<circle cx="445.15" cy="185.94" r="1.35" fill="#0000ff"/>
<line x1="448.60" y1="184.99" x2="455.50" y2="184.99" stroke="#0000ff" stroke-width="0.9" />
<circle cx="452.05" cy="184.99" r="1.35" fill="#0000ff"/>
<line x1="455.50" y1="185.67" x2="462.40" y2="185.67" stroke="#0000ff" stroke-width="0.9" />
<circle cx="458.95" cy="185.67" r="1.35" fill="#0000ff"/>
<line x1="462.40" y1="184.64" x2="469.30" y2="184.64" stroke="#0000ff" stroke-width="0.9" />
<circle cx="465.85" cy="184.64" r="1.35" fill="#0000ff"/>
<line x1="469.30" y1="185.27" x2="476.20" y2="185.27" stroke="#0000ff" stroke-width="0.9" />
<circle cx="472.75" cy="185.27" r="1.35" fill="#0000ff"/>
<line x1="476.20" y1="186.01" x2="483.10" y2="186.01" stroke="#0000ff" stroke-width="0.9" />
<circle cx="479.65" cy="186.01" r="1.35" fill="#0000ff"/>
<line x1="483.10" y1="186.12" x2="490.00" y2="186.12" stroke="#0000ff" stroke-width="0.9" />
<circle cx="486.55" cy="186.12" r="1.35" fill="#0000ff"/>
<line x1="490.00" y1="186.58" x2="496.90" y2="186.58" stroke="#0000ff" stroke-width="0.9" />
<circle cx="493.45" cy="186.58" r="1.35" fill="#0000ff"/>
<line x1="496.90" y1="185.51" x2="503.80" y2="185.51" stroke="#0000ff" stroke-width="0.9" />
<circle cx="500.35" cy="185.51" r="1.35" fill="#0000ff"/>
<line x1="503.80" y1="185.68" x2="510.70" y2="185.68" stroke="#0000ff" stroke-width="0.9" />
<circle cx="507.25" cy="185.68" r="1.35" fill="#0000ff"/>
<line x1="510.70" y1="186.06" x2="517.60" y2="186.06" stroke="#0000ff" stroke-width="0.9" />
<circle cx="514.15" cy="186.06" r="1.35" fill="#0000ff"/>
<line x1="517.60" y1="185.51" x2="524.50" y2="185.51" stroke="#0000ff" stroke-width="0.9" />
<circle cx="521.05" cy="185.51" r="1.35" fill="#0000ff"/>
<line x1="524.50" y1="185.49" x2="531.40" y2="185.49" stroke="#0000ff" stroke-width="0.9" />
<circle cx="527.95" cy="185.49" r="1.35" fill="#0000ff"/>
<line x1="531.40" y1="184.33" x2="538.30" y2="184.33" stroke="#0000ff" stroke-width="0.9" />
<circle cx="534.85" cy="184.33" r="1.35" fill="#0000ff"/>
<line x1="538.30" y1="185.69" x2="545.20" y2="185.69" stroke="#0000ff" stroke-width="0.9" />
<circle cx="541.75" cy="185.69" r="1.35" fill="#0000ff"/>
<line x1="545.20" y1="183.60" x2="552.10" y2="183.60" stroke="#0000ff" stroke-width="0.9" />
<circle cx="548.65" cy="183.60" r="1.35" fill="#0000ff"/>
<line x1="552.10" y1="184.68" x2="559.00" y2="184.68" stroke="#0000ff" stroke-width="0.9" />
<circle cx="555.55" cy="184.68" r="1.35" fill="#0000ff"/>
<line x1="559.00" y1="184.30" x2="565.90" y2="184.30" stroke="#0000ff" stroke-width="0.9" />
<circle cx="562.45" cy="184.30" r="1.35" fill="#0000ff"/>
<line x1="565.90" y1="184.49" x2="572.80" y2="184.49" stroke="#0000ff" stroke-width="0.9" />
<circle cx="569.35" cy="184.49" r="1.35" fill="#0000ff"/>
<line x1="572.80" y1="183.53" x2="579.70" y2="183.53" stroke="#0000ff" stroke-width="0.9" />
<circle cx="576.25" cy="183.53" r="1.35" fill="#0000ff"/>
<line x1="579.70" y1="183.45" x2="586.60" y2="183.45" stroke="#0000ff" stroke-width="0.9" />
<circle cx="583.15" cy="183.45" r="1.35" fill="#0000ff"/>
<line x1="586.60" y1="184.01" x2="593.50" y2="184.01" stroke="#0000ff" stroke-width="0.9" />
<circle cx="590.05" cy="184.01" r="1.35" fill="#0000ff"/>
<line x1="593.50" y1="182.02" x2="600.40" y2="182.02" stroke="#0000ff" stroke-width="0.9" />
<line x1="596.95" y1="180.43" x2="596.95" y2="183.61" stroke="#0000ff" stroke-width="0.9" />
<circle cx="596.95" cy="182.02" r="1.35" fill="#0000ff"/>
<line x1="600.40" y1="179.90" x2="607.30" y2="179.90" stroke="#0000ff" stroke-width="0.9" />
<line x1="603.85" y1="177.25" x2="603.85" y2="182.55" stroke="#0000ff" stroke-width="0.9" />
<circle cx="603.85" cy="179.90" r="1.35" fill="#0000ff"/>
<line x1="607.30" y1="176.45" x2="676.30" y2="176.45" stroke="#0000ff" stroke-width="0.85" />
<line x1="641.80" y1="172.74" x2="641.80" y2="180.16" stroke="#0000ff" stroke-width="1.0" />
<circle cx="641.80" cy="176.45" r="1.35" fill="#0000ff"/>
<rect x="400.30" y="6.30" width="276.00" height="157.00" fill="none" stroke="#000" stroke-width="1.1"/>
<rect x="400.30" y="163.30" width="276.00" height="42.80" fill="none" stroke="#000" stroke-width="1.1"/>
<line x1="400.30" y1="163.65" x2="676.30" y2="163.65" stroke="#000" stroke-width="1.4"/>
<text x="399.40" y="145.37" font-size="11.4" text-anchor="end" font-weight="normal" font-style="normal" font-family='"Liberation Sans", sans-serif' fill="#000" >5</text>
<text x="399.40" y="122.94" font-size="11.4" text-anchor="end" font-weight="normal" font-style="normal" font-family='"Liberation Sans", sans-serif' fill="#000" >10</text>
<text x="399.40" y="100.51" font-size="11.4" text-anchor="end" font-weight="normal" font-style="normal" font-family='"Liberation Sans", sans-serif' fill="#000" >15</text>
<text x="399.40" y="78.09" font-size="11.4" text-anchor="end" font-weight="normal" font-style="normal" font-family='"Liberation Sans", sans-serif' fill="#000" >20</text>
<text x="399.40" y="55.66" font-size="11.4" text-anchor="end" font-weight="normal" font-style="normal" font-family='"Liberation Sans", sans-serif' fill="#000" >25</text>
<text x="399.40" y="33.23" font-size="11.4" text-anchor="end" font-weight="normal" font-style="normal" font-family='"Liberation Sans", sans-serif' fill="#000" >30</text>
<text x="399.40" y="10.80" font-size="11.4" text-anchor="end" font-weight="normal" font-style="normal" font-family='"Liberation Sans", sans-serif' fill="#000" >35</text>
<text x="399.40" y="179.10" font-size="11.4" text-anchor="end" font-weight="normal" font-style="normal" font-family='"Liberation Sans", sans-serif' fill="#000" >1.2</text>
<text x="399.40" y="189.70" font-size="11.4" text-anchor="end" font-weight="normal" font-style="normal" font-family='"Liberation Sans", sans-serif' fill="#000" >1</text>
<text x="399.40" y="200.30" font-size="11.4" text-anchor="end" font-weight="normal" font-style="normal" font-family='"Liberation Sans", sans-serif' fill="#000" >0.8</text>
<text x="400.10" y="217.00" font-size="11.4" text-anchor="middle" font-weight="normal" font-style="normal" font-family='"Liberation Sans", sans-serif' fill="#000" >0</text>
<text x="434.60" y="217.00" font-size="11.4" text-anchor="middle" font-weight="normal" font-style="normal" font-family='"Liberation Sans", sans-serif' fill="#000" >5</text>
<text x="469.10" y="217.00" font-size="11.4" text-anchor="middle" font-weight="normal" font-style="normal" font-family='"Liberation Sans", sans-serif' fill="#000" >10</text>
<text x="503.60" y="217.00" font-size="11.4" text-anchor="middle" font-weight="normal" font-style="normal" font-family='"Liberation Sans", sans-serif' fill="#000" >15</text>
<text x="538.10" y="217.00" font-size="11.4" text-anchor="middle" font-weight="normal" font-style="normal" font-family='"Liberation Sans", sans-serif' fill="#000" >20</text>
<text x="572.60" y="217.00" font-size="11.4" text-anchor="middle" font-weight="normal" font-style="normal" font-family='"Liberation Sans", sans-serif' fill="#000" >25</text>
<text x="607.10" y="217.00" font-size="11.4" text-anchor="middle" font-weight="normal" font-style="normal" font-family='"Liberation Sans", sans-serif' fill="#000" >30</text>
<text x="641.60" y="217.00" font-size="11.4" text-anchor="middle" font-weight="normal" font-style="normal" font-family='"Liberation Sans", sans-serif' fill="#000" >35</text>
<text x="676.10" y="217.00" font-size="11.4" text-anchor="middle" font-weight="normal" font-style="normal" font-family='"Liberation Sans", sans-serif' fill="#000" >40</text>
<text x="467.30" y="231.6" font-size="11.4" letter-spacing="0.2" text-anchor="start" font-family='"Liberation Sans", sans-serif' fill="#000">Number of Reconstructed Vertices (<tspan dx="1.4">N</tspan><tspan font-size="8.4" dy="6.0">PV</tspan><tspan dx="-1.3" dy="-6.0">)</tspan></text>
<text transform="translate(364.30,114.90) rotate(-90)" font-size="11.7" letter-spacing="0.0" font-family='"Liberation Sans", sans-serif' fill="#000">E</text>
<text transform="translate(367.10,107.40) rotate(-90)" font-size="8.0" letter-spacing="0.0" font-family='"Liberation Sans", sans-serif' fill="#000">x</text>
<text transform="translate(359.00,107.40) rotate(-90)" font-size="8.0" letter-spacing="0.0" font-family='"Liberation Sans", sans-serif' fill="#000">miss</text>
<text transform="translate(364.30,90.20) rotate(-90)" font-size="11.7" letter-spacing="0.0" font-family='"Liberation Sans", sans-serif' fill="#000">,</text>
<text transform="translate(364.30,88.90) rotate(-90)" font-size="11.7" letter-spacing="0.0" font-family='"Liberation Sans", sans-serif' fill="#000">E</text>
<text transform="translate(367.10,81.30) rotate(-90)" font-size="8.0" letter-spacing="0.0" font-family='"Liberation Sans", sans-serif' fill="#000">y</text>
<text transform="translate(359.00,81.30) rotate(-90)" font-size="8.0" letter-spacing="0.0" font-family='"Liberation Sans", sans-serif' fill="#000">miss</text>
<text transform="translate(364.30,62.70) rotate(-90)" font-size="11.6" letter-spacing="0.08" font-family='"Liberation Sans", sans-serif' fill="#000">RMS [GeV]</text>
<text transform="translate(367.30,163.4) rotate(-90)" font-size="11.5" letter-spacing="0.22" text-anchor="end" font-family='"Liberation Sans", sans-serif' fill="#000">Data / MC</text>
<text x="539.60" y="251.60" font-size="15" text-anchor="middle" font-weight="bold" font-style="normal" font-family='"Liberation Serif", serif' fill="#000" >(b)</text>
<text x="418.50" y="23.40" font-size="12.7" text-anchor="start" font-weight="bold" font-style="italic" font-family='"Liberation Sans", sans-serif' fill="#000" >ATLAS</text>
<path d="M419.40,35.3 L420.30,34.6" fill="none" stroke="#000" stroke-width="0.8"/>
<line x1="420.95" y1="30.5" x2="420.95" y2="38.3" stroke="#000" stroke-width="1.35"/>
<line x1="420.95" y1="30.5" x2="428.00" y2="30.5" stroke="#000" stroke-width="0.8"/>
<text x="422.70" y="37.5" font-size="9.3" letter-spacing="0.12" font-family='"Liberation Sans", sans-serif' fill="#000">s = 8 TeV, 20.3 fb<tspan font-size="5.9" dx="0.2" dy="-3.5">-1</tspan></text>
<text x="418.50" y="50.3" font-size="9.3" letter-spacing="0.05" font-family='"Liberation Sans", sans-serif' fill="#000">Data 2012, Z</text>
<path d="M472.10,47.6 L479.70,47.6 M477.70,46.00 L479.90,47.6 L477.70,49.20" fill="none" stroke="#000" stroke-width="0.75"/>
<text x="479.90" y="50.3" font-size="9.6" font-family='"Liberation Serif", serif' fill="#000">&#956;&#956;</text>
<text x="493.10" y="50.3" font-size="9.3" letter-spacing="0.05" font-family='"Liberation Sans", sans-serif' fill="#000">Inclusive</text>
<line x1="565.90" y1="110.80" x2="578.30" y2="110.80" stroke="#000" stroke-width="1.0" />
<circle cx="572.10" cy="110.80" r="2.25" fill="#000"/>
<text x="581.60" y="113.70" font-size="8.5" text-anchor="start" font-weight="bold" font-style="normal" font-family='"Liberation Sans", sans-serif' fill="#000" >CST</text>
<line x1="565.90" y1="120.60" x2="578.30" y2="120.60" stroke="#1f9a1f" stroke-width="1.0" />
<polygon points="572.10,118.51 574.68,122.69 569.51,122.69" fill="#1f9a1f"/>
<text x="581.60" y="123.50" font-size="8.5" text-anchor="start" font-weight="bold" font-style="normal" font-family='"Liberation Sans", sans-serif' fill="#000" >TST</text>
<line x1="565.90" y1="130.90" x2="578.30" y2="130.90" stroke="#ff0000" stroke-width="1.0" />
<polygon points="572.10,132.99 574.68,128.81 569.51,128.81" fill="#ff0000"/>
<text x="581.60" y="133.80" font-size="8.5" text-anchor="start" font-weight="bold" font-style="normal" font-family='"Liberation Sans", sans-serif' fill="#000" >STVF</text>
<line x1="565.90" y1="140.30" x2="578.30" y2="140.30" stroke="#00ffff" stroke-width="1.0" />
<rect x="569.62" y="137.83" width="4.95" height="4.95" fill="#00ffff"/>
<text x="581.60" y="143.20" font-size="8.5" text-anchor="start" font-weight="bold" font-style="normal" font-family='"Liberation Sans", sans-serif' fill="#000" >EJAF</text>
<line x1="565.90" y1="149.60" x2="578.30" y2="149.60" stroke="#0000ff" stroke-width="1.0" />
<circle cx="572.10" cy="149.60" r="1.49" fill="#0000ff"/>
<text x="581.60" y="152.50" font-size="8.5" text-anchor="start" font-weight="bold" font-style="normal" font-family='"Liberation Sans", sans-serif' fill="#000" >Track</text>
</svg>
</body></html>
